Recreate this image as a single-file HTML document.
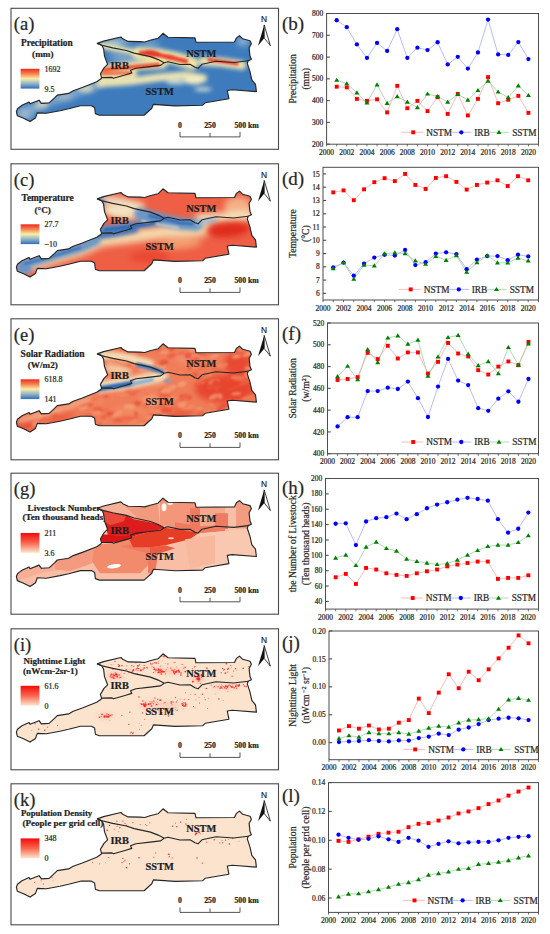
<!DOCTYPE html><html><head><meta charset="utf-8"><style>html,body{margin:0;padding:0;background:#fff;width:550px;height:934px;overflow:hidden;}svg{display:block;}</style></head><body>
<svg width="550" height="934" viewBox="0 0 550 934" font-family="'Liberation Serif', serif">
<style>text{stroke:#2a2a2a;stroke-width:0.22px;}</style>
<defs>
<linearGradient id="gPre" x1="0" y1="0" x2="0" y2="1"><stop offset="0" stop-color="#ec2a1f"/><stop offset="0.25" stop-color="#f7834f"/><stop offset="0.5" stop-color="#f6efa9"/><stop offset="0.75" stop-color="#93b3c6"/><stop offset="1" stop-color="#2f6eb8"/></linearGradient>
<linearGradient id="gRed" x1="0" y1="0" x2="0" y2="1"><stop offset="0" stop-color="#f50a0a"/><stop offset="0.5" stop-color="#f8664e"/><stop offset="1" stop-color="#fde4cc"/></linearGradient>
<filter id="blur3" x="-30%" y="-30%" width="160%" height="160%"><feGaussianBlur stdDeviation="3"/></filter>
<filter id="blur2" x="-30%" y="-30%" width="160%" height="160%"><feGaussianBlur stdDeviation="2"/></filter>
<filter id="blur1" x="-30%" y="-30%" width="160%" height="160%"><feGaussianBlur stdDeviation="1.2"/></filter>
<filter id="blur0" x="-30%" y="-30%" width="160%" height="160%"><feGaussianBlur stdDeviation="0.4"/></filter>
</defs>
<rect width="550" height="934" fill="#fff"/>
<rect x="11" y="8.3" width="267.5" height="141" fill="none" stroke="#4a4a4a" stroke-width="1.1"/>
<text x="13.8" y="30.3" font-size="18.5" fill="#262626">(a)</text>
<text x="21.1" y="45.8" font-size="9.3" font-weight="bold" fill="#1a1a1a">Precipitation</text>
<text x="32.1" y="56.6" font-size="9.2" font-weight="bold" fill="#1a1a1a">(mm)</text>
<rect x="20.6" y="68.8" width="18.8" height="19.8" fill="url(#gPre)"/>
<text x="44.6" y="71.8" font-size="8" fill="#262626">1692</text>
<text x="44.6" y="91.6" font-size="8" fill="#262626">9.5</text>
<g transform="translate(0,8.3)">
<clipPath id="clipa"><polygon points="16.4,103.3 17.5,100.5 19.1,99.2 22.0,97.0 29.1,93.7 30.0,95.5 39.1,91.9 41.4,95.1 49.1,94.6 54.5,89.6 57.3,86.8 68.6,85.1 73.2,82.4 82.3,79.2 96.7,73.5 101.1,70.5 101.5,69.1 100.4,65.5 101.8,63.3 104.0,59.6 107.6,56.0 104.5,47.8 103.6,40.5 101.8,36.9 97.3,35.1 103.6,32.8 120.9,28.7 122.7,30.5 128.2,33.1 140.0,33.3 144.7,33.7 150.0,32.0 158.0,30.0 163.0,25.0 168.0,29.0 195.0,29.6 196.0,34.0 234.5,33.7 236.4,29.6 239.5,27.4 242.7,30.5 250.0,32.4 251.4,35.5 249.1,39.6 250.0,47.8 251.4,51.0 248.2,52.4 247.3,55.1 250.0,63.3 251.8,71.5 255.5,76.0 256.4,83.3 232.2,81.4 227.3,82.2 228.9,90.4 205.2,94.5 202.7,96.9 175.0,97.6 153.4,96.1 151.8,100.0 144.1,106.9 99.3,106.9 95.4,105.4 94.6,99.2 91.4,97.4 80.5,97.4 68.6,100.5 60.0,102.4 46.4,105.0 37.3,104.6 35.5,109.6 30.0,113.3 23.6,110.0 17.3,107.4"/></clipPath>
<g clip-path="url(#clipa)">
<rect x="0" y="0" width="280" height="141" fill="#3d7bbd"/>
<g filter="url(#blur3)">
<ellipse cx="120" cy="33" rx="12" ry="3" fill="#8fb4d0" transform="rotate(0 120 33)"/>
<ellipse cx="243" cy="33" rx="6" ry="4" fill="#9dbcd8" transform="rotate(0 243 33)"/>
<ellipse cx="112" cy="36" rx="10" ry="2.5" fill="#c8d4c8" transform="rotate(8 112 36)"/>
<ellipse cx="150" cy="36" rx="10" ry="2.5" fill="#90b0d0" transform="rotate(0 150 36)"/>
<path d="M20,104 L40,97 L60,90 L80,83 L98,76" stroke="#80a7cc" stroke-width="8" fill="none" stroke-linecap="round" stroke-linejoin="round"/>
<ellipse cx="25" cy="106" rx="8" ry="6" fill="#9ab8cf" transform="rotate(0 25 106)"/>
<ellipse cx="40" cy="98" rx="6" ry="3" fill="#b8c8c8" transform="rotate(0 40 98)"/>
<ellipse cx="65" cy="89" rx="8" ry="2.5" fill="#c0ccc4" transform="rotate(0 65 89)"/>
<ellipse cx="88" cy="81" rx="6" ry="2" fill="#d0d4c0" transform="rotate(0 88 81)"/>
<ellipse cx="125" cy="50" rx="16" ry="5" fill="#7ea4c8" transform="rotate(12 125 50)"/>
</g>
<g filter="url(#blur2)">
<path d="M100,37 L115,40 L135,44" stroke="#ece6b0" stroke-width="6" fill="none" stroke-linecap="round" stroke-linejoin="round"/>
<path d="M138,45 L160,47 L175,50 L192,55" stroke="#f1e4a6" stroke-width="13" fill="none" stroke-linecap="round" stroke-linejoin="round"/>
<path d="M203,53 L222,54 L242,57" stroke="#efe3ad" stroke-width="9" fill="none" stroke-linecap="round" stroke-linejoin="round"/>
<path d="M102,61 L130,58 L163,56" stroke="#efe0a8" stroke-width="9" fill="none" stroke-linecap="round" stroke-linejoin="round"/>
<path d="M98,67 L133,65" stroke="#efe0a8" stroke-width="8" fill="none" stroke-linecap="round" stroke-linejoin="round"/>
<path d="M100,75 L130,73 L160,69 L185,67 L203,70" stroke="#e9e2b2" stroke-width="8" fill="none" stroke-linecap="round" stroke-linejoin="round"/>
<ellipse cx="194" cy="72" rx="10" ry="4" fill="#f2ecc0" transform="rotate(0 194 72)"/>
<ellipse cx="203" cy="81" rx="9" ry="2.2" fill="#c8d4cc" transform="rotate(0 203 81)"/>
<ellipse cx="42" cy="96" rx="6" ry="2.5" fill="#d0d4bc" transform="rotate(0 42 96)"/>
<ellipse cx="85" cy="80" rx="8" ry="3" fill="#d0d4bc" transform="rotate(0 85 80)"/>
<ellipse cx="176" cy="74" rx="10" ry="2.5" fill="#c0d0d0" transform="rotate(0 176 74)"/>
</g>
<g filter="url(#blur1)">
<path d="M141,44.5 L158,46.5 L172,49.5 L186,53" stroke="#ec4a33" stroke-width="4.5" fill="none" stroke-linecap="round" stroke-linejoin="round"/>
<ellipse cx="152" cy="45" rx="9" ry="3.2" fill="#e83a2a" transform="rotate(8 152 45)"/>
<ellipse cx="170" cy="49" rx="6" ry="2.5" fill="#ea4530" transform="rotate(10 170 49)"/>
<path d="M209,51.5 L224,53.5 L237,55.5" stroke="#ec4a33" stroke-width="3.5" fill="none" stroke-linecap="round" stroke-linejoin="round"/>
<path d="M104,61.5 L130,59 L158,56.5" stroke="#ee5535" stroke-width="4" fill="none" stroke-linecap="round" stroke-linejoin="round"/>
<path d="M101,65.5 L130,64.5" stroke="#f06a42" stroke-width="3" fill="none" stroke-linecap="round" stroke-linejoin="round"/>
</g>
</g>
<polygon points="16.4,103.3 17.5,100.5 19.1,99.2 22.0,97.0 29.1,93.7 30.0,95.5 39.1,91.9 41.4,95.1 49.1,94.6 54.5,89.6 57.3,86.8 68.6,85.1 73.2,82.4 82.3,79.2 96.7,73.5 101.1,70.5 101.5,69.1 100.4,65.5 101.8,63.3 104.0,59.6 107.6,56.0 104.5,47.8 103.6,40.5 101.8,36.9 97.3,35.1 103.6,32.8 120.9,28.7 122.7,30.5 128.2,33.1 140.0,33.3 144.7,33.7 150.0,32.0 158.0,30.0 163.0,25.0 168.0,29.0 195.0,29.6 196.0,34.0 234.5,33.7 236.4,29.6 239.5,27.4 242.7,30.5 250.0,32.4 251.4,35.5 249.1,39.6 250.0,47.8 251.4,51.0 248.2,52.4 247.3,55.1 250.0,63.3 251.8,71.5 255.5,76.0 256.4,83.3 232.2,81.4 227.3,82.2 228.9,90.4 205.2,94.5 202.7,96.9 175.0,97.6 153.4,96.1 151.8,100.0 144.1,106.9 99.3,106.9 95.4,105.4 94.6,99.2 91.4,97.4 80.5,97.4 68.6,100.5 60.0,102.4 46.4,105.0 37.3,104.6 35.5,109.6 30.0,113.3 23.6,110.0 17.3,107.4" fill="none" stroke="#262626" stroke-width="1.15" stroke-linejoin="round"/>
<polyline points="97.3,35.1 101.8,36.9 112.7,39.6 126.4,42.2 134.2,44.8 150.5,48.3 158.2,51.3 164.2,54.5" fill="none" stroke="#262626" stroke-width="1.15" stroke-linejoin="round"/>
<polyline points="164.2,54.5 168.0,53.5 180.0,56.2 190.0,56.0 195.0,59.0 198.0,60.0 202.0,56.0 216.0,53.0 233.6,54.2 248.2,52.4" fill="none" stroke="#262626" stroke-width="1.15" stroke-linejoin="round"/>
<polyline points="164.2,54.5 160.5,57.1 148.0,58.6 135.9,59.9 130.5,61.9 131.8,64.6 125.0,66.7 113.5,70.0 112.0,69.1 101.5,69.3" fill="none" stroke="#262626" stroke-width="1.15" stroke-linejoin="round"/>
<text x="186.3" y="48.4" font-size="10.4" font-weight="bold" fill="#1a1a1a">NSTM</text>
<text x="110.5" y="60.4" font-size="10.4" font-weight="bold" fill="#1a1a1a">IRB</text>
<text x="145.6" y="86.6" font-size="10.4" font-weight="bold" fill="#1a1a1a">SSTM</text>
<text x="180" y="119.4" font-size="7.8" font-weight="bold" text-anchor="middle" fill="#1a1a1a">0</text>
<text x="210" y="119.4" font-size="7.8" font-weight="bold" text-anchor="middle" fill="#1a1a1a">250</text>
<text x="234.4" y="119.4" font-size="7.8" font-weight="bold" fill="#1a1a1a">500 km</text>
<polyline points="180,123.6 180,128.6 240,128.6 240,123.6" fill="none" stroke="#555" stroke-width="1"/>
<line x1="210" y1="124.6" x2="210" y2="128.6" stroke="#555" stroke-width="1"/>
<text x="264" y="14.0" font-size="9.9" text-anchor="middle" font-family="Liberation Sans" fill="#1a1a1a" transform="translate(264,14) scale(0.85,1) translate(-264,-14)">N</text>
<path d="M264.2,16.6 L258.0,37.4 L264.3,29.8Z" fill="#111"/>
<path d="M264.2,16.6 L270.4,37.4 L264.3,29.8Z" fill="#fff" stroke="#111" stroke-width="0.8" stroke-linejoin="miter"/>
</g>
<rect x="11" y="163.8" width="267.5" height="141" fill="none" stroke="#4a4a4a" stroke-width="1.1"/>
<text x="13.8" y="185.8" font-size="18.5" fill="#262626">(c)</text>
<text x="21.5" y="201.3" font-size="9.4" font-weight="bold" fill="#1a1a1a">Temperature</text>
<text x="34.5" y="212.5" font-size="9.2" font-weight="bold" fill="#1a1a1a">(°C)</text>
<rect x="20.6" y="224.3" width="18.8" height="19.8" fill="url(#gPre)"/>
<text x="44.6" y="227.3" font-size="8" fill="#262626">27.7</text>
<text x="44.6" y="247.1" font-size="8" fill="#262626">−10</text>
<g transform="translate(0,163.8)">
<clipPath id="clipc"><polygon points="16.4,103.3 17.5,100.5 19.1,99.2 22.0,97.0 29.1,93.7 30.0,95.5 39.1,91.9 41.4,95.1 49.1,94.6 54.5,89.6 57.3,86.8 68.6,85.1 73.2,82.4 82.3,79.2 96.7,73.5 101.1,70.5 101.5,69.1 100.4,65.5 101.8,63.3 104.0,59.6 107.6,56.0 104.5,47.8 103.6,40.5 101.8,36.9 97.3,35.1 103.6,32.8 120.9,28.7 122.7,30.5 128.2,33.1 140.0,33.3 144.7,33.7 150.0,32.0 158.0,30.0 163.0,25.0 168.0,29.0 195.0,29.6 196.0,34.0 234.5,33.7 236.4,29.6 239.5,27.4 242.7,30.5 250.0,32.4 251.4,35.5 249.1,39.6 250.0,47.8 251.4,51.0 248.2,52.4 247.3,55.1 250.0,63.3 251.8,71.5 255.5,76.0 256.4,83.3 232.2,81.4 227.3,82.2 228.9,90.4 205.2,94.5 202.7,96.9 175.0,97.6 153.4,96.1 151.8,100.0 144.1,106.9 99.3,106.9 95.4,105.4 94.6,99.2 91.4,97.4 80.5,97.4 68.6,100.5 60.0,102.4 46.4,105.0 37.3,104.6 35.5,109.6 30.0,113.3 23.6,110.0 17.3,107.4"/></clipPath>
<g clip-path="url(#clipc)">
<rect x="0" y="0" width="280" height="141" fill="#ee5f45"/>
<g filter="url(#blur3)">
<path d="M100,36 L120,38 L140,43" stroke="#f2e0c0" stroke-width="9" fill="none" stroke-linecap="round" stroke-linejoin="round"/>
<ellipse cx="122" cy="49" rx="20" ry="6" fill="#f5dcb4" transform="rotate(8 122 49)"/>
<path d="M96,77 L130,73 L165,68 L205,66" stroke="#f5d6a8" stroke-width="13" fill="none" stroke-linecap="round" stroke-linejoin="round"/>
<path d="M22,104 L50,97 L80,88 L98,80" stroke="#f3d4a8" stroke-width="9" fill="none" stroke-linecap="round" stroke-linejoin="round"/>
<ellipse cx="238" cy="42" rx="14" ry="9" fill="#f6b088" transform="rotate(0 238 42)"/>
<path d="M200,55 L250,52" stroke="#f5e0b8" stroke-width="10" fill="none" stroke-linecap="round" stroke-linejoin="round"/>
<ellipse cx="110" cy="36" rx="12" ry="3" fill="#e8e0c8" transform="rotate(8 110 36)"/>
<ellipse cx="180" cy="80" rx="22" ry="5" fill="#f3a070" transform="rotate(-5 180 80)"/>
</g>
<g filter="url(#blur2)">
<path d="M140,50 L152,53 L166,57 L182,60 L197,61" stroke="#6a98c8" stroke-width="12" fill="none" stroke-linecap="round" stroke-linejoin="round"/>
<path d="M198,59 L215,56" stroke="#9ab8d0" stroke-width="5" fill="none" stroke-linecap="round" stroke-linejoin="round"/>
<path d="M101,66 L130,62 L161,58" stroke="#5a8cc4" stroke-width="7" fill="none" stroke-linecap="round" stroke-linejoin="round"/>
<path d="M94,73 L115,70 L135,66" stroke="#3a72b8" stroke-width="6" fill="none" stroke-linecap="round" stroke-linejoin="round"/>
<path d="M20,101 L50,93 L80,84 L96,77" stroke="#6a98c8" stroke-width="9" fill="none" stroke-linecap="round" stroke-linejoin="round"/>
<ellipse cx="24" cy="105" rx="8" ry="6" fill="#6a94c4" transform="rotate(0 24 105)"/>
<ellipse cx="101" cy="38" rx="4" ry="3" fill="#3a70b0" transform="rotate(0 101 38)"/>
<ellipse cx="118" cy="47" rx="12" ry="3" fill="#f0e4c8" transform="rotate(8 118 47)"/>
</g>
<g filter="url(#blur1)">
<path d="M150,52 L164,55 L180,59 L192,60" stroke="#3a6fb5" stroke-width="3.5" fill="none" stroke-linecap="round" stroke-linejoin="round"/>
<path d="M142,57 L160,61 L178,64" stroke="#c8d4d0" stroke-width="2" fill="none" stroke-linecap="round" stroke-linejoin="round"/>
<path d="M105,66 L130,63 L155,59" stroke="#2f66b0" stroke-width="3" fill="none" stroke-linecap="round" stroke-linejoin="round"/>
<path d="M25,100 L50,93 L80,84" stroke="#3f76ba" stroke-width="2.5" fill="none" stroke-linecap="round" stroke-linejoin="round"/>
</g>
<g filter="url(#blur3)">
<ellipse cx="228" cy="66" rx="22" ry="7" fill="#e02a1f" transform="rotate(-5 228 66)"/>
<ellipse cx="150" cy="93" rx="20" ry="6" fill="#ea4632" transform="rotate(0 150 93)"/>
</g>
</g>
<polygon points="16.4,103.3 17.5,100.5 19.1,99.2 22.0,97.0 29.1,93.7 30.0,95.5 39.1,91.9 41.4,95.1 49.1,94.6 54.5,89.6 57.3,86.8 68.6,85.1 73.2,82.4 82.3,79.2 96.7,73.5 101.1,70.5 101.5,69.1 100.4,65.5 101.8,63.3 104.0,59.6 107.6,56.0 104.5,47.8 103.6,40.5 101.8,36.9 97.3,35.1 103.6,32.8 120.9,28.7 122.7,30.5 128.2,33.1 140.0,33.3 144.7,33.7 150.0,32.0 158.0,30.0 163.0,25.0 168.0,29.0 195.0,29.6 196.0,34.0 234.5,33.7 236.4,29.6 239.5,27.4 242.7,30.5 250.0,32.4 251.4,35.5 249.1,39.6 250.0,47.8 251.4,51.0 248.2,52.4 247.3,55.1 250.0,63.3 251.8,71.5 255.5,76.0 256.4,83.3 232.2,81.4 227.3,82.2 228.9,90.4 205.2,94.5 202.7,96.9 175.0,97.6 153.4,96.1 151.8,100.0 144.1,106.9 99.3,106.9 95.4,105.4 94.6,99.2 91.4,97.4 80.5,97.4 68.6,100.5 60.0,102.4 46.4,105.0 37.3,104.6 35.5,109.6 30.0,113.3 23.6,110.0 17.3,107.4" fill="none" stroke="#262626" stroke-width="1.15" stroke-linejoin="round"/>
<polyline points="97.3,35.1 101.8,36.9 112.7,39.6 126.4,42.2 134.2,44.8 150.5,48.3 158.2,51.3 164.2,54.5" fill="none" stroke="#262626" stroke-width="1.15" stroke-linejoin="round"/>
<polyline points="164.2,54.5 168.0,53.5 180.0,56.2 190.0,56.0 195.0,59.0 198.0,60.0 202.0,56.0 216.0,53.0 233.6,54.2 248.2,52.4" fill="none" stroke="#262626" stroke-width="1.15" stroke-linejoin="round"/>
<polyline points="164.2,54.5 160.5,57.1 148.0,58.6 135.9,59.9 130.5,61.9 131.8,64.6 125.0,66.7 113.5,70.0 112.0,69.1 101.5,69.3" fill="none" stroke="#262626" stroke-width="1.15" stroke-linejoin="round"/>
<text x="186.3" y="48.4" font-size="10.4" font-weight="bold" fill="#1a1a1a">NSTM</text>
<text x="110.5" y="60.4" font-size="10.4" font-weight="bold" fill="#1a1a1a">IRB</text>
<text x="145.6" y="86.6" font-size="10.4" font-weight="bold" fill="#1a1a1a">SSTM</text>
<text x="180" y="119.4" font-size="7.8" font-weight="bold" text-anchor="middle" fill="#1a1a1a">0</text>
<text x="210" y="119.4" font-size="7.8" font-weight="bold" text-anchor="middle" fill="#1a1a1a">250</text>
<text x="234.4" y="119.4" font-size="7.8" font-weight="bold" fill="#1a1a1a">500 km</text>
<polyline points="180,123.6 180,128.6 240,128.6 240,123.6" fill="none" stroke="#555" stroke-width="1"/>
<line x1="210" y1="124.6" x2="210" y2="128.6" stroke="#555" stroke-width="1"/>
<text x="264" y="14.0" font-size="9.9" text-anchor="middle" font-family="Liberation Sans" fill="#1a1a1a" transform="translate(264,14) scale(0.85,1) translate(-264,-14)">N</text>
<path d="M264.2,16.6 L258.0,37.4 L264.3,29.8Z" fill="#111"/>
<path d="M264.2,16.6 L270.4,37.4 L264.3,29.8Z" fill="#fff" stroke="#111" stroke-width="0.8" stroke-linejoin="miter"/>
</g>
<rect x="11" y="318.8" width="267.5" height="141" fill="none" stroke="#4a4a4a" stroke-width="1.1"/>
<text x="13.8" y="340.8" font-size="18.5" fill="#262626">(e)</text>
<text x="20.6" y="357.1" font-size="9.5" font-weight="bold" fill="#1a1a1a">Solar Radiation</text>
<text x="27.7" y="367.8" font-size="9.2" font-weight="bold" fill="#1a1a1a">(W/m2)</text>
<rect x="20.6" y="379.3" width="18.8" height="19.8" fill="url(#gPre)"/>
<text x="44.6" y="382.3" font-size="8" fill="#262626">618.8</text>
<text x="44.6" y="402.1" font-size="8" fill="#262626">141</text>
<g transform="translate(0,318.8)">
<clipPath id="clipe"><polygon points="16.4,103.3 17.5,100.5 19.1,99.2 22.0,97.0 29.1,93.7 30.0,95.5 39.1,91.9 41.4,95.1 49.1,94.6 54.5,89.6 57.3,86.8 68.6,85.1 73.2,82.4 82.3,79.2 96.7,73.5 101.1,70.5 101.5,69.1 100.4,65.5 101.8,63.3 104.0,59.6 107.6,56.0 104.5,47.8 103.6,40.5 101.8,36.9 97.3,35.1 103.6,32.8 120.9,28.7 122.7,30.5 128.2,33.1 140.0,33.3 144.7,33.7 150.0,32.0 158.0,30.0 163.0,25.0 168.0,29.0 195.0,29.6 196.0,34.0 234.5,33.7 236.4,29.6 239.5,27.4 242.7,30.5 250.0,32.4 251.4,35.5 249.1,39.6 250.0,47.8 251.4,51.0 248.2,52.4 247.3,55.1 250.0,63.3 251.8,71.5 255.5,76.0 256.4,83.3 232.2,81.4 227.3,82.2 228.9,90.4 205.2,94.5 202.7,96.9 175.0,97.6 153.4,96.1 151.8,100.0 144.1,106.9 99.3,106.9 95.4,105.4 94.6,99.2 91.4,97.4 80.5,97.4 68.6,100.5 60.0,102.4 46.4,105.0 37.3,104.6 35.5,109.6 30.0,113.3 23.6,110.0 17.3,107.4"/></clipPath>
<g clip-path="url(#clipe)">
<rect x="0" y="0" width="280" height="141" fill="#f07c58"/>
<g filter="url(#blur3)">
<ellipse cx="225" cy="70" rx="30" ry="14" fill="#e8452f" transform="rotate(0 225 70)"/>
<ellipse cx="238" cy="45" rx="14" ry="12" fill="#e94a32" transform="rotate(0 238 45)"/>
<ellipse cx="175" cy="95" rx="18" ry="5" fill="#ea5a3e" transform="rotate(0 175 95)"/>
<ellipse cx="60" cy="100" rx="15" ry="4" fill="#ea5a3e" transform="rotate(-15 60 100)"/>
<ellipse cx="130" cy="92" rx="16" ry="6" fill="#f08a62" transform="rotate(0 130 92)"/>
<ellipse cx="190" cy="40" rx="15" ry="5" fill="#f29070" transform="rotate(0 190 40)"/>
<ellipse cx="150" cy="80" rx="10" ry="4" fill="#f39e7a" transform="rotate(0 150 80)"/>
<ellipse cx="25" cy="106" rx="10" ry="5" fill="#e44c34" transform="rotate(0 25 106)"/>
<ellipse cx="160" cy="97" rx="14" ry="4" fill="#f4a27e" transform="rotate(0 160 97)"/>
</g>
<g filter="url(#blur1)" opacity="0.7">
<ellipse cx="166.4" cy="91.8" rx="6.0" ry="2.9" fill="#e44a34" transform="rotate(1 166.4 91.8)"/>
<ellipse cx="22.0" cy="66.9" rx="6.7" ry="2.3" fill="#e9573a" transform="rotate(7 22.0 66.9)"/>
<ellipse cx="105.3" cy="103.2" rx="3.9" ry="1.2" fill="#f28a62" transform="rotate(-16 105.3 103.2)"/>
<ellipse cx="114.2" cy="41.4" rx="6.3" ry="1.8" fill="#e9573a" transform="rotate(2 114.2 41.4)"/>
<ellipse cx="48.7" cy="80.6" rx="2.6" ry="1.0" fill="#f28a62" transform="rotate(5 48.7 80.6)"/>
<ellipse cx="203.0" cy="111.4" rx="2.8" ry="1.3" fill="#f28a62" transform="rotate(-14 203.0 111.4)"/>
<ellipse cx="146.0" cy="86.0" rx="3.0" ry="2.9" fill="#ec6446" transform="rotate(-1 146.0 86.0)"/>
<ellipse cx="87.6" cy="57.5" rx="2.8" ry="1.3" fill="#f5a27a" transform="rotate(-23 87.6 57.5)"/>
<ellipse cx="213.6" cy="77.8" rx="5.0" ry="2.4" fill="#f5a27a" transform="rotate(-23 213.6 77.8)"/>
<ellipse cx="213.9" cy="68.3" rx="3.6" ry="2.0" fill="#e9573a" transform="rotate(-0 213.9 68.3)"/>
<ellipse cx="77.3" cy="109.5" rx="6.7" ry="1.7" fill="#e44a34" transform="rotate(-11 77.3 109.5)"/>
<ellipse cx="206.4" cy="58.0" rx="4.9" ry="1.0" fill="#f28a62" transform="rotate(-23 206.4 58.0)"/>
<ellipse cx="166.6" cy="110.9" rx="2.6" ry="1.5" fill="#ec6446" transform="rotate(4 166.6 110.9)"/>
<ellipse cx="98.7" cy="56.9" rx="4.6" ry="2.6" fill="#f5a27a" transform="rotate(-21 98.7 56.9)"/>
<ellipse cx="223.9" cy="28.3" rx="6.7" ry="1.2" fill="#e44a34" transform="rotate(-13 223.9 28.3)"/>
<ellipse cx="103.1" cy="38.3" rx="3.4" ry="2.4" fill="#f5a27a" transform="rotate(-22 103.1 38.3)"/>
<ellipse cx="89.4" cy="96.9" rx="5.1" ry="2.4" fill="#ec6446" transform="rotate(-14 89.4 96.9)"/>
<ellipse cx="54.3" cy="29.4" rx="6.9" ry="2.1" fill="#f28a62" transform="rotate(-11 54.3 29.4)"/>
<ellipse cx="195.0" cy="55.9" rx="3.3" ry="2.3" fill="#e9573a" transform="rotate(-20 195.0 55.9)"/>
<ellipse cx="209.8" cy="55.1" rx="3.0" ry="3.0" fill="#f28a62" transform="rotate(-5 209.8 55.1)"/>
<ellipse cx="168.2" cy="95.9" rx="2.5" ry="1.9" fill="#ec6446" transform="rotate(-20 168.2 95.9)"/>
<ellipse cx="86.6" cy="65.8" rx="7.0" ry="2.7" fill="#ec6446" transform="rotate(9 86.6 65.8)"/>
<ellipse cx="248.3" cy="87.0" rx="3.6" ry="1.5" fill="#f28a62" transform="rotate(-9 248.3 87.0)"/>
<ellipse cx="42.4" cy="99.0" rx="4.7" ry="1.4" fill="#f5a27a" transform="rotate(8 42.4 99.0)"/>
<ellipse cx="58.8" cy="69.3" rx="4.6" ry="2.1" fill="#e9573a" transform="rotate(-7 58.8 69.3)"/>
<ellipse cx="206.0" cy="94.7" rx="5.5" ry="2.3" fill="#f5a27a" transform="rotate(2 206.0 94.7)"/>
<ellipse cx="150.9" cy="85.1" rx="6.2" ry="1.5" fill="#f5a27a" transform="rotate(9 150.9 85.1)"/>
<ellipse cx="247.5" cy="55.6" rx="2.9" ry="2.7" fill="#f5a27a" transform="rotate(-8 247.5 55.6)"/>
<ellipse cx="94.2" cy="49.6" rx="3.4" ry="2.0" fill="#f5a27a" transform="rotate(-1 94.2 49.6)"/>
<ellipse cx="99.5" cy="83.0" rx="5.7" ry="2.7" fill="#f28a62" transform="rotate(-13 99.5 83.0)"/>
<ellipse cx="226.4" cy="87.0" rx="6.9" ry="2.9" fill="#e44a34" transform="rotate(-7 226.4 87.0)"/>
<ellipse cx="253.2" cy="42.9" rx="3.8" ry="2.7" fill="#e9573a" transform="rotate(-15 253.2 42.9)"/>
<ellipse cx="189.9" cy="90.7" rx="2.9" ry="2.6" fill="#ec6446" transform="rotate(-5 189.9 90.7)"/>
<ellipse cx="88.5" cy="74.8" rx="6.3" ry="1.5" fill="#f28a62" transform="rotate(10 88.5 74.8)"/>
<ellipse cx="53.9" cy="64.7" rx="5.3" ry="1.4" fill="#e9573a" transform="rotate(-1 53.9 64.7)"/>
<ellipse cx="254.7" cy="113.2" rx="2.8" ry="2.8" fill="#f28a62" transform="rotate(-21 254.7 113.2)"/>
<ellipse cx="132.3" cy="74.3" rx="4.1" ry="1.7" fill="#e9573a" transform="rotate(-2 132.3 74.3)"/>
<ellipse cx="158.4" cy="46.4" rx="6.5" ry="1.0" fill="#f5a27a" transform="rotate(-11 158.4 46.4)"/>
<ellipse cx="223.0" cy="103.0" rx="5.4" ry="2.1" fill="#e44a34" transform="rotate(9 223.0 103.0)"/>
<ellipse cx="164.1" cy="33.5" rx="4.7" ry="1.7" fill="#f5a27a" transform="rotate(-5 164.1 33.5)"/>
<ellipse cx="213.9" cy="62.7" rx="6.1" ry="2.3" fill="#f28a62" transform="rotate(-12 213.9 62.7)"/>
<ellipse cx="53.1" cy="59.4" rx="4.4" ry="1.4" fill="#e9573a" transform="rotate(-20 53.1 59.4)"/>
<ellipse cx="100.3" cy="105.4" rx="2.0" ry="1.2" fill="#e44a34" transform="rotate(-5 100.3 105.4)"/>
<ellipse cx="146.1" cy="54.3" rx="6.4" ry="2.1" fill="#f28a62" transform="rotate(-10 146.1 54.3)"/>
<ellipse cx="134.9" cy="68.2" rx="5.5" ry="1.8" fill="#f28a62" transform="rotate(5 134.9 68.2)"/>
<ellipse cx="159.8" cy="48.4" rx="6.9" ry="2.0" fill="#f5a27a" transform="rotate(-10 159.8 48.4)"/>
<ellipse cx="244.7" cy="52.7" rx="6.6" ry="1.3" fill="#e44a34" transform="rotate(-24 244.7 52.7)"/>
<ellipse cx="248.5" cy="47.1" rx="2.2" ry="1.3" fill="#ec6446" transform="rotate(-11 248.5 47.1)"/>
<ellipse cx="144.4" cy="49.6" rx="6.7" ry="2.6" fill="#f5a27a" transform="rotate(-16 144.4 49.6)"/>
<ellipse cx="220.1" cy="89.9" rx="3.4" ry="2.0" fill="#e44a34" transform="rotate(10 220.1 89.9)"/>
<ellipse cx="171.7" cy="79.3" rx="5.7" ry="1.2" fill="#f5a27a" transform="rotate(2 171.7 79.3)"/>
<ellipse cx="83.6" cy="88.7" rx="5.1" ry="2.5" fill="#f5a27a" transform="rotate(-24 83.6 88.7)"/>
<ellipse cx="102.7" cy="92.1" rx="5.0" ry="1.1" fill="#ec6446" transform="rotate(-16 102.7 92.1)"/>
<ellipse cx="181.6" cy="34.7" rx="5.4" ry="1.4" fill="#ec6446" transform="rotate(-10 181.6 34.7)"/>
<ellipse cx="159.6" cy="87.0" rx="6.8" ry="2.3" fill="#ec6446" transform="rotate(5 159.6 87.0)"/>
<ellipse cx="130.6" cy="86.4" rx="5.6" ry="2.8" fill="#e9573a" transform="rotate(-9 130.6 86.4)"/>
<ellipse cx="88.8" cy="25.3" rx="5.9" ry="2.2" fill="#ec6446" transform="rotate(-2 88.8 25.3)"/>
<ellipse cx="236.3" cy="37.8" rx="4.4" ry="2.1" fill="#f5a27a" transform="rotate(-8 236.3 37.8)"/>
<ellipse cx="145.7" cy="63.3" rx="4.7" ry="1.1" fill="#f5a27a" transform="rotate(1 145.7 63.3)"/>
<ellipse cx="214.2" cy="96.3" rx="5.3" ry="1.1" fill="#e9573a" transform="rotate(0 214.2 96.3)"/>
<ellipse cx="257.6" cy="88.1" rx="2.2" ry="2.7" fill="#e9573a" transform="rotate(-17 257.6 88.1)"/>
<ellipse cx="188.1" cy="37.1" rx="3.5" ry="2.8" fill="#e44a34" transform="rotate(-20 188.1 37.1)"/>
<ellipse cx="60.0" cy="97.2" rx="2.3" ry="1.4" fill="#ec6446" transform="rotate(-6 60.0 97.2)"/>
<ellipse cx="196.2" cy="50.2" rx="4.9" ry="1.2" fill="#e44a34" transform="rotate(-11 196.2 50.2)"/>
<ellipse cx="47.6" cy="63.9" rx="3.6" ry="2.2" fill="#f5a27a" transform="rotate(-8 47.6 63.9)"/>
<ellipse cx="237.3" cy="37.4" rx="3.5" ry="2.1" fill="#f5a27a" transform="rotate(-1 237.3 37.4)"/>
<ellipse cx="236.2" cy="74.9" rx="5.1" ry="1.5" fill="#f5a27a" transform="rotate(-6 236.2 74.9)"/>
<ellipse cx="217.3" cy="50.5" rx="6.9" ry="2.6" fill="#ec6446" transform="rotate(5 217.3 50.5)"/>
<ellipse cx="194.0" cy="41.1" rx="5.6" ry="2.3" fill="#e9573a" transform="rotate(-22 194.0 41.1)"/>
<ellipse cx="37.2" cy="36.2" rx="5.0" ry="1.5" fill="#ec6446" transform="rotate(6 37.2 36.2)"/>
<ellipse cx="249.1" cy="34.7" rx="4.7" ry="2.1" fill="#f28a62" transform="rotate(-12 249.1 34.7)"/>
<ellipse cx="244.5" cy="63.6" rx="6.0" ry="2.5" fill="#ec6446" transform="rotate(-22 244.5 63.6)"/>
<ellipse cx="214.4" cy="37.6" rx="5.1" ry="1.7" fill="#f5a27a" transform="rotate(-17 214.4 37.6)"/>
<ellipse cx="241.1" cy="88.5" rx="6.0" ry="1.8" fill="#f5a27a" transform="rotate(0 241.1 88.5)"/>
<ellipse cx="172.4" cy="97.4" rx="4.2" ry="2.7" fill="#e44a34" transform="rotate(-7 172.4 97.4)"/>
<ellipse cx="256.3" cy="44.3" rx="2.9" ry="1.1" fill="#f28a62" transform="rotate(-24 256.3 44.3)"/>
<ellipse cx="64.2" cy="28.6" rx="6.4" ry="2.0" fill="#e9573a" transform="rotate(2 64.2 28.6)"/>
<ellipse cx="118.8" cy="52.0" rx="6.7" ry="2.8" fill="#ec6446" transform="rotate(-14 118.8 52.0)"/>
<ellipse cx="39.2" cy="38.9" rx="2.8" ry="1.7" fill="#ec6446" transform="rotate(-12 39.2 38.9)"/>
<ellipse cx="52.0" cy="47.9" rx="3.4" ry="1.3" fill="#f28a62" transform="rotate(-15 52.0 47.9)"/>
<ellipse cx="23.1" cy="105.7" rx="3.7" ry="2.5" fill="#e9573a" transform="rotate(-14 23.1 105.7)"/>
<ellipse cx="182.1" cy="85.6" rx="4.4" ry="2.9" fill="#f5a27a" transform="rotate(-21 182.1 85.6)"/>
<ellipse cx="85.7" cy="85.7" rx="5.6" ry="1.3" fill="#e9573a" transform="rotate(-18 85.7 85.7)"/>
<ellipse cx="154.7" cy="84.1" rx="5.1" ry="2.8" fill="#f5a27a" transform="rotate(-0 154.7 84.1)"/>
<ellipse cx="59.8" cy="57.5" rx="2.3" ry="3.0" fill="#f28a62" transform="rotate(-9 59.8 57.5)"/>
<ellipse cx="57.7" cy="43.8" rx="2.2" ry="2.2" fill="#f5a27a" transform="rotate(0 57.7 43.8)"/>
<ellipse cx="16.5" cy="30.5" rx="5.9" ry="1.8" fill="#e44a34" transform="rotate(-23 16.5 30.5)"/>
<ellipse cx="218.0" cy="100.4" rx="4.8" ry="2.9" fill="#f28a62" transform="rotate(0 218.0 100.4)"/>
<ellipse cx="233.4" cy="69.2" rx="6.7" ry="1.1" fill="#e9573a" transform="rotate(-16 233.4 69.2)"/>
<ellipse cx="135.9" cy="95.3" rx="2.2" ry="2.7" fill="#e9573a" transform="rotate(-9 135.9 95.3)"/>
<ellipse cx="227.6" cy="110.5" rx="3.0" ry="2.4" fill="#f28a62" transform="rotate(-3 227.6 110.5)"/>
<ellipse cx="144.1" cy="32.6" rx="3.6" ry="1.2" fill="#f28a62" transform="rotate(-6 144.1 32.6)"/>
<ellipse cx="160.4" cy="102.1" rx="3.1" ry="1.0" fill="#ec6446" transform="rotate(-6 160.4 102.1)"/>
<ellipse cx="117.8" cy="94.1" rx="4.6" ry="1.3" fill="#f5a27a" transform="rotate(-25 117.8 94.1)"/>
<ellipse cx="182.3" cy="105.2" rx="7.0" ry="2.1" fill="#ec6446" transform="rotate(-20 182.3 105.2)"/>
<ellipse cx="36.3" cy="94.5" rx="6.1" ry="1.6" fill="#e9573a" transform="rotate(-20 36.3 94.5)"/>
<ellipse cx="129.6" cy="87.7" rx="6.0" ry="2.9" fill="#f5a27a" transform="rotate(-2 129.6 87.7)"/>
<ellipse cx="29.9" cy="88.1" rx="2.2" ry="1.4" fill="#f5a27a" transform="rotate(-15 29.9 88.1)"/>
<ellipse cx="230.2" cy="31.5" rx="5.8" ry="1.8" fill="#e9573a" transform="rotate(2 230.2 31.5)"/>
<ellipse cx="232.7" cy="83.9" rx="5.8" ry="2.1" fill="#e9573a" transform="rotate(-10 232.7 83.9)"/>
<ellipse cx="191.9" cy="88.1" rx="3.3" ry="2.6" fill="#f28a62" transform="rotate(-12 191.9 88.1)"/>
<ellipse cx="93.1" cy="52.6" rx="2.7" ry="2.0" fill="#e9573a" transform="rotate(-14 93.1 52.6)"/>
<ellipse cx="30.4" cy="93.7" rx="4.8" ry="1.1" fill="#f28a62" transform="rotate(-23 30.4 93.7)"/>
<ellipse cx="215.8" cy="64.2" rx="3.3" ry="2.9" fill="#e44a34" transform="rotate(-24 215.8 64.2)"/>
<ellipse cx="119.2" cy="57.6" rx="3.7" ry="1.0" fill="#f28a62" transform="rotate(-5 119.2 57.6)"/>
<ellipse cx="191.6" cy="33.6" rx="4.7" ry="1.3" fill="#ec6446" transform="rotate(-0 191.6 33.6)"/>
<ellipse cx="200.8" cy="64.1" rx="4.1" ry="1.7" fill="#f28a62" transform="rotate(-9 200.8 64.1)"/>
<ellipse cx="127.0" cy="64.1" rx="4.2" ry="2.5" fill="#e44a34" transform="rotate(8 127.0 64.1)"/>
<ellipse cx="130.0" cy="69.2" rx="2.0" ry="1.3" fill="#e9573a" transform="rotate(5 130.0 69.2)"/>
<ellipse cx="65.4" cy="25.1" rx="6.5" ry="1.5" fill="#f5a27a" transform="rotate(-0 65.4 25.1)"/>
<ellipse cx="110.4" cy="44.4" rx="3.4" ry="1.4" fill="#f5a27a" transform="rotate(-5 110.4 44.4)"/>
<ellipse cx="200.8" cy="95.7" rx="3.8" ry="2.6" fill="#e9573a" transform="rotate(3 200.8 95.7)"/>
<ellipse cx="165.2" cy="61.1" rx="2.7" ry="2.7" fill="#e9573a" transform="rotate(-8 165.2 61.1)"/>
<ellipse cx="37.8" cy="60.7" rx="5.8" ry="1.6" fill="#f5a27a" transform="rotate(7 37.8 60.7)"/>
<ellipse cx="130.9" cy="67.3" rx="4.7" ry="1.2" fill="#e9573a" transform="rotate(-18 130.9 67.3)"/>
<ellipse cx="40.2" cy="79.5" rx="5.1" ry="2.6" fill="#e9573a" transform="rotate(-24 40.2 79.5)"/>
<ellipse cx="163.3" cy="71.2" rx="4.5" ry="2.1" fill="#ec6446" transform="rotate(-1 163.3 71.2)"/>
<ellipse cx="253.7" cy="98.4" rx="6.6" ry="2.4" fill="#e44a34" transform="rotate(-2 253.7 98.4)"/>
<ellipse cx="50.6" cy="62.5" rx="6.8" ry="1.0" fill="#f28a62" transform="rotate(2 50.6 62.5)"/>
<ellipse cx="84.1" cy="32.0" rx="2.4" ry="1.7" fill="#ec6446" transform="rotate(-5 84.1 32.0)"/>
<ellipse cx="89.6" cy="108.6" rx="3.4" ry="2.4" fill="#e9573a" transform="rotate(-22 89.6 108.6)"/>
<ellipse cx="177.8" cy="111.1" rx="6.5" ry="2.4" fill="#e44a34" transform="rotate(4 177.8 111.1)"/>
<ellipse cx="163.5" cy="43.8" rx="4.6" ry="2.8" fill="#e44a34" transform="rotate(-17 163.5 43.8)"/>
<ellipse cx="117.9" cy="112.2" rx="5.4" ry="1.8" fill="#e44a34" transform="rotate(1 117.9 112.2)"/>
<ellipse cx="233.6" cy="106.9" rx="5.1" ry="1.8" fill="#e44a34" transform="rotate(-21 233.6 106.9)"/>
<ellipse cx="182.3" cy="113.5" rx="3.2" ry="1.2" fill="#f5a27a" transform="rotate(-15 182.3 113.5)"/>
<ellipse cx="208.7" cy="32.0" rx="6.8" ry="1.2" fill="#f28a62" transform="rotate(-11 208.7 32.0)"/>
<ellipse cx="69.6" cy="30.6" rx="4.8" ry="2.7" fill="#ec6446" transform="rotate(6 69.6 30.6)"/>
<ellipse cx="116.3" cy="63.3" rx="4.6" ry="2.8" fill="#f5a27a" transform="rotate(-14 116.3 63.3)"/>
<ellipse cx="35.5" cy="105.0" rx="3.7" ry="1.8" fill="#f5a27a" transform="rotate(-20 35.5 105.0)"/>
<ellipse cx="151.7" cy="79.3" rx="2.9" ry="1.4" fill="#f5a27a" transform="rotate(-4 151.7 79.3)"/>
<ellipse cx="192.1" cy="30.5" rx="4.4" ry="2.7" fill="#f5a27a" transform="rotate(9 192.1 30.5)"/>
<ellipse cx="61.0" cy="67.1" rx="3.9" ry="2.8" fill="#e44a34" transform="rotate(6 61.0 67.1)"/>
<ellipse cx="219.3" cy="67.9" rx="2.5" ry="1.4" fill="#e9573a" transform="rotate(-20 219.3 67.9)"/>
<ellipse cx="96.6" cy="58.1" rx="5.8" ry="2.1" fill="#f5a27a" transform="rotate(-10 96.6 58.1)"/>
<ellipse cx="213.4" cy="97.3" rx="5.6" ry="2.8" fill="#e9573a" transform="rotate(8 213.4 97.3)"/>
<ellipse cx="103.8" cy="98.3" rx="3.0" ry="1.6" fill="#e9573a" transform="rotate(-19 103.8 98.3)"/>
<ellipse cx="74.7" cy="109.7" rx="4.3" ry="1.0" fill="#f5a27a" transform="rotate(9 74.7 109.7)"/>
<ellipse cx="47.3" cy="25.3" rx="3.9" ry="1.7" fill="#ec6446" transform="rotate(1 47.3 25.3)"/>
<ellipse cx="199.6" cy="89.9" rx="3.5" ry="1.2" fill="#f5a27a" transform="rotate(-8 199.6 89.9)"/>
<ellipse cx="197.5" cy="42.6" rx="3.7" ry="1.3" fill="#e9573a" transform="rotate(7 197.5 42.6)"/>
<ellipse cx="154.9" cy="51.6" rx="3.7" ry="2.7" fill="#e9573a" transform="rotate(-7 154.9 51.6)"/>
<ellipse cx="68.5" cy="113.7" rx="3.4" ry="2.4" fill="#e9573a" transform="rotate(-20 68.5 113.7)"/>
<ellipse cx="149.5" cy="63.9" rx="2.9" ry="2.7" fill="#f28a62" transform="rotate(5 149.5 63.9)"/>
<ellipse cx="37.3" cy="57.0" rx="6.1" ry="1.0" fill="#f5a27a" transform="rotate(2 37.3 57.0)"/>
<ellipse cx="212.0" cy="26.9" rx="4.8" ry="2.9" fill="#e9573a" transform="rotate(5 212.0 26.9)"/>
<ellipse cx="27.9" cy="44.7" rx="6.9" ry="1.9" fill="#e9573a" transform="rotate(-8 27.9 44.7)"/>
<ellipse cx="247.3" cy="78.9" rx="6.2" ry="1.9" fill="#f28a62" transform="rotate(-24 247.3 78.9)"/>
<ellipse cx="110.4" cy="95.1" rx="4.2" ry="2.2" fill="#e44a34" transform="rotate(7 110.4 95.1)"/>
<ellipse cx="169.5" cy="28.2" rx="2.1" ry="2.5" fill="#ec6446" transform="rotate(-11 169.5 28.2)"/>
<ellipse cx="237.4" cy="59.1" rx="7.0" ry="2.5" fill="#f28a62" transform="rotate(6 237.4 59.1)"/>
<ellipse cx="88.6" cy="42.2" rx="6.2" ry="1.2" fill="#ec6446" transform="rotate(-12 88.6 42.2)"/>
<ellipse cx="117.4" cy="49.4" rx="4.3" ry="1.6" fill="#e9573a" transform="rotate(-2 117.4 49.4)"/>
<ellipse cx="201.9" cy="93.2" rx="2.4" ry="2.4" fill="#ec6446" transform="rotate(-24 201.9 93.2)"/>
<ellipse cx="230.1" cy="42.7" rx="2.1" ry="2.7" fill="#e44a34" transform="rotate(9 230.1 42.7)"/>
<ellipse cx="126.3" cy="67.1" rx="2.4" ry="1.7" fill="#e9573a" transform="rotate(-3 126.3 67.1)"/>
<ellipse cx="59.9" cy="63.6" rx="3.3" ry="2.5" fill="#f28a62" transform="rotate(-12 59.9 63.6)"/>
<ellipse cx="51.9" cy="71.6" rx="6.9" ry="2.4" fill="#e9573a" transform="rotate(-22 51.9 71.6)"/>
<ellipse cx="40.7" cy="60.9" rx="3.5" ry="2.8" fill="#ec6446" transform="rotate(-6 40.7 60.9)"/>
<ellipse cx="249.7" cy="46.7" rx="4.8" ry="1.5" fill="#ec6446" transform="rotate(-6 249.7 46.7)"/>
<ellipse cx="47.5" cy="68.3" rx="5.5" ry="1.0" fill="#ec6446" transform="rotate(2 47.5 68.3)"/>
<ellipse cx="71.5" cy="89.5" rx="3.2" ry="1.6" fill="#f28a62" transform="rotate(3 71.5 89.5)"/>
<ellipse cx="24.3" cy="59.7" rx="3.7" ry="1.0" fill="#ec6446" transform="rotate(-15 24.3 59.7)"/>
<ellipse cx="39.9" cy="36.1" rx="6.5" ry="2.1" fill="#e44a34" transform="rotate(-15 39.9 36.1)"/>
<ellipse cx="242.8" cy="110.5" rx="6.9" ry="1.6" fill="#e9573a" transform="rotate(-19 242.8 110.5)"/>
<ellipse cx="171.7" cy="30.0" rx="3.1" ry="2.2" fill="#e44a34" transform="rotate(-22 171.7 30.0)"/>
<ellipse cx="87.7" cy="74.7" rx="6.1" ry="1.3" fill="#ec6446" transform="rotate(-13 87.7 74.7)"/>
<ellipse cx="15.9" cy="75.8" rx="4.8" ry="1.1" fill="#e9573a" transform="rotate(1 15.9 75.8)"/>
<ellipse cx="98.1" cy="37.9" rx="6.8" ry="1.5" fill="#f28a62" transform="rotate(-15 98.1 37.9)"/>
<ellipse cx="195.1" cy="48.6" rx="6.1" ry="2.3" fill="#f28a62" transform="rotate(-11 195.1 48.6)"/>
<ellipse cx="185.6" cy="78.3" rx="6.4" ry="2.8" fill="#e44a34" transform="rotate(4 185.6 78.3)"/>
<ellipse cx="48.4" cy="29.7" rx="5.7" ry="2.1" fill="#e9573a" transform="rotate(-25 48.4 29.7)"/>
<ellipse cx="183.6" cy="80.0" rx="5.4" ry="2.3" fill="#ec6446" transform="rotate(-24 183.6 80.0)"/>
<ellipse cx="43.5" cy="89.9" rx="5.1" ry="2.2" fill="#e9573a" transform="rotate(-17 43.5 89.9)"/>
<ellipse cx="186.5" cy="89.7" rx="5.0" ry="1.1" fill="#f5a27a" transform="rotate(0 186.5 89.7)"/>
<ellipse cx="172.7" cy="105.3" rx="5.6" ry="1.1" fill="#f5a27a" transform="rotate(-2 172.7 105.3)"/>
<ellipse cx="44.3" cy="92.9" rx="3.3" ry="1.6" fill="#f5a27a" transform="rotate(-25 44.3 92.9)"/>
<ellipse cx="140.3" cy="106.2" rx="4.3" ry="1.3" fill="#f5a27a" transform="rotate(-17 140.3 106.2)"/>
<ellipse cx="91.5" cy="80.1" rx="4.3" ry="1.3" fill="#ec6446" transform="rotate(10 91.5 80.1)"/>
<ellipse cx="121.4" cy="71.6" rx="4.0" ry="1.4" fill="#f28a62" transform="rotate(7 121.4 71.6)"/>
<ellipse cx="182.0" cy="65.2" rx="4.9" ry="2.8" fill="#f5a27a" transform="rotate(-20 182.0 65.2)"/>
<ellipse cx="151.9" cy="70.2" rx="6.8" ry="1.4" fill="#f28a62" transform="rotate(-17 151.9 70.2)"/>
<ellipse cx="117.0" cy="95.6" rx="6.2" ry="1.6" fill="#f5a27a" transform="rotate(-21 117.0 95.6)"/>
<ellipse cx="118.4" cy="101.1" rx="4.6" ry="2.0" fill="#e9573a" transform="rotate(-0 118.4 101.1)"/>
<ellipse cx="247.4" cy="35.5" rx="5.8" ry="1.7" fill="#f5a27a" transform="rotate(-21 247.4 35.5)"/>
<ellipse cx="220.2" cy="77.4" rx="2.2" ry="2.9" fill="#f5a27a" transform="rotate(-12 220.2 77.4)"/>
<ellipse cx="190.9" cy="48.5" rx="4.0" ry="1.7" fill="#e9573a" transform="rotate(-22 190.9 48.5)"/>
<ellipse cx="86.1" cy="55.3" rx="7.0" ry="1.8" fill="#e9573a" transform="rotate(-23 86.1 55.3)"/>
<ellipse cx="58.8" cy="109.9" rx="6.0" ry="2.8" fill="#e9573a" transform="rotate(-7 58.8 109.9)"/>
<ellipse cx="127.2" cy="31.5" rx="4.1" ry="2.9" fill="#e9573a" transform="rotate(-6 127.2 31.5)"/>
<ellipse cx="180.6" cy="54.1" rx="3.8" ry="1.2" fill="#f28a62" transform="rotate(-12 180.6 54.1)"/>
<ellipse cx="201.8" cy="35.3" rx="4.7" ry="1.2" fill="#e44a34" transform="rotate(10 201.8 35.3)"/>
<ellipse cx="107.5" cy="35.3" rx="3.5" ry="1.9" fill="#e9573a" transform="rotate(4 107.5 35.3)"/>
<ellipse cx="65.8" cy="71.3" rx="6.6" ry="1.8" fill="#f28a62" transform="rotate(-3 65.8 71.3)"/>
<ellipse cx="94.1" cy="98.0" rx="4.6" ry="1.3" fill="#ec6446" transform="rotate(-23 94.1 98.0)"/>
<ellipse cx="89.5" cy="74.8" rx="6.0" ry="2.3" fill="#f28a62" transform="rotate(-16 89.5 74.8)"/>
<ellipse cx="195.8" cy="48.1" rx="4.4" ry="2.5" fill="#f28a62" transform="rotate(-4 195.8 48.1)"/>
<ellipse cx="159.8" cy="66.1" rx="6.8" ry="2.5" fill="#f28a62" transform="rotate(-9 159.8 66.1)"/>
<ellipse cx="47.4" cy="40.1" rx="2.4" ry="1.9" fill="#f28a62" transform="rotate(-3 47.4 40.1)"/>
<ellipse cx="209.9" cy="68.4" rx="3.5" ry="2.8" fill="#e9573a" transform="rotate(-3 209.9 68.4)"/>
<ellipse cx="146.8" cy="75.0" rx="3.0" ry="1.0" fill="#ec6446" transform="rotate(-5 146.8 75.0)"/>
<ellipse cx="170.3" cy="69.0" rx="6.4" ry="2.8" fill="#f5a27a" transform="rotate(-15 170.3 69.0)"/>
<ellipse cx="29.1" cy="51.0" rx="4.6" ry="1.6" fill="#f28a62" transform="rotate(-12 29.1 51.0)"/>
<ellipse cx="85.4" cy="42.5" rx="6.8" ry="1.1" fill="#f28a62" transform="rotate(-8 85.4 42.5)"/>
<ellipse cx="90.9" cy="101.8" rx="5.3" ry="1.8" fill="#ec6446" transform="rotate(4 90.9 101.8)"/>
<ellipse cx="97.6" cy="90.9" rx="4.5" ry="2.4" fill="#e9573a" transform="rotate(-3 97.6 90.9)"/>
<ellipse cx="53.7" cy="69.5" rx="2.0" ry="2.6" fill="#f5a27a" transform="rotate(2 53.7 69.5)"/>
<ellipse cx="25.5" cy="73.2" rx="4.4" ry="1.2" fill="#f28a62" transform="rotate(-18 25.5 73.2)"/>
<ellipse cx="222.2" cy="46.4" rx="6.1" ry="2.3" fill="#f28a62" transform="rotate(-12 222.2 46.4)"/>
<ellipse cx="171.9" cy="107.8" rx="3.0" ry="1.5" fill="#e44a34" transform="rotate(-23 171.9 107.8)"/>
<ellipse cx="105.7" cy="77.4" rx="3.1" ry="1.2" fill="#e44a34" transform="rotate(-5 105.7 77.4)"/>
<ellipse cx="199.1" cy="65.0" rx="5.4" ry="1.1" fill="#e9573a" transform="rotate(-16 199.1 65.0)"/>
<ellipse cx="50.8" cy="30.1" rx="2.1" ry="2.5" fill="#ec6446" transform="rotate(-21 50.8 30.1)"/>
<ellipse cx="231.1" cy="105.9" rx="4.3" ry="1.6" fill="#e44a34" transform="rotate(-22 231.1 105.9)"/>
<ellipse cx="166.5" cy="100.1" rx="5.1" ry="2.4" fill="#e44a34" transform="rotate(5 166.5 100.1)"/>
<ellipse cx="64.7" cy="83.6" rx="4.2" ry="2.0" fill="#f5a27a" transform="rotate(9 64.7 83.6)"/>
<ellipse cx="63.8" cy="73.1" rx="6.4" ry="1.3" fill="#e9573a" transform="rotate(-11 63.8 73.1)"/>
<ellipse cx="119.2" cy="52.0" rx="5.6" ry="1.8" fill="#e9573a" transform="rotate(-19 119.2 52.0)"/>
<ellipse cx="232.4" cy="87.0" rx="3.1" ry="1.8" fill="#ec6446" transform="rotate(-9 232.4 87.0)"/>
<ellipse cx="248.5" cy="49.7" rx="4.6" ry="1.4" fill="#f5a27a" transform="rotate(-1 248.5 49.7)"/>
<ellipse cx="200.3" cy="103.4" rx="6.6" ry="2.6" fill="#e44a34" transform="rotate(-10 200.3 103.4)"/>
<ellipse cx="229.5" cy="89.2" rx="4.2" ry="1.4" fill="#f5a27a" transform="rotate(-14 229.5 89.2)"/>
<ellipse cx="189.0" cy="103.0" rx="2.2" ry="2.6" fill="#f28a62" transform="rotate(9 189.0 103.0)"/>
<ellipse cx="103.8" cy="33.5" rx="5.0" ry="1.7" fill="#f5a27a" transform="rotate(-20 103.8 33.5)"/>
<ellipse cx="59.3" cy="74.0" rx="5.5" ry="2.9" fill="#e44a34" transform="rotate(1 59.3 74.0)"/>
<ellipse cx="128.4" cy="99.6" rx="6.5" ry="2.5" fill="#ec6446" transform="rotate(6 128.4 99.6)"/>
<ellipse cx="51.6" cy="25.6" rx="2.3" ry="2.2" fill="#ec6446" transform="rotate(1 51.6 25.6)"/>
<ellipse cx="79.3" cy="76.4" rx="6.4" ry="1.7" fill="#ec6446" transform="rotate(9 79.3 76.4)"/>
<ellipse cx="56.5" cy="63.4" rx="4.2" ry="2.6" fill="#f5a27a" transform="rotate(-17 56.5 63.4)"/>
<ellipse cx="41.5" cy="71.3" rx="5.9" ry="2.0" fill="#e44a34" transform="rotate(-22 41.5 71.3)"/>
<ellipse cx="91.3" cy="32.3" rx="3.6" ry="1.3" fill="#e9573a" transform="rotate(-13 91.3 32.3)"/>
<ellipse cx="90.2" cy="86.0" rx="2.6" ry="2.0" fill="#e9573a" transform="rotate(-22 90.2 86.0)"/>
<ellipse cx="24.9" cy="71.2" rx="4.3" ry="1.9" fill="#f5a27a" transform="rotate(-20 24.9 71.2)"/>
<ellipse cx="164.7" cy="76.5" rx="6.8" ry="2.0" fill="#e9573a" transform="rotate(6 164.7 76.5)"/>
<ellipse cx="158.4" cy="31.6" rx="3.9" ry="1.8" fill="#ec6446" transform="rotate(-19 158.4 31.6)"/>
<ellipse cx="36.4" cy="55.8" rx="3.0" ry="2.4" fill="#e9573a" transform="rotate(-9 36.4 55.8)"/>
<ellipse cx="216.7" cy="69.7" rx="2.2" ry="2.9" fill="#e9573a" transform="rotate(-0 216.7 69.7)"/>
<ellipse cx="159.6" cy="105.1" rx="3.5" ry="1.9" fill="#e44a34" transform="rotate(6 159.6 105.1)"/>
<ellipse cx="99.3" cy="70.6" rx="6.2" ry="2.1" fill="#f28a62" transform="rotate(-9 99.3 70.6)"/>
<ellipse cx="164.5" cy="61.5" rx="4.1" ry="1.3" fill="#e9573a" transform="rotate(-10 164.5 61.5)"/>
<ellipse cx="89.4" cy="57.9" rx="5.0" ry="2.2" fill="#ec6446" transform="rotate(-19 89.4 57.9)"/>
<ellipse cx="49.8" cy="52.5" rx="4.8" ry="2.2" fill="#e9573a" transform="rotate(-1 49.8 52.5)"/>
<ellipse cx="31.4" cy="32.3" rx="5.1" ry="1.6" fill="#e9573a" transform="rotate(-2 31.4 32.3)"/>
<ellipse cx="120.3" cy="51.7" rx="5.5" ry="2.1" fill="#e44a34" transform="rotate(10 120.3 51.7)"/>
<ellipse cx="222.4" cy="100.8" rx="5.1" ry="2.7" fill="#ec6446" transform="rotate(-19 222.4 100.8)"/>
<ellipse cx="257.2" cy="101.5" rx="2.4" ry="1.9" fill="#f5a27a" transform="rotate(-15 257.2 101.5)"/>
<ellipse cx="244.1" cy="109.6" rx="4.0" ry="2.7" fill="#f28a62" transform="rotate(10 244.1 109.6)"/>
<ellipse cx="50.1" cy="97.0" rx="4.7" ry="1.7" fill="#ec6446" transform="rotate(-19 50.1 97.0)"/>
<ellipse cx="17.3" cy="86.5" rx="3.6" ry="1.4" fill="#e44a34" transform="rotate(-20 17.3 86.5)"/>
<ellipse cx="140.4" cy="35.7" rx="3.9" ry="1.4" fill="#ec6446" transform="rotate(-18 140.4 35.7)"/>
<ellipse cx="74.2" cy="69.9" rx="4.9" ry="2.0" fill="#e44a34" transform="rotate(7 74.2 69.9)"/>
<ellipse cx="89.5" cy="55.5" rx="5.1" ry="1.3" fill="#e9573a" transform="rotate(8 89.5 55.5)"/>
<ellipse cx="62.7" cy="28.0" rx="4.4" ry="1.4" fill="#f5a27a" transform="rotate(7 62.7 28.0)"/>
<ellipse cx="206.5" cy="44.9" rx="4.3" ry="1.1" fill="#f28a62" transform="rotate(-21 206.5 44.9)"/>
<ellipse cx="41.4" cy="87.4" rx="2.6" ry="2.8" fill="#e44a34" transform="rotate(-3 41.4 87.4)"/>
<ellipse cx="238.6" cy="100.2" rx="5.9" ry="1.5" fill="#f5a27a" transform="rotate(-19 238.6 100.2)"/>
<ellipse cx="89.4" cy="60.2" rx="3.2" ry="2.9" fill="#f5a27a" transform="rotate(4 89.4 60.2)"/>
<ellipse cx="129.2" cy="45.9" rx="2.3" ry="2.5" fill="#e44a34" transform="rotate(1 129.2 45.9)"/>
<ellipse cx="68.0" cy="84.9" rx="2.5" ry="2.0" fill="#e9573a" transform="rotate(-1 68.0 84.9)"/>
<ellipse cx="126.2" cy="35.8" rx="2.4" ry="1.5" fill="#e44a34" transform="rotate(-12 126.2 35.8)"/>
<ellipse cx="133.3" cy="100.3" rx="5.7" ry="2.2" fill="#ec6446" transform="rotate(-14 133.3 100.3)"/>
<ellipse cx="100.8" cy="49.1" rx="3.1" ry="2.7" fill="#ec6446" transform="rotate(-5 100.8 49.1)"/>
<ellipse cx="51.3" cy="25.8" rx="4.9" ry="1.5" fill="#f5a27a" transform="rotate(-25 51.3 25.8)"/>
<ellipse cx="36.7" cy="46.3" rx="3.9" ry="2.3" fill="#f28a62" transform="rotate(-17 36.7 46.3)"/>
<ellipse cx="65.2" cy="107.9" rx="2.6" ry="2.2" fill="#e44a34" transform="rotate(-0 65.2 107.9)"/>
<ellipse cx="133.4" cy="103.4" rx="5.1" ry="2.4" fill="#f28a62" transform="rotate(-22 133.4 103.4)"/>
<ellipse cx="158.3" cy="97.1" rx="5.3" ry="2.4" fill="#e44a34" transform="rotate(-3 158.3 97.1)"/>
<ellipse cx="130.5" cy="72.0" rx="6.2" ry="1.6" fill="#e44a34" transform="rotate(-5 130.5 72.0)"/>
<ellipse cx="53.8" cy="95.8" rx="3.9" ry="2.7" fill="#e44a34" transform="rotate(5 53.8 95.8)"/>
<ellipse cx="171.7" cy="37.0" rx="4.2" ry="2.1" fill="#e9573a" transform="rotate(-18 171.7 37.0)"/>
<ellipse cx="163.4" cy="100.8" rx="6.6" ry="1.4" fill="#f28a62" transform="rotate(-6 163.4 100.8)"/>
<ellipse cx="80.6" cy="39.5" rx="4.0" ry="2.8" fill="#f5a27a" transform="rotate(-22 80.6 39.5)"/>
<ellipse cx="90.7" cy="35.1" rx="3.2" ry="2.2" fill="#ec6446" transform="rotate(8 90.7 35.1)"/>
<ellipse cx="122.4" cy="48.2" rx="4.4" ry="2.0" fill="#ec6446" transform="rotate(-20 122.4 48.2)"/>
<ellipse cx="243.1" cy="30.6" rx="6.9" ry="1.8" fill="#f28a62" transform="rotate(-4 243.1 30.6)"/>
<ellipse cx="137.7" cy="84.6" rx="3.7" ry="2.4" fill="#e44a34" transform="rotate(-12 137.7 84.6)"/>
<ellipse cx="211.4" cy="85.9" rx="2.8" ry="1.8" fill="#f28a62" transform="rotate(4 211.4 85.9)"/>
<ellipse cx="152.5" cy="95.7" rx="5.3" ry="1.6" fill="#ec6446" transform="rotate(9 152.5 95.7)"/>
<ellipse cx="134.6" cy="72.1" rx="5.6" ry="2.5" fill="#ec6446" transform="rotate(-9 134.6 72.1)"/>
<ellipse cx="122.6" cy="76.0" rx="7.0" ry="1.6" fill="#f28a62" transform="rotate(-0 122.6 76.0)"/>
<ellipse cx="35.5" cy="94.9" rx="5.3" ry="2.1" fill="#f28a62" transform="rotate(3 35.5 94.9)"/>
<ellipse cx="18.3" cy="87.8" rx="5.4" ry="1.3" fill="#e9573a" transform="rotate(-21 18.3 87.8)"/>
<ellipse cx="216.3" cy="30.8" rx="4.1" ry="2.8" fill="#e9573a" transform="rotate(8 216.3 30.8)"/>
<ellipse cx="96.1" cy="94.3" rx="4.7" ry="2.3" fill="#f5a27a" transform="rotate(-3 96.1 94.3)"/>
<ellipse cx="188.6" cy="112.3" rx="4.5" ry="2.0" fill="#e44a34" transform="rotate(-2 188.6 112.3)"/>
<ellipse cx="93.5" cy="94.3" rx="4.9" ry="1.0" fill="#f28a62" transform="rotate(10 93.5 94.3)"/>
<ellipse cx="61.3" cy="108.6" rx="3.4" ry="1.6" fill="#f28a62" transform="rotate(3 61.3 108.6)"/>
<ellipse cx="122.7" cy="31.0" rx="4.5" ry="2.8" fill="#ec6446" transform="rotate(-17 122.7 31.0)"/>
<ellipse cx="78.0" cy="57.7" rx="2.0" ry="1.2" fill="#f5a27a" transform="rotate(-20 78.0 57.7)"/>
<ellipse cx="84.7" cy="46.1" rx="6.6" ry="2.5" fill="#e9573a" transform="rotate(10 84.7 46.1)"/>
<ellipse cx="167.8" cy="68.1" rx="2.6" ry="2.0" fill="#f28a62" transform="rotate(-16 167.8 68.1)"/>
<ellipse cx="177.1" cy="102.8" rx="2.5" ry="1.6" fill="#f28a62" transform="rotate(-20 177.1 102.8)"/>
<ellipse cx="92.1" cy="110.2" rx="2.2" ry="2.8" fill="#e9573a" transform="rotate(-10 92.1 110.2)"/>
<ellipse cx="42.8" cy="100.1" rx="4.6" ry="1.8" fill="#e9573a" transform="rotate(-22 42.8 100.1)"/>
<ellipse cx="16.6" cy="52.6" rx="4.3" ry="2.8" fill="#f28a62" transform="rotate(7 16.6 52.6)"/>
<ellipse cx="103.3" cy="111.7" rx="6.3" ry="1.6" fill="#e44a34" transform="rotate(-10 103.3 111.7)"/>
<ellipse cx="16.8" cy="68.2" rx="5.7" ry="3.0" fill="#e44a34" transform="rotate(-22 16.8 68.2)"/>
<ellipse cx="204.0" cy="47.0" rx="4.1" ry="1.2" fill="#e44a34" transform="rotate(-17 204.0 47.0)"/>
<ellipse cx="166.0" cy="72.1" rx="5.4" ry="2.3" fill="#f5a27a" transform="rotate(-7 166.0 72.1)"/>
<ellipse cx="64.1" cy="89.0" rx="2.1" ry="2.2" fill="#ec6446" transform="rotate(-11 64.1 89.0)"/>
</g>
<g filter="url(#blur2)">
<path d="M100,36 L125,38 L150,45" stroke="#f4e0b8" stroke-width="8" fill="none" stroke-linecap="round" stroke-linejoin="round"/>
<path d="M100,68 L130,64 L162,57" stroke="#f2dcb8" stroke-width="12" fill="none" stroke-linecap="round" stroke-linejoin="round"/>
<ellipse cx="118" cy="51" rx="14" ry="5" fill="#f3c8a0" transform="rotate(10 118 51)"/>
<path d="M20,102 L50,94 L90,80" stroke="#f3b08a" stroke-width="4" fill="none" stroke-linecap="round" stroke-linejoin="round"/>
</g>
<g filter="url(#blur1)">
<path d="M138,46 L150,49 L162,53" stroke="#4a80c0" stroke-width="4.5" fill="none" stroke-linecap="round" stroke-linejoin="round"/>
<path d="M96,70.5 L115,67.5 L133,64.5" stroke="#2f6ab5" stroke-width="5" fill="none" stroke-linecap="round" stroke-linejoin="round"/>
<path d="M133,65 L152,61" stroke="#90b0d0" stroke-width="4" fill="none" stroke-linecap="round" stroke-linejoin="round"/>
<ellipse cx="100" cy="38" rx="3" ry="2" fill="#4a7bb8" transform="rotate(0 100 38)"/>
<ellipse cx="168" cy="62" rx="4" ry="1.5" fill="#7aa0c8" transform="rotate(0 168 62)"/>
</g>
</g>
<polygon points="16.4,103.3 17.5,100.5 19.1,99.2 22.0,97.0 29.1,93.7 30.0,95.5 39.1,91.9 41.4,95.1 49.1,94.6 54.5,89.6 57.3,86.8 68.6,85.1 73.2,82.4 82.3,79.2 96.7,73.5 101.1,70.5 101.5,69.1 100.4,65.5 101.8,63.3 104.0,59.6 107.6,56.0 104.5,47.8 103.6,40.5 101.8,36.9 97.3,35.1 103.6,32.8 120.9,28.7 122.7,30.5 128.2,33.1 140.0,33.3 144.7,33.7 150.0,32.0 158.0,30.0 163.0,25.0 168.0,29.0 195.0,29.6 196.0,34.0 234.5,33.7 236.4,29.6 239.5,27.4 242.7,30.5 250.0,32.4 251.4,35.5 249.1,39.6 250.0,47.8 251.4,51.0 248.2,52.4 247.3,55.1 250.0,63.3 251.8,71.5 255.5,76.0 256.4,83.3 232.2,81.4 227.3,82.2 228.9,90.4 205.2,94.5 202.7,96.9 175.0,97.6 153.4,96.1 151.8,100.0 144.1,106.9 99.3,106.9 95.4,105.4 94.6,99.2 91.4,97.4 80.5,97.4 68.6,100.5 60.0,102.4 46.4,105.0 37.3,104.6 35.5,109.6 30.0,113.3 23.6,110.0 17.3,107.4" fill="none" stroke="#262626" stroke-width="1.15" stroke-linejoin="round"/>
<polyline points="97.3,35.1 101.8,36.9 112.7,39.6 126.4,42.2 134.2,44.8 150.5,48.3 158.2,51.3 164.2,54.5" fill="none" stroke="#262626" stroke-width="1.15" stroke-linejoin="round"/>
<polyline points="164.2,54.5 168.0,53.5 180.0,56.2 190.0,56.0 195.0,59.0 198.0,60.0 202.0,56.0 216.0,53.0 233.6,54.2 248.2,52.4" fill="none" stroke="#262626" stroke-width="1.15" stroke-linejoin="round"/>
<polyline points="164.2,54.5 160.5,57.1 148.0,58.6 135.9,59.9 130.5,61.9 131.8,64.6 125.0,66.7 113.5,70.0 112.0,69.1 101.5,69.3" fill="none" stroke="#262626" stroke-width="1.15" stroke-linejoin="round"/>
<text x="186.3" y="48.4" font-size="10.4" font-weight="bold" fill="#1a1a1a">NSTM</text>
<text x="110.5" y="60.4" font-size="10.4" font-weight="bold" fill="#1a1a1a">IRB</text>
<text x="145.6" y="86.6" font-size="10.4" font-weight="bold" fill="#1a1a1a">SSTM</text>
<text x="180" y="119.4" font-size="7.8" font-weight="bold" text-anchor="middle" fill="#1a1a1a">0</text>
<text x="210" y="119.4" font-size="7.8" font-weight="bold" text-anchor="middle" fill="#1a1a1a">250</text>
<text x="234.4" y="119.4" font-size="7.8" font-weight="bold" fill="#1a1a1a">500 km</text>
<polyline points="180,123.6 180,128.6 240,128.6 240,123.6" fill="none" stroke="#555" stroke-width="1"/>
<line x1="210" y1="124.6" x2="210" y2="128.6" stroke="#555" stroke-width="1"/>
<text x="264" y="14.0" font-size="9.9" text-anchor="middle" font-family="Liberation Sans" fill="#1a1a1a" transform="translate(264,14) scale(0.85,1) translate(-264,-14)">N</text>
<path d="M264.2,16.6 L258.0,37.4 L264.3,29.8Z" fill="#111"/>
<path d="M264.2,16.6 L270.4,37.4 L264.3,29.8Z" fill="#fff" stroke="#111" stroke-width="0.8" stroke-linejoin="miter"/>
</g>
<rect x="11" y="473.2" width="267.5" height="141" fill="none" stroke="#4a4a4a" stroke-width="1.1"/>
<text x="13.8" y="495.2" font-size="18.5" fill="#262626">(g)</text>
<text x="27.6" y="510.6" font-size="9.2" font-weight="bold" fill="#1a1a1a">Livestock Numbers</text>
<text x="22.4" y="520.0" font-size="9.2" font-weight="bold" fill="#1a1a1a">(Ten thousand heads)</text>
<rect x="20.6" y="533.0" width="18.8" height="19.8" fill="url(#gRed)"/>
<text x="44.6" y="536.0" font-size="8" fill="#262626">211</text>
<text x="44.6" y="555.8" font-size="8" fill="#262626">3.6</text>
<g transform="translate(0,473.2)">
<clipPath id="clipg"><polygon points="16.4,103.3 17.5,100.5 19.1,99.2 22.0,97.0 29.1,93.7 30.0,95.5 39.1,91.9 41.4,95.1 49.1,94.6 54.5,89.6 57.3,86.8 68.6,85.1 73.2,82.4 82.3,79.2 96.7,73.5 101.1,70.5 101.5,69.1 100.4,65.5 101.8,63.3 104.0,59.6 107.6,56.0 104.5,47.8 103.6,40.5 101.8,36.9 97.3,35.1 103.6,32.8 120.9,28.7 122.7,30.5 128.2,33.1 140.0,33.3 144.7,33.7 150.0,32.0 158.0,30.0 163.0,25.0 168.0,29.0 195.0,29.6 196.0,34.0 234.5,33.7 236.4,29.6 239.5,27.4 242.7,30.5 250.0,32.4 251.4,35.5 249.1,39.6 250.0,47.8 251.4,51.0 248.2,52.4 247.3,55.1 250.0,63.3 251.8,71.5 255.5,76.0 256.4,83.3 232.2,81.4 227.3,82.2 228.9,90.4 205.2,94.5 202.7,96.9 175.0,97.6 153.4,96.1 151.8,100.0 144.1,106.9 99.3,106.9 95.4,105.4 94.6,99.2 91.4,97.4 80.5,97.4 68.6,100.5 60.0,102.4 46.4,105.0 37.3,104.6 35.5,109.6 30.0,113.3 23.6,110.0 17.3,107.4"/></clipPath>
<g clip-path="url(#clipg)">
<rect x="0" y="0" width="280" height="141" fill="#f8bea6"/>
<g filter="url(#blur0)">
<polygon points="10.0,90.0 60.0,84.0 90.0,72.0 100.0,60.0 96.0,80.0 70.0,95.0 40.0,100.0 10.0,110.0" fill="#f6ae94"/>
<polygon points="55.0,86.0 95.0,72.0 92.0,90.0 70.0,98.0 55.0,96.0" fill="#f39a80"/>
<polygon points="95.0,72.0 117.0,69.0 130.0,66.0 148.0,72.0 150.0,90.0 140.0,100.0 100.0,100.0 92.0,88.0" fill="#f28a6c"/>
<polygon points="120.0,73.0 150.0,68.0 160.0,70.0 155.0,100.0 148.0,100.0 148.0,80.0" fill="#f07a5e"/>
<polygon points="96.0,35.0 103.0,33.0 121.0,28.0 128.0,33.0 150.0,32.0 158.0,30.0 158.0,50.0 134.0,46.0 113.0,40.0 101.0,37.0" fill="#f6b298"/>
<polygon points="125.0,33.0 150.0,32.0 158.0,30.0 160.0,52.0 140.0,47.0" fill="#f29a7e"/>
<polygon points="160.0,24.0 180.0,25.0 195.0,29.0 196.0,34.0 200.0,34.0 200.0,57.0 168.0,54.0 160.0,52.0" fill="#f3967a"/>
<polygon points="196.0,33.0 225.0,33.0 225.0,52.0 200.0,56.0" fill="#f4a88c"/>
<polygon points="175.0,49.0 200.0,53.0 225.0,52.0 225.0,58.0 200.0,60.0 175.0,56.0" fill="#ef7a5e"/>
<polygon points="236.0,30.0 258.0,30.0 258.0,55.0 236.0,55.0" fill="#f08a70"/>
<polygon points="236.0,25.0 260.0,25.0 260.0,53.0 236.0,55.0" fill="#f29c80"/>
<polygon points="102.0,37.0 113.0,40.0 126.0,42.0 134.0,46.0 150.0,49.0 158.0,51.0 164.0,54.5 161.5,57.8 150.0,58.6 133.6,63.0 108.0,62.0 104.0,48.0" fill="#dd1f1c"/>
<polygon points="100.9,61.0 133.6,63.0 129.3,66.3 117.3,69.0 100.9,69.0 95.9,73.7 98.0,62.0" fill="#d81818"/>
<polygon points="101.0,37.0 113.0,40.0 126.0,42.2 124.0,48.0 110.0,52.0 104.0,48.0" fill="#ea4a3a"/>
<polygon points="133.6,63.0 150.0,58.6 164.0,54.5 180.0,56.2 195.0,59.0 198.0,60.0 190.0,66.0 165.0,72.0 150.0,74.0 133.0,74.0 129.3,66.3" fill="#e53d28"/>
<polygon points="150.0,74.0 165.0,72.0 175.0,75.0 160.0,80.0 150.0,80.0" fill="#ec5a40"/>
<polygon points="200.0,60.0 256.0,55.0 256.0,90.0 200.0,95.0" fill="#f9c8b0"/>
<polygon points="185.0,66.0 215.0,62.0 215.0,90.0 190.0,95.0" fill="#f7b89e"/>
<ellipse cx="114" cy="93" rx="7" ry="2" fill="#ffffff" transform="rotate(-8 114 93)"/>
<ellipse cx="164" cy="34" rx="2.5" ry="4" fill="#fff4ee" transform="rotate(0 164 34)"/>
<ellipse cx="170" cy="29" rx="3" ry="3" fill="#fde8e0" transform="rotate(0 170 29)"/>
<ellipse cx="171" cy="65" rx="3" ry="1" fill="#fbd0c0" transform="rotate(0 171 65)"/>
<polygon points="190.0,35.0 200.0,35.0 200.0,55.0 190.0,55.0" fill="#ee7a60"/>
<polygon points="215.0,40.0 228.0,40.0 228.0,56.0 215.0,56.0" fill="#ef7c62"/>
</g>
</g>
<polygon points="16.4,103.3 17.5,100.5 19.1,99.2 22.0,97.0 29.1,93.7 30.0,95.5 39.1,91.9 41.4,95.1 49.1,94.6 54.5,89.6 57.3,86.8 68.6,85.1 73.2,82.4 82.3,79.2 96.7,73.5 101.1,70.5 101.5,69.1 100.4,65.5 101.8,63.3 104.0,59.6 107.6,56.0 104.5,47.8 103.6,40.5 101.8,36.9 97.3,35.1 103.6,32.8 120.9,28.7 122.7,30.5 128.2,33.1 140.0,33.3 144.7,33.7 150.0,32.0 158.0,30.0 163.0,25.0 168.0,29.0 195.0,29.6 196.0,34.0 234.5,33.7 236.4,29.6 239.5,27.4 242.7,30.5 250.0,32.4 251.4,35.5 249.1,39.6 250.0,47.8 251.4,51.0 248.2,52.4 247.3,55.1 250.0,63.3 251.8,71.5 255.5,76.0 256.4,83.3 232.2,81.4 227.3,82.2 228.9,90.4 205.2,94.5 202.7,96.9 175.0,97.6 153.4,96.1 151.8,100.0 144.1,106.9 99.3,106.9 95.4,105.4 94.6,99.2 91.4,97.4 80.5,97.4 68.6,100.5 60.0,102.4 46.4,105.0 37.3,104.6 35.5,109.6 30.0,113.3 23.6,110.0 17.3,107.4" fill="none" stroke="#262626" stroke-width="1.15" stroke-linejoin="round"/>
<polyline points="97.3,35.1 101.8,36.9 112.7,39.6 126.4,42.2 134.2,44.8 150.5,48.3 158.2,51.3 164.2,54.5" fill="none" stroke="#262626" stroke-width="1.15" stroke-linejoin="round"/>
<polyline points="164.2,54.5 168.0,53.5 180.0,56.2 190.0,56.0 195.0,59.0 198.0,60.0 202.0,56.0 216.0,53.0 233.6,54.2 248.2,52.4" fill="none" stroke="#262626" stroke-width="1.15" stroke-linejoin="round"/>
<polyline points="164.2,54.5 160.5,57.1 148.0,58.6 135.9,59.9 130.5,61.9 131.8,64.6 125.0,66.7 113.5,70.0 112.0,69.1 101.5,69.3" fill="none" stroke="#262626" stroke-width="1.15" stroke-linejoin="round"/>
<text x="186.3" y="48.4" font-size="10.4" font-weight="bold" fill="#1a1a1a">NSTM</text>
<text x="110.5" y="60.4" font-size="10.4" font-weight="bold" fill="#1a1a1a">IRB</text>
<text x="145.6" y="86.6" font-size="10.4" font-weight="bold" fill="#1a1a1a">SSTM</text>
<text x="180" y="119.4" font-size="7.8" font-weight="bold" text-anchor="middle" fill="#1a1a1a">0</text>
<text x="210" y="119.4" font-size="7.8" font-weight="bold" text-anchor="middle" fill="#1a1a1a">250</text>
<text x="234.4" y="119.4" font-size="7.8" font-weight="bold" fill="#1a1a1a">500 km</text>
<polyline points="180,123.6 180,128.6 240,128.6 240,123.6" fill="none" stroke="#555" stroke-width="1"/>
<line x1="210" y1="124.6" x2="210" y2="128.6" stroke="#555" stroke-width="1"/>
<text x="264" y="14.0" font-size="9.9" text-anchor="middle" font-family="Liberation Sans" fill="#1a1a1a" transform="translate(264,14) scale(0.85,1) translate(-264,-14)">N</text>
<path d="M264.2,16.6 L258.0,37.4 L264.3,29.8Z" fill="#111"/>
<path d="M264.2,16.6 L270.4,37.4 L264.3,29.8Z" fill="#fff" stroke="#111" stroke-width="0.8" stroke-linejoin="miter"/>
</g>
<rect x="11" y="628.8" width="267.5" height="141" fill="none" stroke="#4a4a4a" stroke-width="1.1"/>
<text x="13.8" y="650.8" font-size="18.5" fill="#262626">(i)</text>
<text x="23.6" y="663.6" font-size="9.0" font-weight="bold" fill="#1a1a1a">Nighttime Light</text>
<text x="23.0" y="674.0" font-size="9.2" font-weight="bold" fill="#1a1a1a">(nWcm-2sr-1)</text>
<rect x="20.6" y="685.8" width="18.8" height="19.8" fill="url(#gRed)"/>
<text x="44.6" y="688.8" font-size="8" fill="#262626">61.6</text>
<text x="44.6" y="708.6" font-size="8" fill="#262626">0</text>
<g transform="translate(0,628.8)">
<clipPath id="clipi"><polygon points="16.4,103.3 17.5,100.5 19.1,99.2 22.0,97.0 29.1,93.7 30.0,95.5 39.1,91.9 41.4,95.1 49.1,94.6 54.5,89.6 57.3,86.8 68.6,85.1 73.2,82.4 82.3,79.2 96.7,73.5 101.1,70.5 101.5,69.1 100.4,65.5 101.8,63.3 104.0,59.6 107.6,56.0 104.5,47.8 103.6,40.5 101.8,36.9 97.3,35.1 103.6,32.8 120.9,28.7 122.7,30.5 128.2,33.1 140.0,33.3 144.7,33.7 150.0,32.0 158.0,30.0 163.0,25.0 168.0,29.0 195.0,29.6 196.0,34.0 234.5,33.7 236.4,29.6 239.5,27.4 242.7,30.5 250.0,32.4 251.4,35.5 249.1,39.6 250.0,47.8 251.4,51.0 248.2,52.4 247.3,55.1 250.0,63.3 251.8,71.5 255.5,76.0 256.4,83.3 232.2,81.4 227.3,82.2 228.9,90.4 205.2,94.5 202.7,96.9 175.0,97.6 153.4,96.1 151.8,100.0 144.1,106.9 99.3,106.9 95.4,105.4 94.6,99.2 91.4,97.4 80.5,97.4 68.6,100.5 60.0,102.4 46.4,105.0 37.3,104.6 35.5,109.6 30.0,113.3 23.6,110.0 17.3,107.4"/></clipPath>
<g clip-path="url(#clipi)">
<rect x="0" y="0" width="280" height="141" fill="#fbe3ce"/>
<g filter="url(#blur2)">
<ellipse cx="115" cy="47" rx="8" ry="3" fill="#f9c0b0" transform="rotate(0 115 47)"/>
<ellipse cx="198" cy="49" rx="6" ry="4" fill="#f9b8a8" transform="rotate(0 198 49)"/>
<ellipse cx="170" cy="42" rx="15" ry="3" fill="#f9ccb8" transform="rotate(0 170 42)"/>
<ellipse cx="160" cy="77" rx="20" ry="5" fill="#f9d0bc" transform="rotate(0 160 77)"/>
<ellipse cx="225" cy="58" rx="14" ry="2.5" fill="#f9ccb8" transform="rotate(0 225 58)"/>
<ellipse cx="105" cy="87" rx="8" ry="3" fill="#f9ccb8" transform="rotate(0 105 87)"/>
</g>
<g>
<circle cx="112.9" cy="39.9" r="0.86" fill="#ff2a20"/>
<circle cx="103.7" cy="40.5" r="0.49" fill="#ff2a20"/>
<circle cx="113.0" cy="35.8" r="0.45" fill="#f86a5a"/>
<circle cx="140.9" cy="41.4" r="0.85" fill="#ff1a1a"/>
<circle cx="118.4" cy="37.6" r="0.63" fill="#ff4d40"/>
<circle cx="111.1" cy="35.7" r="0.43" fill="#ff1a1a"/>
<circle cx="133.8" cy="40.7" r="0.42" fill="#ff2a20"/>
<circle cx="121.4" cy="42.0" r="0.50" fill="#ff4d40"/>
<circle cx="119.5" cy="36.7" r="0.73" fill="#ff2a20"/>
<circle cx="121.9" cy="36.9" r="0.68" fill="#ff1a1a"/>
<circle cx="126.8" cy="36.9" r="0.51" fill="#f86a5a"/>
<circle cx="147.7" cy="39.6" r="0.45" fill="#ff1a1a"/>
<circle cx="137.9" cy="37.0" r="0.88" fill="#ff1a1a"/>
<circle cx="137.3" cy="44.6" r="0.43" fill="#ff2a20"/>
<circle cx="144.0" cy="38.7" r="0.44" fill="#ff4d40"/>
<circle cx="132.0" cy="37.0" r="0.44" fill="#f86a5a"/>
<circle cx="144.3" cy="39.2" r="0.86" fill="#ff4d40"/>
<circle cx="130.1" cy="40.2" r="0.43" fill="#ff2a20"/>
<circle cx="137.9" cy="41.9" r="0.62" fill="#ff4d40"/>
<circle cx="153.9" cy="38.6" r="0.61" fill="#ff2a20"/>
<circle cx="140.9" cy="40.7" r="0.51" fill="#f86a5a"/>
<circle cx="155.0" cy="33.9" r="0.70" fill="#ff1a1a"/>
<circle cx="133.4" cy="41.4" r="0.83" fill="#ff1a1a"/>
<circle cx="137.6" cy="39.4" r="0.62" fill="#ff1a1a"/>
<circle cx="131.8" cy="36.8" r="0.55" fill="#ff1a1a"/>
<circle cx="138.6" cy="39.8" r="0.72" fill="#ff1a1a"/>
<circle cx="119.1" cy="37.6" r="0.63" fill="#ff2a20"/>
<circle cx="133.7" cy="37.8" r="0.59" fill="#ff4d40"/>
<circle cx="126.2" cy="40.7" r="0.71" fill="#ff4d40"/>
<circle cx="140.7" cy="42.0" r="0.68" fill="#ff2a20"/>
<circle cx="144.1" cy="36.7" r="0.61" fill="#ff1a1a"/>
<circle cx="143.0" cy="40.9" r="0.53" fill="#ff2a20"/>
<circle cx="128.9" cy="43.7" r="0.70" fill="#f86a5a"/>
<circle cx="98.0" cy="38.3" r="0.89" fill="#ff4d40"/>
<circle cx="132.4" cy="42.2" r="0.83" fill="#ff1a1a"/>
<circle cx="124.1" cy="44.5" r="0.50" fill="#ff1a1a"/>
<circle cx="143.1" cy="40.1" r="0.52" fill="#ff1a1a"/>
<circle cx="136.0" cy="41.1" r="0.69" fill="#ff4d40"/>
<circle cx="136.4" cy="39.7" r="0.63" fill="#f86a5a"/>
<circle cx="118.2" cy="35.8" r="0.69" fill="#ff4d40"/>
<circle cx="152.0" cy="38.0" r="0.64" fill="#f86a5a"/>
<circle cx="165.7" cy="34.9" r="0.41" fill="#ff1a1a"/>
<circle cx="155.7" cy="41.5" r="0.56" fill="#ff1a1a"/>
<circle cx="188.4" cy="42.4" r="0.77" fill="#ff4d40"/>
<circle cx="182.2" cy="35.7" r="0.58" fill="#ff2a20"/>
<circle cx="194.7" cy="38.0" r="0.61" fill="#ff1a1a"/>
<circle cx="185.2" cy="38.5" r="0.71" fill="#ff2a20"/>
<circle cx="173.6" cy="41.3" r="0.44" fill="#ff1a1a"/>
<circle cx="150.7" cy="34.9" r="0.84" fill="#f86a5a"/>
<circle cx="160.1" cy="43.6" r="0.69" fill="#ff2a20"/>
<circle cx="160.4" cy="41.7" r="0.66" fill="#ff1a1a"/>
<circle cx="173.1" cy="42.0" r="0.41" fill="#ff1a1a"/>
<circle cx="158.4" cy="41.1" r="0.86" fill="#f86a5a"/>
<circle cx="184.1" cy="39.5" r="0.47" fill="#ff4d40"/>
<circle cx="155.0" cy="40.5" r="0.57" fill="#ff2a20"/>
<circle cx="166.1" cy="41.0" r="0.60" fill="#f86a5a"/>
<circle cx="179.1" cy="43.5" r="0.80" fill="#ff4d40"/>
<circle cx="183.6" cy="39.3" r="0.69" fill="#f86a5a"/>
<circle cx="176.6" cy="42.3" r="0.58" fill="#ff1a1a"/>
<circle cx="167.9" cy="35.1" r="0.54" fill="#ff4d40"/>
<circle cx="185.3" cy="42.8" r="0.86" fill="#ff2a20"/>
<circle cx="164.2" cy="43.0" r="0.74" fill="#ff2a20"/>
<circle cx="165.4" cy="45.2" r="0.54" fill="#ff1a1a"/>
<circle cx="170.8" cy="39.2" r="0.58" fill="#ff1a1a"/>
<circle cx="167.3" cy="39.0" r="0.49" fill="#f86a5a"/>
<circle cx="175.5" cy="42.4" r="0.42" fill="#ff1a1a"/>
<circle cx="159.0" cy="42.2" r="0.73" fill="#f86a5a"/>
<circle cx="192.6" cy="40.0" r="0.50" fill="#ff2a20"/>
<circle cx="174.3" cy="45.0" r="0.78" fill="#ff1a1a"/>
<circle cx="179.1" cy="42.8" r="0.57" fill="#ff4d40"/>
<circle cx="158.3" cy="43.7" r="0.85" fill="#ff1a1a"/>
<circle cx="153.6" cy="43.8" r="0.59" fill="#ff2a20"/>
<circle cx="158.9" cy="42.0" r="0.85" fill="#ff2a20"/>
<circle cx="158.4" cy="39.9" r="0.65" fill="#f86a5a"/>
<circle cx="158.0" cy="41.8" r="0.50" fill="#ff1a1a"/>
<circle cx="180.9" cy="46.2" r="0.89" fill="#f86a5a"/>
<circle cx="154.3" cy="40.0" r="0.56" fill="#ff1a1a"/>
<circle cx="172.1" cy="41.8" r="0.62" fill="#ff2a20"/>
<circle cx="176.6" cy="38.1" r="0.41" fill="#ff1a1a"/>
<circle cx="172.1" cy="41.3" r="0.67" fill="#ff4d40"/>
<circle cx="181.0" cy="44.1" r="0.76" fill="#ff2a20"/>
<circle cx="243.2" cy="39.4" r="0.78" fill="#ff1a1a"/>
<circle cx="230.6" cy="36.7" r="0.62" fill="#ff4d40"/>
<circle cx="207.1" cy="39.9" r="0.62" fill="#f86a5a"/>
<circle cx="215.8" cy="32.2" r="0.75" fill="#ff4d40"/>
<circle cx="227.8" cy="43.1" r="0.62" fill="#f86a5a"/>
<circle cx="222.8" cy="39.8" r="0.61" fill="#ff1a1a"/>
<circle cx="227.8" cy="40.4" r="0.79" fill="#ff2a20"/>
<circle cx="195.2" cy="37.7" r="0.45" fill="#ff1a1a"/>
<circle cx="228.4" cy="39.6" r="0.62" fill="#ff2a20"/>
<circle cx="248.9" cy="37.6" r="0.56" fill="#ff4d40"/>
<circle cx="223.8" cy="41.3" r="0.57" fill="#ff2a20"/>
<circle cx="224.3" cy="40.7" r="0.57" fill="#ff1a1a"/>
<circle cx="235.6" cy="40.0" r="0.71" fill="#ff1a1a"/>
<circle cx="236.8" cy="41.5" r="0.40" fill="#f86a5a"/>
<circle cx="225.1" cy="44.4" r="0.65" fill="#ff1a1a"/>
<circle cx="214.1" cy="41.0" r="0.74" fill="#f86a5a"/>
<circle cx="226.2" cy="34.9" r="0.75" fill="#ff1a1a"/>
<circle cx="221.2" cy="43.9" r="0.61" fill="#ff4d40"/>
<circle cx="206.7" cy="39.1" r="0.61" fill="#ff4d40"/>
<circle cx="207.0" cy="39.6" r="0.64" fill="#ff4d40"/>
<circle cx="232.1" cy="47.5" r="0.72" fill="#ff4d40"/>
<circle cx="225.8" cy="44.2" r="0.77" fill="#ff4d40"/>
<circle cx="231.4" cy="38.4" r="0.44" fill="#ff4d40"/>
<circle cx="233.5" cy="42.3" r="0.56" fill="#ff2a20"/>
<circle cx="198.8" cy="47.7" r="1.03" fill="#ff4d40"/>
<circle cx="198.7" cy="50.9" r="1.04" fill="#ff1a1a"/>
<circle cx="198.7" cy="51.0" r="1.13" fill="#f86a5a"/>
<circle cx="199.4" cy="50.1" r="1.01" fill="#ff4d40"/>
<circle cx="198.6" cy="47.5" r="0.42" fill="#ff2a20"/>
<circle cx="198.6" cy="49.7" r="0.56" fill="#ff4d40"/>
<circle cx="201.7" cy="48.8" r="0.48" fill="#ff1a1a"/>
<circle cx="199.6" cy="50.6" r="0.46" fill="#ff1a1a"/>
<circle cx="197.2" cy="50.4" r="0.81" fill="#ff2a20"/>
<circle cx="198.4" cy="50.3" r="0.91" fill="#ff1a1a"/>
<circle cx="198.6" cy="48.3" r="0.76" fill="#f86a5a"/>
<circle cx="197.1" cy="49.5" r="0.53" fill="#ff1a1a"/>
<circle cx="197.7" cy="49.5" r="1.07" fill="#ff2a20"/>
<circle cx="197.1" cy="48.6" r="0.87" fill="#f86a5a"/>
<circle cx="198.4" cy="48.0" r="1.13" fill="#ff4d40"/>
<circle cx="198.6" cy="47.7" r="1.12" fill="#f86a5a"/>
<circle cx="198.3" cy="46.6" r="0.72" fill="#ff4d40"/>
<circle cx="199.3" cy="49.5" r="0.78" fill="#ff1a1a"/>
<circle cx="201.7" cy="46.2" r="1.12" fill="#ff1a1a"/>
<circle cx="198.4" cy="52.3" r="0.93" fill="#f86a5a"/>
<circle cx="198.3" cy="50.4" r="0.55" fill="#ff1a1a"/>
<circle cx="192.8" cy="52.8" r="0.91" fill="#ff1a1a"/>
<circle cx="164.2" cy="23.8" r="0.42" fill="#ff1a1a"/>
<circle cx="163.9" cy="25.4" r="0.72" fill="#ff1a1a"/>
<circle cx="164.1" cy="24.8" r="0.41" fill="#f86a5a"/>
<circle cx="164.0" cy="27.7" r="0.84" fill="#ff2a20"/>
<circle cx="165.5" cy="25.8" r="1.20" fill="#ff2a20"/>
<circle cx="164.2" cy="25.7" r="0.88" fill="#ff1a1a"/>
<circle cx="161.9" cy="27.2" r="0.71" fill="#ff4d40"/>
<circle cx="164.9" cy="25.2" r="0.88" fill="#ff2a20"/>
<circle cx="118.0" cy="46.5" r="0.72" fill="#f86a5a"/>
<circle cx="113.4" cy="47.9" r="0.79" fill="#f86a5a"/>
<circle cx="112.4" cy="44.9" r="0.42" fill="#ff4d40"/>
<circle cx="111.4" cy="45.9" r="0.65" fill="#ff2a20"/>
<circle cx="117.5" cy="47.4" r="0.64" fill="#f86a5a"/>
<circle cx="120.8" cy="48.5" r="0.66" fill="#ff2a20"/>
<circle cx="115.0" cy="49.5" r="0.43" fill="#ff1a1a"/>
<circle cx="119.4" cy="46.1" r="0.68" fill="#ff4d40"/>
<circle cx="113.8" cy="46.6" r="0.77" fill="#ff2a20"/>
<circle cx="119.4" cy="49.0" r="0.61" fill="#ff4d40"/>
<circle cx="117.3" cy="48.1" r="0.80" fill="#ff2a20"/>
<circle cx="111.5" cy="45.7" r="0.81" fill="#f86a5a"/>
<circle cx="115.6" cy="45.2" r="1.00" fill="#f86a5a"/>
<circle cx="114.8" cy="45.9" r="0.47" fill="#f86a5a"/>
<circle cx="115.9" cy="44.9" r="0.62" fill="#f86a5a"/>
<circle cx="111.3" cy="45.5" r="0.82" fill="#ff4d40"/>
<circle cx="111.6" cy="45.1" r="0.51" fill="#ff4d40"/>
<circle cx="110.6" cy="47.0" r="0.52" fill="#ff1a1a"/>
<circle cx="114.7" cy="46.9" r="0.56" fill="#ff1a1a"/>
<circle cx="114.0" cy="46.5" r="0.72" fill="#ff1a1a"/>
<circle cx="115.2" cy="43.7" r="0.50" fill="#ff4d40"/>
<circle cx="113.0" cy="45.9" r="0.69" fill="#ff4d40"/>
<circle cx="113.2" cy="48.5" r="0.48" fill="#ff1a1a"/>
<circle cx="116.1" cy="45.5" r="0.89" fill="#ff4d40"/>
<circle cx="110.3" cy="47.9" r="0.63" fill="#ff4d40"/>
<circle cx="112.0" cy="48.6" r="0.99" fill="#f86a5a"/>
<circle cx="113.7" cy="49.4" r="0.90" fill="#ff4d40"/>
<circle cx="112.4" cy="47.6" r="0.46" fill="#f86a5a"/>
<circle cx="116.1" cy="47.3" r="0.74" fill="#ff2a20"/>
<circle cx="116.3" cy="45.5" r="0.89" fill="#ff1a1a"/>
<circle cx="161.5" cy="42.4" r="0.80" fill="#ff1a1a"/>
<circle cx="159.0" cy="40.7" r="0.86" fill="#f86a5a"/>
<circle cx="159.7" cy="42.7" r="0.61" fill="#f86a5a"/>
<circle cx="159.2" cy="42.4" r="0.83" fill="#f86a5a"/>
<circle cx="155.8" cy="42.8" r="0.58" fill="#f86a5a"/>
<circle cx="161.2" cy="45.1" r="0.84" fill="#ff4d40"/>
<circle cx="164.1" cy="43.1" r="0.41" fill="#ff2a20"/>
<circle cx="156.2" cy="40.9" r="0.84" fill="#f86a5a"/>
<circle cx="160.9" cy="40.6" r="0.90" fill="#ff4d40"/>
<circle cx="161.9" cy="43.8" r="0.93" fill="#f86a5a"/>
<circle cx="160.7" cy="41.2" r="0.43" fill="#ff4d40"/>
<circle cx="154.1" cy="40.7" r="0.79" fill="#ff2a20"/>
<circle cx="162.9" cy="42.6" r="0.87" fill="#ff1a1a"/>
<circle cx="159.0" cy="42.8" r="0.46" fill="#f86a5a"/>
<circle cx="163.1" cy="42.9" r="0.49" fill="#ff2a20"/>
<circle cx="160.1" cy="42.8" r="0.86" fill="#f86a5a"/>
<circle cx="160.2" cy="40.8" r="0.60" fill="#f86a5a"/>
<circle cx="158.6" cy="40.8" r="0.72" fill="#ff1a1a"/>
<circle cx="174.7" cy="40.9" r="0.61" fill="#f86a5a"/>
<circle cx="178.4" cy="41.6" r="0.82" fill="#ff2a20"/>
<circle cx="179.0" cy="42.6" r="0.66" fill="#ff1a1a"/>
<circle cx="176.7" cy="42.0" r="0.61" fill="#ff4d40"/>
<circle cx="176.0" cy="43.6" r="0.72" fill="#ff4d40"/>
<circle cx="175.1" cy="43.9" r="0.66" fill="#f86a5a"/>
<circle cx="176.8" cy="42.9" r="0.55" fill="#ff1a1a"/>
<circle cx="175.6" cy="43.5" r="0.86" fill="#ff1a1a"/>
<circle cx="176.0" cy="42.8" r="0.64" fill="#ff1a1a"/>
<circle cx="175.4" cy="43.6" r="0.58" fill="#ff4d40"/>
<circle cx="174.0" cy="42.3" r="0.65" fill="#ff2a20"/>
<circle cx="176.7" cy="43.7" r="0.49" fill="#f86a5a"/>
<circle cx="172.3" cy="41.3" r="0.68" fill="#f86a5a"/>
<circle cx="173.8" cy="43.1" r="0.88" fill="#ff1a1a"/>
<circle cx="174.5" cy="43.1" r="0.42" fill="#ff4d40"/>
<circle cx="228.8" cy="56.6" r="0.66" fill="#f86a5a"/>
<circle cx="226.0" cy="57.5" r="0.86" fill="#ff1a1a"/>
<circle cx="243.3" cy="55.7" r="0.63" fill="#ff4d40"/>
<circle cx="221.3" cy="56.0" r="0.48" fill="#ff4d40"/>
<circle cx="225.9" cy="57.2" r="0.85" fill="#ff4d40"/>
<circle cx="200.3" cy="54.4" r="0.53" fill="#ff1a1a"/>
<circle cx="237.0" cy="60.1" r="0.40" fill="#ff4d40"/>
<circle cx="227.2" cy="57.4" r="0.53" fill="#ff1a1a"/>
<circle cx="239.2" cy="56.5" r="0.44" fill="#f86a5a"/>
<circle cx="232.7" cy="58.1" r="0.50" fill="#ff1a1a"/>
<circle cx="227.5" cy="56.4" r="0.42" fill="#ff2a20"/>
<circle cx="218.1" cy="57.9" r="0.82" fill="#f86a5a"/>
<circle cx="220.1" cy="59.4" r="0.68" fill="#ff2a20"/>
<circle cx="222.8" cy="57.5" r="0.44" fill="#ff4d40"/>
<circle cx="234.5" cy="58.9" r="0.63" fill="#ff1a1a"/>
<circle cx="223.9" cy="57.8" r="0.59" fill="#ff2a20"/>
<circle cx="226.2" cy="59.9" r="0.63" fill="#ff1a1a"/>
<circle cx="239.3" cy="55.7" r="0.76" fill="#ff4d40"/>
<circle cx="222.1" cy="59.4" r="0.67" fill="#f86a5a"/>
<circle cx="244.3" cy="57.3" r="0.68" fill="#ff1a1a"/>
<circle cx="224.7" cy="59.0" r="0.77" fill="#f86a5a"/>
<circle cx="221.5" cy="59.1" r="0.63" fill="#f86a5a"/>
<circle cx="213.9" cy="58.5" r="0.45" fill="#ff1a1a"/>
<circle cx="236.5" cy="59.6" r="0.49" fill="#ff4d40"/>
<circle cx="206.3" cy="59.6" r="0.70" fill="#ff1a1a"/>
<circle cx="227.5" cy="58.2" r="0.89" fill="#ff2a20"/>
<circle cx="221.1" cy="58.3" r="0.86" fill="#ff2a20"/>
<circle cx="230.9" cy="57.6" r="0.50" fill="#ff4d40"/>
<circle cx="230.1" cy="56.7" r="0.57" fill="#ff2a20"/>
<circle cx="211.2" cy="56.3" r="0.71" fill="#f86a5a"/>
<circle cx="246.1" cy="57.7" r="0.73" fill="#ff1a1a"/>
<circle cx="224.5" cy="59.0" r="0.55" fill="#ff2a20"/>
<circle cx="234.2" cy="58.9" r="0.65" fill="#f86a5a"/>
<circle cx="232.5" cy="56.2" r="0.48" fill="#f86a5a"/>
<circle cx="214.3" cy="57.6" r="0.65" fill="#ff4d40"/>
<circle cx="150.5" cy="74.8" r="0.87" fill="#ff4d40"/>
<circle cx="156.6" cy="75.6" r="0.73" fill="#ff1a1a"/>
<circle cx="172.0" cy="79.4" r="0.61" fill="#f86a5a"/>
<circle cx="142.4" cy="84.1" r="0.58" fill="#ff2a20"/>
<circle cx="173.0" cy="73.1" r="0.76" fill="#ff4d40"/>
<circle cx="176.5" cy="73.2" r="0.68" fill="#f86a5a"/>
<circle cx="173.0" cy="81.8" r="0.85" fill="#f86a5a"/>
<circle cx="153.4" cy="74.8" r="0.81" fill="#f86a5a"/>
<circle cx="154.0" cy="72.5" r="0.78" fill="#f86a5a"/>
<circle cx="165.0" cy="73.8" r="0.67" fill="#ff1a1a"/>
<circle cx="144.4" cy="77.2" r="0.79" fill="#ff4d40"/>
<circle cx="151.5" cy="81.6" r="0.77" fill="#ff2a20"/>
<circle cx="142.9" cy="72.2" r="0.78" fill="#ff4d40"/>
<circle cx="165.6" cy="80.3" r="0.47" fill="#ff2a20"/>
<circle cx="172.0" cy="78.8" r="0.57" fill="#ff4d40"/>
<circle cx="158.2" cy="81.2" r="0.57" fill="#ff1a1a"/>
<circle cx="155.0" cy="69.1" r="0.60" fill="#ff2a20"/>
<circle cx="145.4" cy="73.3" r="0.61" fill="#ff2a20"/>
<circle cx="160.2" cy="71.4" r="0.90" fill="#ff2a20"/>
<circle cx="163.6" cy="74.2" r="0.46" fill="#f86a5a"/>
<circle cx="143.2" cy="75.3" r="0.85" fill="#f86a5a"/>
<circle cx="171.2" cy="74.2" r="0.71" fill="#ff2a20"/>
<circle cx="157.6" cy="70.6" r="0.78" fill="#f86a5a"/>
<circle cx="184.2" cy="70.5" r="0.52" fill="#ff2a20"/>
<circle cx="161.6" cy="84.1" r="0.89" fill="#ff2a20"/>
<circle cx="153.4" cy="71.4" r="0.52" fill="#f86a5a"/>
<circle cx="139.0" cy="68.1" r="0.84" fill="#f86a5a"/>
<circle cx="171.2" cy="72.9" r="0.80" fill="#ff4d40"/>
<circle cx="150.1" cy="72.6" r="0.46" fill="#ff1a1a"/>
<circle cx="183.1" cy="80.1" r="0.46" fill="#ff2a20"/>
<circle cx="172.0" cy="76.0" r="0.55" fill="#f86a5a"/>
<circle cx="168.1" cy="79.8" r="0.63" fill="#ff2a20"/>
<circle cx="175.5" cy="80.8" r="0.52" fill="#f86a5a"/>
<circle cx="193.6" cy="77.7" r="0.55" fill="#ff2a20"/>
<circle cx="177.2" cy="81.4" r="0.79" fill="#ff4d40"/>
<circle cx="169.3" cy="83.6" r="0.75" fill="#ff1a1a"/>
<circle cx="170.2" cy="83.2" r="0.58" fill="#ff2a20"/>
<circle cx="182.6" cy="76.6" r="0.75" fill="#ff4d40"/>
<circle cx="148.5" cy="75.4" r="0.87" fill="#ff1a1a"/>
<circle cx="152.0" cy="73.2" r="0.81" fill="#f86a5a"/>
<circle cx="177.3" cy="71.4" r="0.47" fill="#ff2a20"/>
<circle cx="151.6" cy="77.2" r="0.83" fill="#ff1a1a"/>
<circle cx="157.4" cy="73.4" r="0.49" fill="#ff4d40"/>
<circle cx="146.6" cy="76.0" r="0.54" fill="#ff1a1a"/>
<circle cx="150.3" cy="74.5" r="0.55" fill="#ff4d40"/>
<circle cx="144.0" cy="75.2" r="0.78" fill="#ff1a1a"/>
<circle cx="144.0" cy="76.1" r="0.95" fill="#ff1a1a"/>
<circle cx="144.3" cy="75.9" r="0.76" fill="#f86a5a"/>
<circle cx="142.4" cy="75.7" r="0.74" fill="#ff4d40"/>
<circle cx="144.1" cy="78.0" r="0.55" fill="#f86a5a"/>
<circle cx="144.9" cy="75.7" r="0.87" fill="#ff4d40"/>
<circle cx="145.7" cy="76.0" r="0.68" fill="#ff2a20"/>
<circle cx="150.3" cy="76.0" r="0.44" fill="#ff1a1a"/>
<circle cx="141.6" cy="75.4" r="0.62" fill="#ff2a20"/>
<circle cx="145.6" cy="74.6" r="0.70" fill="#ff4d40"/>
<circle cx="141.4" cy="74.9" r="0.47" fill="#ff2a20"/>
<circle cx="145.2" cy="77.3" r="0.86" fill="#ff4d40"/>
<circle cx="144.8" cy="77.5" r="0.91" fill="#ff2a20"/>
<circle cx="144.9" cy="76.8" r="0.98" fill="#ff1a1a"/>
<circle cx="140.4" cy="74.9" r="0.51" fill="#ff4d40"/>
<circle cx="182.1" cy="75.0" r="0.88" fill="#ff2a20"/>
<circle cx="183.4" cy="73.7" r="0.42" fill="#ff1a1a"/>
<circle cx="186.0" cy="75.1" r="0.73" fill="#ff4d40"/>
<circle cx="183.6" cy="75.7" r="0.66" fill="#f86a5a"/>
<circle cx="185.2" cy="74.2" r="0.87" fill="#ff2a20"/>
<circle cx="186.8" cy="77.2" r="0.50" fill="#f86a5a"/>
<circle cx="184.0" cy="77.4" r="0.80" fill="#ff2a20"/>
<circle cx="185.7" cy="76.5" r="0.62" fill="#ff4d40"/>
<circle cx="182.7" cy="73.1" r="0.48" fill="#ff4d40"/>
<circle cx="185.2" cy="77.0" r="0.85" fill="#ff1a1a"/>
<circle cx="185.8" cy="76.0" r="0.72" fill="#ff1a1a"/>
<circle cx="182.8" cy="76.6" r="0.65" fill="#ff1a1a"/>
<circle cx="110.7" cy="86.6" r="0.83" fill="#ff4d40"/>
<circle cx="106.6" cy="87.7" r="0.91" fill="#ff2a20"/>
<circle cx="101.4" cy="87.8" r="0.62" fill="#f86a5a"/>
<circle cx="112.3" cy="85.9" r="0.53" fill="#ff4d40"/>
<circle cx="104.0" cy="88.2" r="0.44" fill="#f86a5a"/>
<circle cx="102.0" cy="85.6" r="0.93" fill="#ff4d40"/>
<circle cx="104.6" cy="87.3" r="0.91" fill="#ff2a20"/>
<circle cx="106.4" cy="87.3" r="0.65" fill="#ff4d40"/>
<circle cx="108.3" cy="88.7" r="0.50" fill="#ff4d40"/>
<circle cx="104.3" cy="88.2" r="0.86" fill="#ff2a20"/>
<circle cx="99.5" cy="88.5" r="0.81" fill="#ff2a20"/>
<circle cx="107.7" cy="88.4" r="0.44" fill="#f86a5a"/>
<circle cx="105.7" cy="87.9" r="0.41" fill="#ff4d40"/>
<circle cx="106.8" cy="85.2" r="0.74" fill="#ff4d40"/>
<circle cx="106.7" cy="88.4" r="0.49" fill="#f86a5a"/>
<circle cx="108.2" cy="87.8" r="0.90" fill="#ff1a1a"/>
<circle cx="109.2" cy="87.2" r="0.63" fill="#ff1a1a"/>
<circle cx="108.5" cy="85.8" r="0.55" fill="#ff1a1a"/>
<circle cx="44.7" cy="101.6" r="0.60" fill="#ff4d40"/>
<circle cx="59.4" cy="101.2" r="0.41" fill="#f86a5a"/>
<circle cx="38.4" cy="100.2" r="0.68" fill="#f86a5a"/>
<circle cx="44.9" cy="101.0" r="0.55" fill="#ff4d40"/>
<circle cx="57.5" cy="96.9" r="0.58" fill="#ff4d40"/>
<circle cx="31.8" cy="101.6" r="0.49" fill="#f86a5a"/>
<circle cx="38.7" cy="101.0" r="0.46" fill="#ff1a1a"/>
<circle cx="49.7" cy="96.7" r="0.40" fill="#f86a5a"/>
<circle cx="47.6" cy="98.4" r="0.74" fill="#f86a5a"/>
<circle cx="35.0" cy="94.7" r="0.75" fill="#ff4d40"/>
<circle cx="202.4" cy="65.4" r="0.64" fill="#ff1a1a"/>
<circle cx="195.9" cy="71.3" r="0.52" fill="#f86a5a"/>
<circle cx="195.0" cy="79.1" r="0.47" fill="#ff2a20"/>
<circle cx="207.6" cy="79.8" r="0.51" fill="#ff4d40"/>
<circle cx="175.5" cy="68.7" r="0.67" fill="#ff4d40"/>
<circle cx="188.5" cy="70.6" r="0.66" fill="#f86a5a"/>
<circle cx="199.0" cy="68.8" r="0.52" fill="#f86a5a"/>
<circle cx="227.9" cy="62.9" r="0.48" fill="#ff2a20"/>
<circle cx="180.1" cy="70.2" r="0.54" fill="#f86a5a"/>
<circle cx="204.4" cy="68.5" r="0.41" fill="#f86a5a"/>
<circle cx="215.1" cy="65.1" r="0.48" fill="#ff4d40"/>
<circle cx="190.7" cy="65.4" r="0.50" fill="#f86a5a"/>
<circle cx="223.1" cy="71.8" r="0.46" fill="#ff1a1a"/>
<circle cx="185.4" cy="64.0" r="0.52" fill="#ff2a20"/>
<circle cx="205.2" cy="70.9" r="0.54" fill="#ff2a20"/>
<circle cx="175.8" cy="78.9" r="0.41" fill="#ff4d40"/>
<circle cx="195.1" cy="65.6" r="0.55" fill="#ff2a20"/>
<circle cx="208.5" cy="69.5" r="0.46" fill="#ff4d40"/>
<circle cx="199.5" cy="74.2" r="0.56" fill="#ff2a20"/>
<circle cx="218.9" cy="70.2" r="0.65" fill="#ff1a1a"/>
<circle cx="121.8" cy="86.6" r="0.65" fill="#f86a5a"/>
<circle cx="139.2" cy="94.8" r="0.41" fill="#ff4d40"/>
<circle cx="129.8" cy="83.4" r="0.69" fill="#ff4d40"/>
<circle cx="155.0" cy="99.0" r="0.55" fill="#f86a5a"/>
<circle cx="128.8" cy="95.6" r="0.62" fill="#ff2a20"/>
<circle cx="141.2" cy="96.5" r="0.50" fill="#ff4d40"/>
<circle cx="168.4" cy="87.1" r="0.66" fill="#ff1a1a"/>
<circle cx="157.2" cy="80.6" r="0.49" fill="#ff2a20"/>
<circle cx="109.9" cy="91.3" r="0.41" fill="#ff2a20"/>
<circle cx="144.5" cy="90.5" r="0.48" fill="#ff2a20"/>
<circle cx="139.5" cy="100.5" r="0.51" fill="#f86a5a"/>
<circle cx="156.0" cy="102.8" r="0.46" fill="#ff4d40"/>
<circle cx="131.1" cy="103.6" r="0.82" fill="#f86a5a"/>
<circle cx="133.3" cy="103.5" r="0.63" fill="#f86a5a"/>
<circle cx="133.2" cy="104.6" r="0.41" fill="#ff4d40"/>
<circle cx="132.8" cy="104.8" r="0.55" fill="#ff2a20"/>
<circle cx="130.7" cy="105.0" r="0.48" fill="#ff4d40"/>
<circle cx="132.8" cy="103.5" r="0.43" fill="#f86a5a"/>
<circle cx="139.6" cy="36.0" r="0.64" fill="#ff2a20"/>
<circle cx="152.8" cy="34.4" r="0.56" fill="#ff2a20"/>
<circle cx="158.5" cy="34.7" r="0.53" fill="#f86a5a"/>
<circle cx="160.3" cy="37.2" r="0.52" fill="#ff4d40"/>
<circle cx="174.7" cy="33.8" r="0.61" fill="#f86a5a"/>
<circle cx="158.5" cy="32.9" r="0.45" fill="#ff1a1a"/>
<circle cx="115.0" cy="32.5" r="0.66" fill="#ff2a20"/>
<circle cx="167.9" cy="35.2" r="0.41" fill="#ff4d40"/>
<circle cx="152.0" cy="36.0" r="0.50" fill="#ff1a1a"/>
<circle cx="136.0" cy="34.2" r="0.48" fill="#ff1a1a"/>
<circle cx="156.4" cy="34.2" r="0.63" fill="#ff1a1a"/>
<circle cx="173.1" cy="34.0" r="0.44" fill="#ff4d40"/>
<circle cx="175.5" cy="33.9" r="0.41" fill="#f86a5a"/>
<circle cx="162.0" cy="32.1" r="0.42" fill="#f86a5a"/>
<circle cx="147.0" cy="38.7" r="0.66" fill="#ff2a20"/>
<circle cx="229.6" cy="56.0" r="0.42" fill="#ff1a1a"/>
<circle cx="239.5" cy="56.6" r="0.74" fill="#f86a5a"/>
<circle cx="232.8" cy="58.3" r="0.56" fill="#ff2a20"/>
<circle cx="238.1" cy="57.0" r="0.88" fill="#ff1a1a"/>
<circle cx="236.2" cy="56.2" r="0.52" fill="#ff2a20"/>
<circle cx="231.6" cy="58.1" r="0.81" fill="#ff1a1a"/>
<circle cx="239.2" cy="56.6" r="0.82" fill="#ff2a20"/>
<circle cx="236.0" cy="59.2" r="0.41" fill="#ff4d40"/>
<circle cx="236.4" cy="58.0" r="0.58" fill="#f86a5a"/>
<circle cx="237.1" cy="56.1" r="0.72" fill="#f86a5a"/>
<circle cx="235.6" cy="57.3" r="0.73" fill="#ff1a1a"/>
<circle cx="235.8" cy="57.7" r="0.49" fill="#ff1a1a"/>
</g>
</g>
<polygon points="16.4,103.3 17.5,100.5 19.1,99.2 22.0,97.0 29.1,93.7 30.0,95.5 39.1,91.9 41.4,95.1 49.1,94.6 54.5,89.6 57.3,86.8 68.6,85.1 73.2,82.4 82.3,79.2 96.7,73.5 101.1,70.5 101.5,69.1 100.4,65.5 101.8,63.3 104.0,59.6 107.6,56.0 104.5,47.8 103.6,40.5 101.8,36.9 97.3,35.1 103.6,32.8 120.9,28.7 122.7,30.5 128.2,33.1 140.0,33.3 144.7,33.7 150.0,32.0 158.0,30.0 163.0,25.0 168.0,29.0 195.0,29.6 196.0,34.0 234.5,33.7 236.4,29.6 239.5,27.4 242.7,30.5 250.0,32.4 251.4,35.5 249.1,39.6 250.0,47.8 251.4,51.0 248.2,52.4 247.3,55.1 250.0,63.3 251.8,71.5 255.5,76.0 256.4,83.3 232.2,81.4 227.3,82.2 228.9,90.4 205.2,94.5 202.7,96.9 175.0,97.6 153.4,96.1 151.8,100.0 144.1,106.9 99.3,106.9 95.4,105.4 94.6,99.2 91.4,97.4 80.5,97.4 68.6,100.5 60.0,102.4 46.4,105.0 37.3,104.6 35.5,109.6 30.0,113.3 23.6,110.0 17.3,107.4" fill="none" stroke="#262626" stroke-width="1.15" stroke-linejoin="round"/>
<polyline points="97.3,35.1 101.8,36.9 112.7,39.6 126.4,42.2 134.2,44.8 150.5,48.3 158.2,51.3 164.2,54.5" fill="none" stroke="#262626" stroke-width="1.15" stroke-linejoin="round"/>
<polyline points="164.2,54.5 168.0,53.5 180.0,56.2 190.0,56.0 195.0,59.0 198.0,60.0 202.0,56.0 216.0,53.0 233.6,54.2 248.2,52.4" fill="none" stroke="#262626" stroke-width="1.15" stroke-linejoin="round"/>
<polyline points="164.2,54.5 160.5,57.1 148.0,58.6 135.9,59.9 130.5,61.9 131.8,64.6 125.0,66.7 113.5,70.0 112.0,69.1 101.5,69.3" fill="none" stroke="#262626" stroke-width="1.15" stroke-linejoin="round"/>
<text x="186.3" y="48.4" font-size="10.4" font-weight="bold" fill="#1a1a1a">NSTM</text>
<text x="110.5" y="60.4" font-size="10.4" font-weight="bold" fill="#1a1a1a">IRB</text>
<text x="145.6" y="86.6" font-size="10.4" font-weight="bold" fill="#1a1a1a">SSTM</text>
<text x="180" y="119.4" font-size="7.8" font-weight="bold" text-anchor="middle" fill="#1a1a1a">0</text>
<text x="210" y="119.4" font-size="7.8" font-weight="bold" text-anchor="middle" fill="#1a1a1a">250</text>
<text x="234.4" y="119.4" font-size="7.8" font-weight="bold" fill="#1a1a1a">500 km</text>
<polyline points="180,123.6 180,128.6 240,128.6 240,123.6" fill="none" stroke="#555" stroke-width="1"/>
<line x1="210" y1="124.6" x2="210" y2="128.6" stroke="#555" stroke-width="1"/>
<text x="264" y="14.0" font-size="9.9" text-anchor="middle" font-family="Liberation Sans" fill="#1a1a1a" transform="translate(264,14) scale(0.85,1) translate(-264,-14)">N</text>
<path d="M264.2,16.6 L258.0,37.4 L264.3,29.8Z" fill="#111"/>
<path d="M264.2,16.6 L270.4,37.4 L264.3,29.8Z" fill="#fff" stroke="#111" stroke-width="0.8" stroke-linejoin="miter"/>
</g>
<rect x="11" y="783.8" width="267.5" height="141" fill="none" stroke="#4a4a4a" stroke-width="1.1"/>
<text x="13.8" y="805.8" font-size="18.5" fill="#262626">(k)</text>
<text x="21.0" y="816.0" font-size="8.75" font-weight="bold" fill="#1a1a1a">Population Density</text>
<text x="22.4" y="826.0" font-size="9.1" font-weight="bold" fill="#1a1a1a">(People per grid cell)</text>
<rect x="20.6" y="838.4" width="18.8" height="19.8" fill="url(#gRed)"/>
<text x="44.6" y="841.4" font-size="8" fill="#262626">348</text>
<text x="44.6" y="861.2" font-size="8" fill="#262626">0</text>
<g transform="translate(0,783.8)">
<clipPath id="clipk"><polygon points="16.4,103.3 17.5,100.5 19.1,99.2 22.0,97.0 29.1,93.7 30.0,95.5 39.1,91.9 41.4,95.1 49.1,94.6 54.5,89.6 57.3,86.8 68.6,85.1 73.2,82.4 82.3,79.2 96.7,73.5 101.1,70.5 101.5,69.1 100.4,65.5 101.8,63.3 104.0,59.6 107.6,56.0 104.5,47.8 103.6,40.5 101.8,36.9 97.3,35.1 103.6,32.8 120.9,28.7 122.7,30.5 128.2,33.1 140.0,33.3 144.7,33.7 150.0,32.0 158.0,30.0 163.0,25.0 168.0,29.0 195.0,29.6 196.0,34.0 234.5,33.7 236.4,29.6 239.5,27.4 242.7,30.5 250.0,32.4 251.4,35.5 249.1,39.6 250.0,47.8 251.4,51.0 248.2,52.4 247.3,55.1 250.0,63.3 251.8,71.5 255.5,76.0 256.4,83.3 232.2,81.4 227.3,82.2 228.9,90.4 205.2,94.5 202.7,96.9 175.0,97.6 153.4,96.1 151.8,100.0 144.1,106.9 99.3,106.9 95.4,105.4 94.6,99.2 91.4,97.4 80.5,97.4 68.6,100.5 60.0,102.4 46.4,105.0 37.3,104.6 35.5,109.6 30.0,113.3 23.6,110.0 17.3,107.4"/></clipPath>
<g clip-path="url(#clipk)">
<rect x="0" y="0" width="280" height="141" fill="#fbe3ce"/>
<g>
<circle cx="126.2" cy="41.5" r="0.66" fill="#ff1a1a"/>
<circle cx="132.9" cy="38.8" r="0.63" fill="#ff4d40"/>
<circle cx="145.6" cy="40.7" r="0.43" fill="#ff1a1a"/>
<circle cx="125.0" cy="39.7" r="0.63" fill="#ff4d40"/>
<circle cx="116.5" cy="37.1" r="0.42" fill="#ff2a20"/>
<circle cx="140.1" cy="40.7" r="0.62" fill="#ff4d40"/>
<circle cx="127.9" cy="41.6" r="0.45" fill="#f86a5a"/>
<circle cx="108.9" cy="38.3" r="0.44" fill="#ff4d40"/>
<circle cx="116.9" cy="42.7" r="0.43" fill="#ff1a1a"/>
<circle cx="117.1" cy="37.6" r="0.61" fill="#f86a5a"/>
<circle cx="146.8" cy="41.5" r="0.54" fill="#ff4d40"/>
<circle cx="186.4" cy="35.5" r="0.50" fill="#f86a5a"/>
<circle cx="149.8" cy="39.0" r="0.69" fill="#f86a5a"/>
<circle cx="175.5" cy="39.3" r="0.60" fill="#ff4d40"/>
<circle cx="180.4" cy="38.3" r="0.60" fill="#ff1a1a"/>
<circle cx="185.9" cy="39.7" r="0.62" fill="#f86a5a"/>
<circle cx="172.5" cy="42.4" r="0.60" fill="#ff2a20"/>
<circle cx="186.0" cy="40.6" r="0.51" fill="#ff1a1a"/>
<circle cx="201.7" cy="41.7" r="0.66" fill="#ff2a20"/>
<circle cx="176.8" cy="42.9" r="0.67" fill="#ff1a1a"/>
<circle cx="199.3" cy="48.5" r="0.89" fill="#ff2a20"/>
<circle cx="200.4" cy="49.9" r="0.50" fill="#ff4d40"/>
<circle cx="195.3" cy="51.0" r="0.80" fill="#ff4d40"/>
<circle cx="196.2" cy="49.6" r="1.11" fill="#ff2a20"/>
<circle cx="198.8" cy="48.1" r="0.73" fill="#f86a5a"/>
<circle cx="163.4" cy="25.1" r="0.58" fill="#ff1a1a"/>
<circle cx="164.5" cy="26.6" r="0.59" fill="#ff2a20"/>
<circle cx="164.5" cy="25.4" r="0.63" fill="#ff4d40"/>
<circle cx="107.0" cy="46.4" r="0.68" fill="#ff4d40"/>
<circle cx="109.4" cy="41.6" r="0.71" fill="#ff1a1a"/>
<circle cx="100.3" cy="46.6" r="0.88" fill="#ff2a20"/>
<circle cx="107.2" cy="46.8" r="0.64" fill="#ff2a20"/>
<circle cx="114.1" cy="45.4" r="0.50" fill="#ff4d40"/>
<circle cx="118.3" cy="47.6" r="0.45" fill="#ff4d40"/>
<circle cx="97.8" cy="43.3" r="0.71" fill="#ff1a1a"/>
<circle cx="117.8" cy="42.1" r="0.47" fill="#f86a5a"/>
<circle cx="119.8" cy="43.9" r="0.64" fill="#ff1a1a"/>
<circle cx="123.0" cy="37.3" r="0.63" fill="#ff2a20"/>
<circle cx="222.5" cy="59.0" r="0.70" fill="#f86a5a"/>
<circle cx="206.7" cy="58.4" r="0.61" fill="#ff4d40"/>
<circle cx="239.0" cy="57.3" r="0.46" fill="#ff1a1a"/>
<circle cx="225.5" cy="56.3" r="0.66" fill="#ff1a1a"/>
<circle cx="221.9" cy="56.5" r="0.55" fill="#ff4d40"/>
<circle cx="219.7" cy="59.1" r="0.62" fill="#f86a5a"/>
<circle cx="214.2" cy="55.9" r="0.72" fill="#ff4d40"/>
<circle cx="232.6" cy="54.5" r="0.70" fill="#ff4d40"/>
<circle cx="229.3" cy="60.2" r="0.69" fill="#ff1a1a"/>
<circle cx="228.4" cy="55.8" r="0.48" fill="#f86a5a"/>
<circle cx="125.0" cy="76.8" r="0.80" fill="#f86a5a"/>
<circle cx="172.3" cy="74.1" r="0.59" fill="#f86a5a"/>
<circle cx="172.1" cy="79.7" r="0.76" fill="#ff1a1a"/>
<circle cx="139.0" cy="73.9" r="0.72" fill="#ff1a1a"/>
<circle cx="169.6" cy="70.8" r="0.56" fill="#ff4d40"/>
<circle cx="153.8" cy="73.4" r="0.72" fill="#f86a5a"/>
<circle cx="202.2" cy="79.3" r="0.69" fill="#ff2a20"/>
<circle cx="129.5" cy="80.0" r="0.69" fill="#ff4d40"/>
<circle cx="169.3" cy="72.9" r="0.64" fill="#ff2a20"/>
<circle cx="168.5" cy="70.4" r="0.73" fill="#ff2a20"/>
<circle cx="155.8" cy="69.1" r="0.62" fill="#ff4d40"/>
<circle cx="197.0" cy="74.2" r="0.69" fill="#ff1a1a"/>
<circle cx="92.4" cy="78.5" r="0.57" fill="#ff4d40"/>
<circle cx="123.8" cy="77.6" r="0.50" fill="#f86a5a"/>
<circle cx="99.6" cy="80.0" r="0.53" fill="#ff2a20"/>
<circle cx="122.1" cy="78.8" r="0.70" fill="#ff2a20"/>
<circle cx="108.5" cy="73.7" r="0.61" fill="#ff4d40"/>
<circle cx="105.7" cy="79.0" r="0.41" fill="#ff2a20"/>
<circle cx="122.7" cy="74.6" r="0.71" fill="#ff4d40"/>
<circle cx="126.4" cy="84.0" r="0.69" fill="#ff1a1a"/>
<circle cx="43.3" cy="100.2" r="0.57" fill="#ff1a1a"/>
<circle cx="53.0" cy="96.3" r="0.46" fill="#ff1a1a"/>
<circle cx="52.0" cy="93.5" r="0.57" fill="#ff1a1a"/>
<circle cx="34.5" cy="98.4" r="0.55" fill="#ff4d40"/>
<circle cx="45.4" cy="93.9" r="0.56" fill="#ff2a20"/>
<circle cx="41.0" cy="96.9" r="0.56" fill="#f86a5a"/>
</g>
</g>
<polygon points="16.4,103.3 17.5,100.5 19.1,99.2 22.0,97.0 29.1,93.7 30.0,95.5 39.1,91.9 41.4,95.1 49.1,94.6 54.5,89.6 57.3,86.8 68.6,85.1 73.2,82.4 82.3,79.2 96.7,73.5 101.1,70.5 101.5,69.1 100.4,65.5 101.8,63.3 104.0,59.6 107.6,56.0 104.5,47.8 103.6,40.5 101.8,36.9 97.3,35.1 103.6,32.8 120.9,28.7 122.7,30.5 128.2,33.1 140.0,33.3 144.7,33.7 150.0,32.0 158.0,30.0 163.0,25.0 168.0,29.0 195.0,29.6 196.0,34.0 234.5,33.7 236.4,29.6 239.5,27.4 242.7,30.5 250.0,32.4 251.4,35.5 249.1,39.6 250.0,47.8 251.4,51.0 248.2,52.4 247.3,55.1 250.0,63.3 251.8,71.5 255.5,76.0 256.4,83.3 232.2,81.4 227.3,82.2 228.9,90.4 205.2,94.5 202.7,96.9 175.0,97.6 153.4,96.1 151.8,100.0 144.1,106.9 99.3,106.9 95.4,105.4 94.6,99.2 91.4,97.4 80.5,97.4 68.6,100.5 60.0,102.4 46.4,105.0 37.3,104.6 35.5,109.6 30.0,113.3 23.6,110.0 17.3,107.4" fill="none" stroke="#262626" stroke-width="1.15" stroke-linejoin="round"/>
<polyline points="97.3,35.1 101.8,36.9 112.7,39.6 126.4,42.2 134.2,44.8 150.5,48.3 158.2,51.3 164.2,54.5" fill="none" stroke="#262626" stroke-width="1.15" stroke-linejoin="round"/>
<polyline points="164.2,54.5 168.0,53.5 180.0,56.2 190.0,56.0 195.0,59.0 198.0,60.0 202.0,56.0 216.0,53.0 233.6,54.2 248.2,52.4" fill="none" stroke="#262626" stroke-width="1.15" stroke-linejoin="round"/>
<polyline points="164.2,54.5 160.5,57.1 148.0,58.6 135.9,59.9 130.5,61.9 131.8,64.6 125.0,66.7 113.5,70.0 112.0,69.1 101.5,69.3" fill="none" stroke="#262626" stroke-width="1.15" stroke-linejoin="round"/>
<text x="186.3" y="48.4" font-size="10.4" font-weight="bold" fill="#1a1a1a">NSTM</text>
<text x="110.5" y="60.4" font-size="10.4" font-weight="bold" fill="#1a1a1a">IRB</text>
<text x="145.6" y="86.6" font-size="10.4" font-weight="bold" fill="#1a1a1a">SSTM</text>
<text x="180" y="119.4" font-size="7.8" font-weight="bold" text-anchor="middle" fill="#1a1a1a">0</text>
<text x="210" y="119.4" font-size="7.8" font-weight="bold" text-anchor="middle" fill="#1a1a1a">250</text>
<text x="234.4" y="119.4" font-size="7.8" font-weight="bold" fill="#1a1a1a">500 km</text>
<polyline points="180,123.6 180,128.6 240,128.6 240,123.6" fill="none" stroke="#555" stroke-width="1"/>
<line x1="210" y1="124.6" x2="210" y2="128.6" stroke="#555" stroke-width="1"/>
<text x="264" y="14.0" font-size="9.9" text-anchor="middle" font-family="Liberation Sans" fill="#1a1a1a" transform="translate(264,14) scale(0.85,1) translate(-264,-14)">N</text>
<path d="M264.2,16.6 L258.0,37.4 L264.3,29.8Z" fill="#111"/>
<path d="M264.2,16.6 L270.4,37.4 L264.3,29.8Z" fill="#fff" stroke="#111" stroke-width="0.8" stroke-linejoin="miter"/>
</g>
<rect x="326.60" y="13.50" width="211.90" height="130.70" fill="none" stroke="#4d4d4d" stroke-width="1"/>
<line x1="326.60" y1="144.20" x2="329.80" y2="144.20" stroke="#4d4d4d" stroke-width="1.1"/>
<text x="323.30" y="146.80" text-anchor="end" font-size="7.5" fill="#262626">200</text>
<line x1="326.60" y1="122.42" x2="329.80" y2="122.42" stroke="#4d4d4d" stroke-width="1.1"/>
<text x="323.30" y="125.02" text-anchor="end" font-size="7.5" fill="#262626">300</text>
<line x1="326.60" y1="100.63" x2="329.80" y2="100.63" stroke="#4d4d4d" stroke-width="1.1"/>
<text x="323.30" y="103.23" text-anchor="end" font-size="7.5" fill="#262626">400</text>
<line x1="326.60" y1="78.85" x2="329.80" y2="78.85" stroke="#4d4d4d" stroke-width="1.1"/>
<text x="323.30" y="81.45" text-anchor="end" font-size="7.5" fill="#262626">500</text>
<line x1="326.60" y1="57.07" x2="329.80" y2="57.07" stroke="#4d4d4d" stroke-width="1.1"/>
<text x="323.30" y="59.67" text-anchor="end" font-size="7.5" fill="#262626">600</text>
<line x1="326.60" y1="35.28" x2="329.80" y2="35.28" stroke="#4d4d4d" stroke-width="1.1"/>
<text x="323.30" y="37.88" text-anchor="end" font-size="7.5" fill="#262626">700</text>
<line x1="326.60" y1="13.50" x2="329.80" y2="13.50" stroke="#4d4d4d" stroke-width="1.1"/>
<text x="323.30" y="16.10" text-anchor="end" font-size="7.5" fill="#262626">800</text>
<line x1="326.60" y1="144.20" x2="326.60" y2="146.40" stroke="#4d4d4d" stroke-width="0.8"/>
<line x1="336.69" y1="144.20" x2="336.69" y2="146.40" stroke="#4d4d4d" stroke-width="0.8"/>
<line x1="346.78" y1="144.20" x2="346.78" y2="146.40" stroke="#4d4d4d" stroke-width="0.8"/>
<line x1="356.87" y1="144.20" x2="356.87" y2="146.40" stroke="#4d4d4d" stroke-width="0.8"/>
<line x1="366.96" y1="144.20" x2="366.96" y2="146.40" stroke="#4d4d4d" stroke-width="0.8"/>
<line x1="377.05" y1="144.20" x2="377.05" y2="146.40" stroke="#4d4d4d" stroke-width="0.8"/>
<line x1="387.14" y1="144.20" x2="387.14" y2="146.40" stroke="#4d4d4d" stroke-width="0.8"/>
<line x1="397.23" y1="144.20" x2="397.23" y2="146.40" stroke="#4d4d4d" stroke-width="0.8"/>
<line x1="407.32" y1="144.20" x2="407.32" y2="146.40" stroke="#4d4d4d" stroke-width="0.8"/>
<line x1="417.41" y1="144.20" x2="417.41" y2="146.40" stroke="#4d4d4d" stroke-width="0.8"/>
<line x1="427.50" y1="144.20" x2="427.50" y2="146.40" stroke="#4d4d4d" stroke-width="0.8"/>
<line x1="437.60" y1="144.20" x2="437.60" y2="146.40" stroke="#4d4d4d" stroke-width="0.8"/>
<line x1="447.69" y1="144.20" x2="447.69" y2="146.40" stroke="#4d4d4d" stroke-width="0.8"/>
<line x1="457.78" y1="144.20" x2="457.78" y2="146.40" stroke="#4d4d4d" stroke-width="0.8"/>
<line x1="467.87" y1="144.20" x2="467.87" y2="146.40" stroke="#4d4d4d" stroke-width="0.8"/>
<line x1="477.96" y1="144.20" x2="477.96" y2="146.40" stroke="#4d4d4d" stroke-width="0.8"/>
<line x1="488.05" y1="144.20" x2="488.05" y2="146.40" stroke="#4d4d4d" stroke-width="0.8"/>
<line x1="498.14" y1="144.20" x2="498.14" y2="146.40" stroke="#4d4d4d" stroke-width="0.8"/>
<line x1="508.23" y1="144.20" x2="508.23" y2="146.40" stroke="#4d4d4d" stroke-width="0.8"/>
<line x1="518.32" y1="144.20" x2="518.32" y2="146.40" stroke="#4d4d4d" stroke-width="0.8"/>
<line x1="528.41" y1="144.20" x2="528.41" y2="146.40" stroke="#4d4d4d" stroke-width="0.8"/>
<line x1="538.50" y1="144.20" x2="538.50" y2="146.40" stroke="#4d4d4d" stroke-width="0.8"/>
<text x="326.60" y="154.90" text-anchor="middle" font-size="7.5" fill="#262626">2000</text>
<text x="346.78" y="154.90" text-anchor="middle" font-size="7.5" fill="#262626">2002</text>
<text x="366.96" y="154.90" text-anchor="middle" font-size="7.5" fill="#262626">2004</text>
<text x="387.14" y="154.90" text-anchor="middle" font-size="7.5" fill="#262626">2006</text>
<text x="407.32" y="154.90" text-anchor="middle" font-size="7.5" fill="#262626">2008</text>
<text x="427.50" y="154.90" text-anchor="middle" font-size="7.5" fill="#262626">2010</text>
<text x="447.69" y="154.90" text-anchor="middle" font-size="7.5" fill="#262626">2012</text>
<text x="467.87" y="154.90" text-anchor="middle" font-size="7.5" fill="#262626">2014</text>
<text x="488.05" y="154.90" text-anchor="middle" font-size="7.5" fill="#262626">2016</text>
<text x="508.23" y="154.90" text-anchor="middle" font-size="7.5" fill="#262626">2018</text>
<text x="528.41" y="154.90" text-anchor="middle" font-size="7.5" fill="#262626">2020</text>
<polyline points="336.69,86.69 346.78,87.35 356.87,98.89 366.96,100.85 377.05,99.33 387.14,112.40 397.23,85.82 407.32,108.26 417.41,100.85 427.50,111.09 437.60,97.15 447.69,113.92 457.78,93.88 467.87,115.45 477.96,98.89 488.05,77.11 498.14,103.25 508.23,99.76 518.32,95.84 528.41,112.83" fill="none" stroke="#ffa8a8" stroke-width="0.8"/>
<polyline points="336.69,20.25 346.78,27.22 356.87,44.43 366.96,57.94 377.05,42.91 387.14,50.97 397.23,29.18 407.32,57.94 417.41,47.70 427.50,50.10 437.60,42.25 447.69,64.47 457.78,56.85 467.87,68.61 477.96,52.49 488.05,19.60 498.14,54.45 508.23,54.89 518.32,42.04 528.41,59.03" fill="none" stroke="#a8a8ff" stroke-width="0.8"/>
<polyline points="336.69,80.16 346.78,83.64 356.87,92.79 366.96,102.81 377.05,84.73 387.14,103.25 397.23,96.49 407.32,101.94 417.41,107.60 427.50,93.88 437.60,96.49 447.69,101.94 457.78,94.32 467.87,99.98 477.96,90.40 488.05,81.03 498.14,91.92 508.23,97.58 518.32,85.82 528.41,95.41" fill="none" stroke="#9fcf9f" stroke-width="0.8"/>
<rect x="334.74" y="84.74" width="3.9" height="3.9" fill="#ff0000"/>
<rect x="344.83" y="85.40" width="3.9" height="3.9" fill="#ff0000"/>
<rect x="354.92" y="96.94" width="3.9" height="3.9" fill="#ff0000"/>
<rect x="365.01" y="98.90" width="3.9" height="3.9" fill="#ff0000"/>
<rect x="375.10" y="97.38" width="3.9" height="3.9" fill="#ff0000"/>
<rect x="385.19" y="110.45" width="3.9" height="3.9" fill="#ff0000"/>
<rect x="395.28" y="83.87" width="3.9" height="3.9" fill="#ff0000"/>
<rect x="405.37" y="106.31" width="3.9" height="3.9" fill="#ff0000"/>
<rect x="415.46" y="98.90" width="3.9" height="3.9" fill="#ff0000"/>
<rect x="425.55" y="109.14" width="3.9" height="3.9" fill="#ff0000"/>
<rect x="435.65" y="95.20" width="3.9" height="3.9" fill="#ff0000"/>
<rect x="445.74" y="111.97" width="3.9" height="3.9" fill="#ff0000"/>
<rect x="455.83" y="91.93" width="3.9" height="3.9" fill="#ff0000"/>
<rect x="465.92" y="113.50" width="3.9" height="3.9" fill="#ff0000"/>
<rect x="476.01" y="96.94" width="3.9" height="3.9" fill="#ff0000"/>
<rect x="486.10" y="75.16" width="3.9" height="3.9" fill="#ff0000"/>
<rect x="496.19" y="101.30" width="3.9" height="3.9" fill="#ff0000"/>
<rect x="506.28" y="97.81" width="3.9" height="3.9" fill="#ff0000"/>
<rect x="516.37" y="93.89" width="3.9" height="3.9" fill="#ff0000"/>
<rect x="526.46" y="110.88" width="3.9" height="3.9" fill="#ff0000"/>
<circle cx="336.69" cy="20.25" r="2.15" fill="#0000ff"/>
<circle cx="346.78" cy="27.22" r="2.15" fill="#0000ff"/>
<circle cx="356.87" cy="44.43" r="2.15" fill="#0000ff"/>
<circle cx="366.96" cy="57.94" r="2.15" fill="#0000ff"/>
<circle cx="377.05" cy="42.91" r="2.15" fill="#0000ff"/>
<circle cx="387.14" cy="50.97" r="2.15" fill="#0000ff"/>
<circle cx="397.23" cy="29.18" r="2.15" fill="#0000ff"/>
<circle cx="407.32" cy="57.94" r="2.15" fill="#0000ff"/>
<circle cx="417.41" cy="47.70" r="2.15" fill="#0000ff"/>
<circle cx="427.50" cy="50.10" r="2.15" fill="#0000ff"/>
<circle cx="437.60" cy="42.25" r="2.15" fill="#0000ff"/>
<circle cx="447.69" cy="64.47" r="2.15" fill="#0000ff"/>
<circle cx="457.78" cy="56.85" r="2.15" fill="#0000ff"/>
<circle cx="467.87" cy="68.61" r="2.15" fill="#0000ff"/>
<circle cx="477.96" cy="52.49" r="2.15" fill="#0000ff"/>
<circle cx="488.05" cy="19.60" r="2.15" fill="#0000ff"/>
<circle cx="498.14" cy="54.45" r="2.15" fill="#0000ff"/>
<circle cx="508.23" cy="54.89" r="2.15" fill="#0000ff"/>
<circle cx="518.32" cy="42.04" r="2.15" fill="#0000ff"/>
<circle cx="528.41" cy="59.03" r="2.15" fill="#0000ff"/>
<path d="M336.69,77.66 L339.19,81.86 L334.19,81.86Z" fill="#008000"/>
<path d="M346.78,81.14 L349.28,85.34 L344.28,85.34Z" fill="#008000"/>
<path d="M356.87,90.29 L359.37,94.49 L354.37,94.49Z" fill="#008000"/>
<path d="M366.96,100.31 L369.46,104.51 L364.46,104.51Z" fill="#008000"/>
<path d="M377.05,82.23 L379.55,86.43 L374.55,86.43Z" fill="#008000"/>
<path d="M387.14,100.75 L389.64,104.95 L384.64,104.95Z" fill="#008000"/>
<path d="M397.23,93.99 L399.73,98.19 L394.73,98.19Z" fill="#008000"/>
<path d="M407.32,99.44 L409.82,103.64 L404.82,103.64Z" fill="#008000"/>
<path d="M417.41,105.10 L419.91,109.30 L414.91,109.30Z" fill="#008000"/>
<path d="M427.50,91.38 L430.00,95.58 L425.00,95.58Z" fill="#008000"/>
<path d="M437.60,93.99 L440.10,98.19 L435.10,98.19Z" fill="#008000"/>
<path d="M447.69,99.44 L450.19,103.64 L445.19,103.64Z" fill="#008000"/>
<path d="M457.78,91.82 L460.28,96.02 L455.28,96.02Z" fill="#008000"/>
<path d="M467.87,97.48 L470.37,101.68 L465.37,101.68Z" fill="#008000"/>
<path d="M477.96,87.90 L480.46,92.10 L475.46,92.10Z" fill="#008000"/>
<path d="M488.05,78.53 L490.55,82.73 L485.55,82.73Z" fill="#008000"/>
<path d="M498.14,89.42 L500.64,93.62 L495.64,93.62Z" fill="#008000"/>
<path d="M508.23,95.08 L510.73,99.28 L505.73,99.28Z" fill="#008000"/>
<path d="M518.32,83.32 L520.82,87.52 L515.82,87.52Z" fill="#008000"/>
<path d="M528.41,92.91 L530.91,97.11 L525.91,97.11Z" fill="#008000"/>
<line x1="401.30" y1="132.30" x2="423.20" y2="132.30" stroke="#ffa8a8" stroke-width="0.8"/>
<rect x="411.25" y="130.35" width="3.9" height="3.9" fill="#ff0000"/>
<text x="426.20" y="135.60" font-size="9.3" fill="#262626">NSTM</text>
<line x1="451.20" y1="132.30" x2="471.30" y2="132.30" stroke="#a8a8ff" stroke-width="0.8"/>
<circle cx="461.30" cy="132.30" r="2.15" fill="#0000ff"/>
<text x="474.20" y="135.60" font-size="9.3" fill="#262626">IRB</text>
<line x1="489.00" y1="132.30" x2="509.00" y2="132.30" stroke="#9fcf9f" stroke-width="0.8"/>
<path d="M499.00,129.80 L501.50,134.00 L496.50,134.00Z" fill="#008000"/>
<text x="512.20" y="135.60" font-size="9.3" fill="#262626">SSTM</text>
<text transform="translate(296.2,78.85) rotate(-90)" text-anchor="middle" font-size="9.7" fill="#262626">Precipitation</text>
<text transform="translate(308.6,78.85) rotate(-90)" text-anchor="middle" font-size="9.7" fill="#262626">(mm)</text>
<text x="282.0" y="29.60" font-size="19" fill="#262626">(b)</text>
<rect x="323.00" y="167.30" width="215.50" height="132.70" fill="none" stroke="#4d4d4d" stroke-width="1"/>
<line x1="323.00" y1="293.37" x2="326.20" y2="293.37" stroke="#4d4d4d" stroke-width="1.1"/>
<text x="319.70" y="295.97" text-anchor="end" font-size="7.5" fill="#262626">6</text>
<line x1="323.00" y1="280.10" x2="326.20" y2="280.10" stroke="#4d4d4d" stroke-width="1.1"/>
<text x="319.70" y="282.70" text-anchor="end" font-size="7.5" fill="#262626">7</text>
<line x1="323.00" y1="266.82" x2="326.20" y2="266.82" stroke="#4d4d4d" stroke-width="1.1"/>
<text x="319.70" y="269.43" text-anchor="end" font-size="7.5" fill="#262626">8</text>
<line x1="323.00" y1="253.56" x2="326.20" y2="253.56" stroke="#4d4d4d" stroke-width="1.1"/>
<text x="319.70" y="256.16" text-anchor="end" font-size="7.5" fill="#262626">9</text>
<line x1="323.00" y1="240.28" x2="326.20" y2="240.28" stroke="#4d4d4d" stroke-width="1.1"/>
<text x="319.70" y="242.88" text-anchor="end" font-size="7.5" fill="#262626">10</text>
<line x1="323.00" y1="227.02" x2="326.20" y2="227.02" stroke="#4d4d4d" stroke-width="1.1"/>
<text x="319.70" y="229.62" text-anchor="end" font-size="7.5" fill="#262626">11</text>
<line x1="323.00" y1="213.75" x2="326.20" y2="213.75" stroke="#4d4d4d" stroke-width="1.1"/>
<text x="319.70" y="216.34" text-anchor="end" font-size="7.5" fill="#262626">12</text>
<line x1="323.00" y1="200.48" x2="326.20" y2="200.48" stroke="#4d4d4d" stroke-width="1.1"/>
<text x="319.70" y="203.08" text-anchor="end" font-size="7.5" fill="#262626">13</text>
<line x1="323.00" y1="187.21" x2="326.20" y2="187.21" stroke="#4d4d4d" stroke-width="1.1"/>
<text x="319.70" y="189.81" text-anchor="end" font-size="7.5" fill="#262626">14</text>
<line x1="323.00" y1="173.94" x2="326.20" y2="173.94" stroke="#4d4d4d" stroke-width="1.1"/>
<text x="319.70" y="176.53" text-anchor="end" font-size="7.5" fill="#262626">15</text>
<line x1="323.00" y1="300.00" x2="323.00" y2="302.20" stroke="#4d4d4d" stroke-width="0.8"/>
<line x1="333.26" y1="300.00" x2="333.26" y2="302.20" stroke="#4d4d4d" stroke-width="0.8"/>
<line x1="343.52" y1="300.00" x2="343.52" y2="302.20" stroke="#4d4d4d" stroke-width="0.8"/>
<line x1="353.79" y1="300.00" x2="353.79" y2="302.20" stroke="#4d4d4d" stroke-width="0.8"/>
<line x1="364.05" y1="300.00" x2="364.05" y2="302.20" stroke="#4d4d4d" stroke-width="0.8"/>
<line x1="374.31" y1="300.00" x2="374.31" y2="302.20" stroke="#4d4d4d" stroke-width="0.8"/>
<line x1="384.57" y1="300.00" x2="384.57" y2="302.20" stroke="#4d4d4d" stroke-width="0.8"/>
<line x1="394.83" y1="300.00" x2="394.83" y2="302.20" stroke="#4d4d4d" stroke-width="0.8"/>
<line x1="405.10" y1="300.00" x2="405.10" y2="302.20" stroke="#4d4d4d" stroke-width="0.8"/>
<line x1="415.36" y1="300.00" x2="415.36" y2="302.20" stroke="#4d4d4d" stroke-width="0.8"/>
<line x1="425.62" y1="300.00" x2="425.62" y2="302.20" stroke="#4d4d4d" stroke-width="0.8"/>
<line x1="435.88" y1="300.00" x2="435.88" y2="302.20" stroke="#4d4d4d" stroke-width="0.8"/>
<line x1="446.14" y1="300.00" x2="446.14" y2="302.20" stroke="#4d4d4d" stroke-width="0.8"/>
<line x1="456.40" y1="300.00" x2="456.40" y2="302.20" stroke="#4d4d4d" stroke-width="0.8"/>
<line x1="466.67" y1="300.00" x2="466.67" y2="302.20" stroke="#4d4d4d" stroke-width="0.8"/>
<line x1="476.93" y1="300.00" x2="476.93" y2="302.20" stroke="#4d4d4d" stroke-width="0.8"/>
<line x1="487.19" y1="300.00" x2="487.19" y2="302.20" stroke="#4d4d4d" stroke-width="0.8"/>
<line x1="497.45" y1="300.00" x2="497.45" y2="302.20" stroke="#4d4d4d" stroke-width="0.8"/>
<line x1="507.71" y1="300.00" x2="507.71" y2="302.20" stroke="#4d4d4d" stroke-width="0.8"/>
<line x1="517.98" y1="300.00" x2="517.98" y2="302.20" stroke="#4d4d4d" stroke-width="0.8"/>
<line x1="528.24" y1="300.00" x2="528.24" y2="302.20" stroke="#4d4d4d" stroke-width="0.8"/>
<line x1="538.50" y1="300.00" x2="538.50" y2="302.20" stroke="#4d4d4d" stroke-width="0.8"/>
<text x="323.00" y="310.70" text-anchor="middle" font-size="7.5" fill="#262626">2000</text>
<text x="343.52" y="310.70" text-anchor="middle" font-size="7.5" fill="#262626">2002</text>
<text x="364.05" y="310.70" text-anchor="middle" font-size="7.5" fill="#262626">2004</text>
<text x="384.57" y="310.70" text-anchor="middle" font-size="7.5" fill="#262626">2006</text>
<text x="405.10" y="310.70" text-anchor="middle" font-size="7.5" fill="#262626">2008</text>
<text x="425.62" y="310.70" text-anchor="middle" font-size="7.5" fill="#262626">2010</text>
<text x="446.14" y="310.70" text-anchor="middle" font-size="7.5" fill="#262626">2012</text>
<text x="466.67" y="310.70" text-anchor="middle" font-size="7.5" fill="#262626">2014</text>
<text x="487.19" y="310.70" text-anchor="middle" font-size="7.5" fill="#262626">2016</text>
<text x="507.71" y="310.70" text-anchor="middle" font-size="7.5" fill="#262626">2018</text>
<text x="528.24" y="310.70" text-anchor="middle" font-size="7.5" fill="#262626">2020</text>
<polyline points="333.26,192.38 343.52,190.39 353.79,200.21 364.05,189.33 374.31,182.16 384.57,178.18 394.83,181.10 405.10,173.94 415.36,184.95 425.62,188.93 435.88,177.92 446.14,176.19 456.40,181.90 466.67,189.59 476.93,184.95 487.19,182.56 497.45,180.30 507.71,186.01 517.98,176.19 528.24,180.30" fill="none" stroke="#ffa8a8" stroke-width="0.8"/>
<polyline points="333.26,267.49 343.52,262.58 353.79,275.72 364.05,263.77 374.31,257.54 384.57,254.75 394.83,255.55 405.10,249.97 415.36,265.10 425.62,262.18 435.88,253.56 446.14,252.36 456.40,254.09 466.67,269.21 476.93,259.53 487.19,256.08 497.45,256.08 507.71,260.19 517.98,254.75 528.24,256.47" fill="none" stroke="#a8a8ff" stroke-width="0.8"/>
<polyline points="333.26,268.55 343.52,262.58 353.79,279.17 364.05,265.10 374.31,265.76 384.57,253.69 394.83,252.76 405.10,253.56 415.36,260.72 425.62,264.17 435.88,256.34 446.14,260.19 456.40,255.55 466.67,272.13 476.93,262.58 487.19,255.55 497.45,262.71 507.71,262.71 517.98,258.07 528.24,260.72" fill="none" stroke="#9fcf9f" stroke-width="0.8"/>
<rect x="331.31" y="190.43" width="3.9" height="3.9" fill="#ff0000"/>
<rect x="341.57" y="188.44" width="3.9" height="3.9" fill="#ff0000"/>
<rect x="351.84" y="198.26" width="3.9" height="3.9" fill="#ff0000"/>
<rect x="362.10" y="187.38" width="3.9" height="3.9" fill="#ff0000"/>
<rect x="372.36" y="180.21" width="3.9" height="3.9" fill="#ff0000"/>
<rect x="382.62" y="176.23" width="3.9" height="3.9" fill="#ff0000"/>
<rect x="392.88" y="179.15" width="3.9" height="3.9" fill="#ff0000"/>
<rect x="403.15" y="171.99" width="3.9" height="3.9" fill="#ff0000"/>
<rect x="413.41" y="183.00" width="3.9" height="3.9" fill="#ff0000"/>
<rect x="423.67" y="186.98" width="3.9" height="3.9" fill="#ff0000"/>
<rect x="433.93" y="175.97" width="3.9" height="3.9" fill="#ff0000"/>
<rect x="444.19" y="174.24" width="3.9" height="3.9" fill="#ff0000"/>
<rect x="454.45" y="179.95" width="3.9" height="3.9" fill="#ff0000"/>
<rect x="464.72" y="187.64" width="3.9" height="3.9" fill="#ff0000"/>
<rect x="474.98" y="183.00" width="3.9" height="3.9" fill="#ff0000"/>
<rect x="485.24" y="180.61" width="3.9" height="3.9" fill="#ff0000"/>
<rect x="495.50" y="178.35" width="3.9" height="3.9" fill="#ff0000"/>
<rect x="505.76" y="184.06" width="3.9" height="3.9" fill="#ff0000"/>
<rect x="516.03" y="174.24" width="3.9" height="3.9" fill="#ff0000"/>
<rect x="526.29" y="178.35" width="3.9" height="3.9" fill="#ff0000"/>
<circle cx="333.26" cy="267.49" r="2.15" fill="#0000ff"/>
<circle cx="343.52" cy="262.58" r="2.15" fill="#0000ff"/>
<circle cx="353.79" cy="275.72" r="2.15" fill="#0000ff"/>
<circle cx="364.05" cy="263.77" r="2.15" fill="#0000ff"/>
<circle cx="374.31" cy="257.54" r="2.15" fill="#0000ff"/>
<circle cx="384.57" cy="254.75" r="2.15" fill="#0000ff"/>
<circle cx="394.83" cy="255.55" r="2.15" fill="#0000ff"/>
<circle cx="405.10" cy="249.97" r="2.15" fill="#0000ff"/>
<circle cx="415.36" cy="265.10" r="2.15" fill="#0000ff"/>
<circle cx="425.62" cy="262.18" r="2.15" fill="#0000ff"/>
<circle cx="435.88" cy="253.56" r="2.15" fill="#0000ff"/>
<circle cx="446.14" cy="252.36" r="2.15" fill="#0000ff"/>
<circle cx="456.40" cy="254.09" r="2.15" fill="#0000ff"/>
<circle cx="466.67" cy="269.21" r="2.15" fill="#0000ff"/>
<circle cx="476.93" cy="259.53" r="2.15" fill="#0000ff"/>
<circle cx="487.19" cy="256.08" r="2.15" fill="#0000ff"/>
<circle cx="497.45" cy="256.08" r="2.15" fill="#0000ff"/>
<circle cx="507.71" cy="260.19" r="2.15" fill="#0000ff"/>
<circle cx="517.98" cy="254.75" r="2.15" fill="#0000ff"/>
<circle cx="528.24" cy="256.47" r="2.15" fill="#0000ff"/>
<path d="M333.26,266.05 L335.76,270.25 L330.76,270.25Z" fill="#008000"/>
<path d="M343.52,260.08 L346.02,264.28 L341.02,264.28Z" fill="#008000"/>
<path d="M353.79,276.67 L356.29,280.87 L351.29,280.87Z" fill="#008000"/>
<path d="M364.05,262.60 L366.55,266.80 L361.55,266.80Z" fill="#008000"/>
<path d="M374.31,263.26 L376.81,267.46 L371.81,267.46Z" fill="#008000"/>
<path d="M384.57,251.19 L387.07,255.39 L382.07,255.39Z" fill="#008000"/>
<path d="M394.83,250.26 L397.33,254.46 L392.33,254.46Z" fill="#008000"/>
<path d="M405.10,251.06 L407.60,255.25 L402.60,255.25Z" fill="#008000"/>
<path d="M415.36,258.22 L417.86,262.42 L412.86,262.42Z" fill="#008000"/>
<path d="M425.62,261.67 L428.12,265.87 L423.12,265.87Z" fill="#008000"/>
<path d="M435.88,253.84 L438.38,258.04 L433.38,258.04Z" fill="#008000"/>
<path d="M446.14,257.69 L448.64,261.89 L443.64,261.89Z" fill="#008000"/>
<path d="M456.40,253.05 L458.90,257.25 L453.90,257.25Z" fill="#008000"/>
<path d="M466.67,269.63 L469.17,273.83 L464.17,273.83Z" fill="#008000"/>
<path d="M476.93,260.08 L479.43,264.28 L474.43,264.28Z" fill="#008000"/>
<path d="M487.19,253.05 L489.69,257.25 L484.69,257.25Z" fill="#008000"/>
<path d="M497.45,260.21 L499.95,264.41 L494.95,264.41Z" fill="#008000"/>
<path d="M507.71,260.21 L510.21,264.41 L505.21,264.41Z" fill="#008000"/>
<path d="M517.98,255.57 L520.48,259.77 L515.48,259.77Z" fill="#008000"/>
<path d="M528.24,258.22 L530.74,262.42 L525.74,262.42Z" fill="#008000"/>
<line x1="398.80" y1="289.40" x2="420.70" y2="289.40" stroke="#ffa8a8" stroke-width="0.8"/>
<rect x="408.75" y="287.45" width="3.9" height="3.9" fill="#ff0000"/>
<text x="423.70" y="292.70" font-size="9.3" fill="#262626">NSTM</text>
<line x1="448.70" y1="289.40" x2="468.80" y2="289.40" stroke="#a8a8ff" stroke-width="0.8"/>
<circle cx="458.80" cy="289.40" r="2.15" fill="#0000ff"/>
<text x="471.70" y="292.70" font-size="9.3" fill="#262626">IRB</text>
<line x1="486.50" y1="289.40" x2="506.50" y2="289.40" stroke="#9fcf9f" stroke-width="0.8"/>
<path d="M496.50,286.90 L499.00,291.10 L494.00,291.10Z" fill="#008000"/>
<text x="509.70" y="292.70" font-size="9.3" fill="#262626">SSTM</text>
<text transform="translate(296.2,233.65) rotate(-90)" text-anchor="middle" font-size="9.7" fill="#262626">Temperature</text>
<text transform="translate(308.6,233.65) rotate(-90)" text-anchor="middle" font-size="9.7" fill="#262626">(°C)</text>
<text x="282.0" y="185.10" font-size="19" fill="#262626">(d)</text>
<rect x="327.50" y="323.00" width="211.00" height="130.70" fill="none" stroke="#4d4d4d" stroke-width="1"/>
<line x1="327.50" y1="453.70" x2="330.70" y2="453.70" stroke="#4d4d4d" stroke-width="1.1"/>
<text x="324.20" y="456.30" text-anchor="end" font-size="7.5" fill="#262626">400</text>
<line x1="327.50" y1="431.92" x2="330.70" y2="431.92" stroke="#4d4d4d" stroke-width="1.1"/>
<text x="324.20" y="434.52" text-anchor="end" font-size="7.5" fill="#262626">420</text>
<line x1="327.50" y1="410.13" x2="330.70" y2="410.13" stroke="#4d4d4d" stroke-width="1.1"/>
<text x="324.20" y="412.73" text-anchor="end" font-size="7.5" fill="#262626">440</text>
<line x1="327.50" y1="388.35" x2="330.70" y2="388.35" stroke="#4d4d4d" stroke-width="1.1"/>
<text x="324.20" y="390.95" text-anchor="end" font-size="7.5" fill="#262626">460</text>
<line x1="327.50" y1="366.57" x2="330.70" y2="366.57" stroke="#4d4d4d" stroke-width="1.1"/>
<text x="324.20" y="369.17" text-anchor="end" font-size="7.5" fill="#262626">480</text>
<line x1="327.50" y1="344.78" x2="330.70" y2="344.78" stroke="#4d4d4d" stroke-width="1.1"/>
<text x="324.20" y="347.38" text-anchor="end" font-size="7.5" fill="#262626">500</text>
<line x1="327.50" y1="323.00" x2="330.70" y2="323.00" stroke="#4d4d4d" stroke-width="1.1"/>
<text x="324.20" y="325.60" text-anchor="end" font-size="7.5" fill="#262626">520</text>
<line x1="327.50" y1="453.70" x2="327.50" y2="455.90" stroke="#4d4d4d" stroke-width="0.8"/>
<line x1="337.55" y1="453.70" x2="337.55" y2="455.90" stroke="#4d4d4d" stroke-width="0.8"/>
<line x1="347.60" y1="453.70" x2="347.60" y2="455.90" stroke="#4d4d4d" stroke-width="0.8"/>
<line x1="357.64" y1="453.70" x2="357.64" y2="455.90" stroke="#4d4d4d" stroke-width="0.8"/>
<line x1="367.69" y1="453.70" x2="367.69" y2="455.90" stroke="#4d4d4d" stroke-width="0.8"/>
<line x1="377.74" y1="453.70" x2="377.74" y2="455.90" stroke="#4d4d4d" stroke-width="0.8"/>
<line x1="387.79" y1="453.70" x2="387.79" y2="455.90" stroke="#4d4d4d" stroke-width="0.8"/>
<line x1="397.83" y1="453.70" x2="397.83" y2="455.90" stroke="#4d4d4d" stroke-width="0.8"/>
<line x1="407.88" y1="453.70" x2="407.88" y2="455.90" stroke="#4d4d4d" stroke-width="0.8"/>
<line x1="417.93" y1="453.70" x2="417.93" y2="455.90" stroke="#4d4d4d" stroke-width="0.8"/>
<line x1="427.98" y1="453.70" x2="427.98" y2="455.90" stroke="#4d4d4d" stroke-width="0.8"/>
<line x1="438.02" y1="453.70" x2="438.02" y2="455.90" stroke="#4d4d4d" stroke-width="0.8"/>
<line x1="448.07" y1="453.70" x2="448.07" y2="455.90" stroke="#4d4d4d" stroke-width="0.8"/>
<line x1="458.12" y1="453.70" x2="458.12" y2="455.90" stroke="#4d4d4d" stroke-width="0.8"/>
<line x1="468.17" y1="453.70" x2="468.17" y2="455.90" stroke="#4d4d4d" stroke-width="0.8"/>
<line x1="478.21" y1="453.70" x2="478.21" y2="455.90" stroke="#4d4d4d" stroke-width="0.8"/>
<line x1="488.26" y1="453.70" x2="488.26" y2="455.90" stroke="#4d4d4d" stroke-width="0.8"/>
<line x1="498.31" y1="453.70" x2="498.31" y2="455.90" stroke="#4d4d4d" stroke-width="0.8"/>
<line x1="508.36" y1="453.70" x2="508.36" y2="455.90" stroke="#4d4d4d" stroke-width="0.8"/>
<line x1="518.40" y1="453.70" x2="518.40" y2="455.90" stroke="#4d4d4d" stroke-width="0.8"/>
<line x1="528.45" y1="453.70" x2="528.45" y2="455.90" stroke="#4d4d4d" stroke-width="0.8"/>
<line x1="538.50" y1="453.70" x2="538.50" y2="455.90" stroke="#4d4d4d" stroke-width="0.8"/>
<text x="327.50" y="464.40" text-anchor="middle" font-size="7.5" fill="#262626">2000</text>
<text x="347.60" y="464.40" text-anchor="middle" font-size="7.5" fill="#262626">2002</text>
<text x="367.69" y="464.40" text-anchor="middle" font-size="7.5" fill="#262626">2004</text>
<text x="387.79" y="464.40" text-anchor="middle" font-size="7.5" fill="#262626">2006</text>
<text x="407.88" y="464.40" text-anchor="middle" font-size="7.5" fill="#262626">2008</text>
<text x="427.98" y="464.40" text-anchor="middle" font-size="7.5" fill="#262626">2010</text>
<text x="448.07" y="464.40" text-anchor="middle" font-size="7.5" fill="#262626">2012</text>
<text x="468.17" y="464.40" text-anchor="middle" font-size="7.5" fill="#262626">2014</text>
<text x="488.26" y="464.40" text-anchor="middle" font-size="7.5" fill="#262626">2016</text>
<text x="508.36" y="464.40" text-anchor="middle" font-size="7.5" fill="#262626">2018</text>
<text x="528.45" y="464.40" text-anchor="middle" font-size="7.5" fill="#262626">2020</text>
<polyline points="337.55,379.96 347.60,378.98 357.64,377.13 367.69,352.84 377.74,359.05 387.79,345.76 397.83,358.51 407.88,352.41 417.93,352.41 427.98,373.54 438.02,361.88 448.07,342.93 458.12,353.50 468.17,356.44 478.21,370.16 488.26,374.52 498.31,366.57 508.36,361.45 518.40,365.15 528.45,341.95" fill="none" stroke="#ffa8a8" stroke-width="0.8"/>
<polyline points="337.55,426.47 347.60,417.21 357.64,417.21 367.69,391.07 377.74,391.07 387.79,387.70 397.83,389.00 407.88,381.60 417.93,398.15 427.98,417.00 438.02,386.61 448.07,358.94 458.12,380.62 468.17,385.08 478.21,408.17 488.26,410.79 498.31,398.70 508.36,391.29 518.40,401.75 528.45,378.98" fill="none" stroke="#a8a8ff" stroke-width="0.8"/>
<polyline points="337.55,376.59 347.60,366.13 357.64,379.64 367.69,349.47 377.74,362.54 387.79,337.92 397.83,335.74 407.88,344.02 417.93,339.99 427.98,376.15 438.02,356.87 448.07,337.38 458.12,335.31 468.17,354.04 478.21,365.48 488.26,361.45 498.31,373.54 508.36,347.40 518.40,364.93 528.45,343.80" fill="none" stroke="#9fcf9f" stroke-width="0.8"/>
<rect x="335.60" y="378.01" width="3.9" height="3.9" fill="#ff0000"/>
<rect x="345.65" y="377.03" width="3.9" height="3.9" fill="#ff0000"/>
<rect x="355.69" y="375.18" width="3.9" height="3.9" fill="#ff0000"/>
<rect x="365.74" y="350.89" width="3.9" height="3.9" fill="#ff0000"/>
<rect x="375.79" y="357.10" width="3.9" height="3.9" fill="#ff0000"/>
<rect x="385.84" y="343.81" width="3.9" height="3.9" fill="#ff0000"/>
<rect x="395.88" y="356.56" width="3.9" height="3.9" fill="#ff0000"/>
<rect x="405.93" y="350.46" width="3.9" height="3.9" fill="#ff0000"/>
<rect x="415.98" y="350.46" width="3.9" height="3.9" fill="#ff0000"/>
<rect x="426.03" y="371.59" width="3.9" height="3.9" fill="#ff0000"/>
<rect x="436.07" y="359.93" width="3.9" height="3.9" fill="#ff0000"/>
<rect x="446.12" y="340.98" width="3.9" height="3.9" fill="#ff0000"/>
<rect x="456.17" y="351.55" width="3.9" height="3.9" fill="#ff0000"/>
<rect x="466.22" y="354.49" width="3.9" height="3.9" fill="#ff0000"/>
<rect x="476.26" y="368.21" width="3.9" height="3.9" fill="#ff0000"/>
<rect x="486.31" y="372.57" width="3.9" height="3.9" fill="#ff0000"/>
<rect x="496.36" y="364.62" width="3.9" height="3.9" fill="#ff0000"/>
<rect x="506.41" y="359.50" width="3.9" height="3.9" fill="#ff0000"/>
<rect x="516.45" y="363.20" width="3.9" height="3.9" fill="#ff0000"/>
<rect x="526.50" y="340.00" width="3.9" height="3.9" fill="#ff0000"/>
<circle cx="337.55" cy="426.47" r="2.15" fill="#0000ff"/>
<circle cx="347.60" cy="417.21" r="2.15" fill="#0000ff"/>
<circle cx="357.64" cy="417.21" r="2.15" fill="#0000ff"/>
<circle cx="367.69" cy="391.07" r="2.15" fill="#0000ff"/>
<circle cx="377.74" cy="391.07" r="2.15" fill="#0000ff"/>
<circle cx="387.79" cy="387.70" r="2.15" fill="#0000ff"/>
<circle cx="397.83" cy="389.00" r="2.15" fill="#0000ff"/>
<circle cx="407.88" cy="381.60" r="2.15" fill="#0000ff"/>
<circle cx="417.93" cy="398.15" r="2.15" fill="#0000ff"/>
<circle cx="427.98" cy="417.00" r="2.15" fill="#0000ff"/>
<circle cx="438.02" cy="386.61" r="2.15" fill="#0000ff"/>
<circle cx="448.07" cy="358.94" r="2.15" fill="#0000ff"/>
<circle cx="458.12" cy="380.62" r="2.15" fill="#0000ff"/>
<circle cx="468.17" cy="385.08" r="2.15" fill="#0000ff"/>
<circle cx="478.21" cy="408.17" r="2.15" fill="#0000ff"/>
<circle cx="488.26" cy="410.79" r="2.15" fill="#0000ff"/>
<circle cx="498.31" cy="398.70" r="2.15" fill="#0000ff"/>
<circle cx="508.36" cy="391.29" r="2.15" fill="#0000ff"/>
<circle cx="518.40" cy="401.75" r="2.15" fill="#0000ff"/>
<circle cx="528.45" cy="378.98" r="2.15" fill="#0000ff"/>
<path d="M337.55,374.09 L340.05,378.29 L335.05,378.29Z" fill="#008000"/>
<path d="M347.60,363.63 L350.10,367.83 L345.10,367.83Z" fill="#008000"/>
<path d="M357.64,377.14 L360.14,381.34 L355.14,381.34Z" fill="#008000"/>
<path d="M367.69,346.97 L370.19,351.17 L365.19,351.17Z" fill="#008000"/>
<path d="M377.74,360.04 L380.24,364.24 L375.24,364.24Z" fill="#008000"/>
<path d="M387.79,335.42 L390.29,339.62 L385.29,339.62Z" fill="#008000"/>
<path d="M397.83,333.24 L400.33,337.44 L395.33,337.44Z" fill="#008000"/>
<path d="M407.88,341.52 L410.38,345.72 L405.38,345.72Z" fill="#008000"/>
<path d="M417.93,337.49 L420.43,341.69 L415.43,341.69Z" fill="#008000"/>
<path d="M427.98,373.65 L430.48,377.85 L425.48,377.85Z" fill="#008000"/>
<path d="M438.02,354.37 L440.52,358.57 L435.52,358.57Z" fill="#008000"/>
<path d="M448.07,334.88 L450.57,339.08 L445.57,339.08Z" fill="#008000"/>
<path d="M458.12,332.81 L460.62,337.01 L455.62,337.01Z" fill="#008000"/>
<path d="M468.17,351.54 L470.67,355.74 L465.67,355.74Z" fill="#008000"/>
<path d="M478.21,362.98 L480.71,367.18 L475.71,367.18Z" fill="#008000"/>
<path d="M488.26,358.95 L490.76,363.15 L485.76,363.15Z" fill="#008000"/>
<path d="M498.31,371.04 L500.81,375.24 L495.81,375.24Z" fill="#008000"/>
<path d="M508.36,344.90 L510.86,349.10 L505.86,349.10Z" fill="#008000"/>
<path d="M518.40,362.43 L520.90,366.63 L515.90,366.63Z" fill="#008000"/>
<path d="M528.45,341.30 L530.95,345.50 L525.95,345.50Z" fill="#008000"/>
<line x1="401.30" y1="442.00" x2="423.20" y2="442.00" stroke="#ffa8a8" stroke-width="0.8"/>
<rect x="411.25" y="440.05" width="3.9" height="3.9" fill="#ff0000"/>
<text x="426.20" y="445.30" font-size="9.3" fill="#262626">NSTM</text>
<line x1="451.20" y1="442.00" x2="471.30" y2="442.00" stroke="#a8a8ff" stroke-width="0.8"/>
<circle cx="461.30" cy="442.00" r="2.15" fill="#0000ff"/>
<text x="474.20" y="445.30" font-size="9.3" fill="#262626">IRB</text>
<line x1="489.00" y1="442.00" x2="509.00" y2="442.00" stroke="#9fcf9f" stroke-width="0.8"/>
<path d="M499.00,439.50 L501.50,443.70 L496.50,443.70Z" fill="#008000"/>
<text x="512.20" y="445.30" font-size="9.3" fill="#262626">SSTM</text>
<text transform="translate(296.2,388.35) rotate(-90)" text-anchor="middle" font-size="9.7" fill="#262626">Solar Radiation</text>
<text transform="translate(308.6,388.35) rotate(-90)" text-anchor="middle" font-size="9.7" fill="#262626">(w/m²)</text>
<text x="282.0" y="339.60" font-size="19" fill="#262626">(f)</text>
<rect x="325.50" y="478.50" width="213.00" height="130.60" fill="none" stroke="#4d4d4d" stroke-width="1"/>
<line x1="325.50" y1="601.42" x2="328.70" y2="601.42" stroke="#4d4d4d" stroke-width="1.1"/>
<text x="322.20" y="604.02" text-anchor="end" font-size="7.5" fill="#262626">40</text>
<line x1="325.50" y1="586.05" x2="328.70" y2="586.05" stroke="#4d4d4d" stroke-width="1.1"/>
<text x="322.20" y="588.65" text-anchor="end" font-size="7.5" fill="#262626">60</text>
<line x1="325.50" y1="570.69" x2="328.70" y2="570.69" stroke="#4d4d4d" stroke-width="1.1"/>
<text x="322.20" y="573.29" text-anchor="end" font-size="7.5" fill="#262626">80</text>
<line x1="325.50" y1="555.32" x2="328.70" y2="555.32" stroke="#4d4d4d" stroke-width="1.1"/>
<text x="322.20" y="557.92" text-anchor="end" font-size="7.5" fill="#262626">100</text>
<line x1="325.50" y1="539.96" x2="328.70" y2="539.96" stroke="#4d4d4d" stroke-width="1.1"/>
<text x="322.20" y="542.56" text-anchor="end" font-size="7.5" fill="#262626">120</text>
<line x1="325.50" y1="524.59" x2="328.70" y2="524.59" stroke="#4d4d4d" stroke-width="1.1"/>
<text x="322.20" y="527.19" text-anchor="end" font-size="7.5" fill="#262626">140</text>
<line x1="325.50" y1="509.23" x2="328.70" y2="509.23" stroke="#4d4d4d" stroke-width="1.1"/>
<text x="322.20" y="511.83" text-anchor="end" font-size="7.5" fill="#262626">160</text>
<line x1="325.50" y1="493.86" x2="328.70" y2="493.86" stroke="#4d4d4d" stroke-width="1.1"/>
<text x="322.20" y="496.46" text-anchor="end" font-size="7.5" fill="#262626">180</text>
<line x1="325.50" y1="478.50" x2="328.70" y2="478.50" stroke="#4d4d4d" stroke-width="1.1"/>
<text x="322.20" y="481.10" text-anchor="end" font-size="7.5" fill="#262626">200</text>
<line x1="325.50" y1="609.10" x2="325.50" y2="611.30" stroke="#4d4d4d" stroke-width="0.8"/>
<line x1="335.64" y1="609.10" x2="335.64" y2="611.30" stroke="#4d4d4d" stroke-width="0.8"/>
<line x1="345.79" y1="609.10" x2="345.79" y2="611.30" stroke="#4d4d4d" stroke-width="0.8"/>
<line x1="355.93" y1="609.10" x2="355.93" y2="611.30" stroke="#4d4d4d" stroke-width="0.8"/>
<line x1="366.07" y1="609.10" x2="366.07" y2="611.30" stroke="#4d4d4d" stroke-width="0.8"/>
<line x1="376.21" y1="609.10" x2="376.21" y2="611.30" stroke="#4d4d4d" stroke-width="0.8"/>
<line x1="386.36" y1="609.10" x2="386.36" y2="611.30" stroke="#4d4d4d" stroke-width="0.8"/>
<line x1="396.50" y1="609.10" x2="396.50" y2="611.30" stroke="#4d4d4d" stroke-width="0.8"/>
<line x1="406.64" y1="609.10" x2="406.64" y2="611.30" stroke="#4d4d4d" stroke-width="0.8"/>
<line x1="416.79" y1="609.10" x2="416.79" y2="611.30" stroke="#4d4d4d" stroke-width="0.8"/>
<line x1="426.93" y1="609.10" x2="426.93" y2="611.30" stroke="#4d4d4d" stroke-width="0.8"/>
<line x1="437.07" y1="609.10" x2="437.07" y2="611.30" stroke="#4d4d4d" stroke-width="0.8"/>
<line x1="447.21" y1="609.10" x2="447.21" y2="611.30" stroke="#4d4d4d" stroke-width="0.8"/>
<line x1="457.36" y1="609.10" x2="457.36" y2="611.30" stroke="#4d4d4d" stroke-width="0.8"/>
<line x1="467.50" y1="609.10" x2="467.50" y2="611.30" stroke="#4d4d4d" stroke-width="0.8"/>
<line x1="477.64" y1="609.10" x2="477.64" y2="611.30" stroke="#4d4d4d" stroke-width="0.8"/>
<line x1="487.79" y1="609.10" x2="487.79" y2="611.30" stroke="#4d4d4d" stroke-width="0.8"/>
<line x1="497.93" y1="609.10" x2="497.93" y2="611.30" stroke="#4d4d4d" stroke-width="0.8"/>
<line x1="508.07" y1="609.10" x2="508.07" y2="611.30" stroke="#4d4d4d" stroke-width="0.8"/>
<line x1="518.21" y1="609.10" x2="518.21" y2="611.30" stroke="#4d4d4d" stroke-width="0.8"/>
<line x1="528.36" y1="609.10" x2="528.36" y2="611.30" stroke="#4d4d4d" stroke-width="0.8"/>
<line x1="538.50" y1="609.10" x2="538.50" y2="611.30" stroke="#4d4d4d" stroke-width="0.8"/>
<text x="325.50" y="619.80" text-anchor="middle" font-size="7.5" fill="#262626">2000</text>
<text x="345.79" y="619.80" text-anchor="middle" font-size="7.5" fill="#262626">2002</text>
<text x="366.07" y="619.80" text-anchor="middle" font-size="7.5" fill="#262626">2004</text>
<text x="386.36" y="619.80" text-anchor="middle" font-size="7.5" fill="#262626">2006</text>
<text x="406.64" y="619.80" text-anchor="middle" font-size="7.5" fill="#262626">2008</text>
<text x="426.93" y="619.80" text-anchor="middle" font-size="7.5" fill="#262626">2010</text>
<text x="447.21" y="619.80" text-anchor="middle" font-size="7.5" fill="#262626">2012</text>
<text x="467.50" y="619.80" text-anchor="middle" font-size="7.5" fill="#262626">2014</text>
<text x="487.79" y="619.80" text-anchor="middle" font-size="7.5" fill="#262626">2016</text>
<text x="508.07" y="619.80" text-anchor="middle" font-size="7.5" fill="#262626">2018</text>
<text x="528.36" y="619.80" text-anchor="middle" font-size="7.5" fill="#262626">2020</text>
<polyline points="335.64,577.30 345.79,573.91 355.93,583.90 366.07,567.92 376.21,569.54 386.36,573.30 396.50,574.91 406.64,575.91 416.79,573.30 426.93,571.30 437.07,569.54 447.21,566.39 457.36,564.54 467.50,563.01 477.64,561.55 487.79,561.55 497.93,578.91 508.07,577.91 518.21,577.91 528.36,575.30" fill="none" stroke="#ffa8a8" stroke-width="0.8"/>
<polyline points="335.64,523.75 345.79,523.36 355.93,545.03 366.07,521.52 376.21,518.14 386.36,517.14 396.50,513.61 406.64,519.14 416.79,514.15 426.93,508.23 437.07,504.62 447.21,502.24 457.36,499.63 467.50,497.86 477.64,499.01 487.79,500.63 497.93,519.14 508.07,532.66 518.21,528.74 528.36,512.61" fill="none" stroke="#a8a8ff" stroke-width="0.8"/>
<polyline points="335.64,558.01 345.79,555.02 355.93,565.39 366.07,547.03 376.21,542.03 386.36,548.41 396.50,551.02 406.64,559.01 416.79,561.39 426.93,563.01 437.07,564.39 447.21,563.54 457.36,560.01 467.50,555.02 477.64,550.41 487.79,546.41 497.93,545.03 508.07,545.03 518.21,542.42 528.36,535.66" fill="none" stroke="#9fcf9f" stroke-width="0.8"/>
<rect x="333.69" y="575.35" width="3.9" height="3.9" fill="#ff0000"/>
<rect x="343.84" y="571.96" width="3.9" height="3.9" fill="#ff0000"/>
<rect x="353.98" y="581.95" width="3.9" height="3.9" fill="#ff0000"/>
<rect x="364.12" y="565.97" width="3.9" height="3.9" fill="#ff0000"/>
<rect x="374.26" y="567.59" width="3.9" height="3.9" fill="#ff0000"/>
<rect x="384.41" y="571.35" width="3.9" height="3.9" fill="#ff0000"/>
<rect x="394.55" y="572.96" width="3.9" height="3.9" fill="#ff0000"/>
<rect x="404.69" y="573.96" width="3.9" height="3.9" fill="#ff0000"/>
<rect x="414.84" y="571.35" width="3.9" height="3.9" fill="#ff0000"/>
<rect x="424.98" y="569.35" width="3.9" height="3.9" fill="#ff0000"/>
<rect x="435.12" y="567.59" width="3.9" height="3.9" fill="#ff0000"/>
<rect x="445.26" y="564.44" width="3.9" height="3.9" fill="#ff0000"/>
<rect x="455.41" y="562.59" width="3.9" height="3.9" fill="#ff0000"/>
<rect x="465.55" y="561.06" width="3.9" height="3.9" fill="#ff0000"/>
<rect x="475.69" y="559.60" width="3.9" height="3.9" fill="#ff0000"/>
<rect x="485.84" y="559.60" width="3.9" height="3.9" fill="#ff0000"/>
<rect x="495.98" y="576.96" width="3.9" height="3.9" fill="#ff0000"/>
<rect x="506.12" y="575.96" width="3.9" height="3.9" fill="#ff0000"/>
<rect x="516.26" y="575.96" width="3.9" height="3.9" fill="#ff0000"/>
<rect x="526.41" y="573.35" width="3.9" height="3.9" fill="#ff0000"/>
<circle cx="335.64" cy="523.75" r="2.15" fill="#0000ff"/>
<circle cx="345.79" cy="523.36" r="2.15" fill="#0000ff"/>
<circle cx="355.93" cy="545.03" r="2.15" fill="#0000ff"/>
<circle cx="366.07" cy="521.52" r="2.15" fill="#0000ff"/>
<circle cx="376.21" cy="518.14" r="2.15" fill="#0000ff"/>
<circle cx="386.36" cy="517.14" r="2.15" fill="#0000ff"/>
<circle cx="396.50" cy="513.61" r="2.15" fill="#0000ff"/>
<circle cx="406.64" cy="519.14" r="2.15" fill="#0000ff"/>
<circle cx="416.79" cy="514.15" r="2.15" fill="#0000ff"/>
<circle cx="426.93" cy="508.23" r="2.15" fill="#0000ff"/>
<circle cx="437.07" cy="504.62" r="2.15" fill="#0000ff"/>
<circle cx="447.21" cy="502.24" r="2.15" fill="#0000ff"/>
<circle cx="457.36" cy="499.63" r="2.15" fill="#0000ff"/>
<circle cx="467.50" cy="497.86" r="2.15" fill="#0000ff"/>
<circle cx="477.64" cy="499.01" r="2.15" fill="#0000ff"/>
<circle cx="487.79" cy="500.63" r="2.15" fill="#0000ff"/>
<circle cx="497.93" cy="519.14" r="2.15" fill="#0000ff"/>
<circle cx="508.07" cy="532.66" r="2.15" fill="#0000ff"/>
<circle cx="518.21" cy="528.74" r="2.15" fill="#0000ff"/>
<circle cx="528.36" cy="512.61" r="2.15" fill="#0000ff"/>
<path d="M335.64,555.51 L338.14,559.71 L333.14,559.71Z" fill="#008000"/>
<path d="M345.79,552.52 L348.29,556.72 L343.29,556.72Z" fill="#008000"/>
<path d="M355.93,562.89 L358.43,567.09 L353.43,567.09Z" fill="#008000"/>
<path d="M366.07,544.53 L368.57,548.73 L363.57,548.73Z" fill="#008000"/>
<path d="M376.21,539.53 L378.71,543.73 L373.71,543.73Z" fill="#008000"/>
<path d="M386.36,545.91 L388.86,550.11 L383.86,550.11Z" fill="#008000"/>
<path d="M396.50,548.52 L399.00,552.72 L394.00,552.72Z" fill="#008000"/>
<path d="M406.64,556.51 L409.14,560.71 L404.14,560.71Z" fill="#008000"/>
<path d="M416.79,558.89 L419.29,563.09 L414.29,563.09Z" fill="#008000"/>
<path d="M426.93,560.51 L429.43,564.71 L424.43,564.71Z" fill="#008000"/>
<path d="M437.07,561.89 L439.57,566.09 L434.57,566.09Z" fill="#008000"/>
<path d="M447.21,561.04 L449.71,565.24 L444.71,565.24Z" fill="#008000"/>
<path d="M457.36,557.51 L459.86,561.71 L454.86,561.71Z" fill="#008000"/>
<path d="M467.50,552.52 L470.00,556.72 L465.00,556.72Z" fill="#008000"/>
<path d="M477.64,547.91 L480.14,552.11 L475.14,552.11Z" fill="#008000"/>
<path d="M487.79,543.91 L490.29,548.11 L485.29,548.11Z" fill="#008000"/>
<path d="M497.93,542.53 L500.43,546.73 L495.43,546.73Z" fill="#008000"/>
<path d="M508.07,542.53 L510.57,546.73 L505.57,546.73Z" fill="#008000"/>
<path d="M518.21,539.92 L520.71,544.12 L515.71,544.12Z" fill="#008000"/>
<path d="M528.36,533.16 L530.86,537.36 L525.86,537.36Z" fill="#008000"/>
<line x1="400.80" y1="598.00" x2="422.70" y2="598.00" stroke="#ffa8a8" stroke-width="0.8"/>
<rect x="410.75" y="596.05" width="3.9" height="3.9" fill="#ff0000"/>
<text x="425.70" y="601.30" font-size="9.3" fill="#262626">NSTM</text>
<line x1="450.70" y1="598.00" x2="470.80" y2="598.00" stroke="#a8a8ff" stroke-width="0.8"/>
<circle cx="460.80" cy="598.00" r="2.15" fill="#0000ff"/>
<text x="473.70" y="601.30" font-size="9.3" fill="#262626">IRB</text>
<line x1="488.50" y1="598.00" x2="508.50" y2="598.00" stroke="#9fcf9f" stroke-width="0.8"/>
<path d="M498.50,595.50 L501.00,599.70 L496.00,599.70Z" fill="#008000"/>
<text x="511.70" y="601.30" font-size="9.3" fill="#262626">SSTM</text>
<text transform="translate(296.2,543.80) rotate(-90)" text-anchor="middle" font-size="9.7" fill="#262626">the Number of Livestock</text>
<text transform="translate(308.6,543.80) rotate(-90)" text-anchor="middle" font-size="9.7" fill="#262626">(Ten thousand heads)</text>
<text x="282.0" y="493.60" font-size="19" fill="#262626">(h)</text>
<rect x="329.00" y="631.00" width="209.50" height="128.70" fill="none" stroke="#4d4d4d" stroke-width="1"/>
<line x1="329.00" y1="742.62" x2="332.20" y2="742.62" stroke="#4d4d4d" stroke-width="1.1"/>
<text x="325.70" y="745.22" text-anchor="end" font-size="7.5" fill="#262626">0.00</text>
<line x1="329.00" y1="714.72" x2="332.20" y2="714.72" stroke="#4d4d4d" stroke-width="1.1"/>
<text x="325.70" y="717.32" text-anchor="end" font-size="7.5" fill="#262626">0.05</text>
<line x1="329.00" y1="686.81" x2="332.20" y2="686.81" stroke="#4d4d4d" stroke-width="1.1"/>
<text x="325.70" y="689.41" text-anchor="end" font-size="7.5" fill="#262626">0.10</text>
<line x1="329.00" y1="658.91" x2="332.20" y2="658.91" stroke="#4d4d4d" stroke-width="1.1"/>
<text x="325.70" y="661.51" text-anchor="end" font-size="7.5" fill="#262626">0.15</text>
<line x1="329.00" y1="631.00" x2="332.20" y2="631.00" stroke="#4d4d4d" stroke-width="1.1"/>
<text x="325.70" y="633.60" text-anchor="end" font-size="7.5" fill="#262626">0.20</text>
<line x1="329.00" y1="759.70" x2="329.00" y2="761.90" stroke="#4d4d4d" stroke-width="0.8"/>
<line x1="338.98" y1="759.70" x2="338.98" y2="761.90" stroke="#4d4d4d" stroke-width="0.8"/>
<line x1="348.95" y1="759.70" x2="348.95" y2="761.90" stroke="#4d4d4d" stroke-width="0.8"/>
<line x1="358.93" y1="759.70" x2="358.93" y2="761.90" stroke="#4d4d4d" stroke-width="0.8"/>
<line x1="368.90" y1="759.70" x2="368.90" y2="761.90" stroke="#4d4d4d" stroke-width="0.8"/>
<line x1="378.88" y1="759.70" x2="378.88" y2="761.90" stroke="#4d4d4d" stroke-width="0.8"/>
<line x1="388.86" y1="759.70" x2="388.86" y2="761.90" stroke="#4d4d4d" stroke-width="0.8"/>
<line x1="398.83" y1="759.70" x2="398.83" y2="761.90" stroke="#4d4d4d" stroke-width="0.8"/>
<line x1="408.81" y1="759.70" x2="408.81" y2="761.90" stroke="#4d4d4d" stroke-width="0.8"/>
<line x1="418.79" y1="759.70" x2="418.79" y2="761.90" stroke="#4d4d4d" stroke-width="0.8"/>
<line x1="428.76" y1="759.70" x2="428.76" y2="761.90" stroke="#4d4d4d" stroke-width="0.8"/>
<line x1="438.74" y1="759.70" x2="438.74" y2="761.90" stroke="#4d4d4d" stroke-width="0.8"/>
<line x1="448.71" y1="759.70" x2="448.71" y2="761.90" stroke="#4d4d4d" stroke-width="0.8"/>
<line x1="458.69" y1="759.70" x2="458.69" y2="761.90" stroke="#4d4d4d" stroke-width="0.8"/>
<line x1="468.67" y1="759.70" x2="468.67" y2="761.90" stroke="#4d4d4d" stroke-width="0.8"/>
<line x1="478.64" y1="759.70" x2="478.64" y2="761.90" stroke="#4d4d4d" stroke-width="0.8"/>
<line x1="488.62" y1="759.70" x2="488.62" y2="761.90" stroke="#4d4d4d" stroke-width="0.8"/>
<line x1="498.60" y1="759.70" x2="498.60" y2="761.90" stroke="#4d4d4d" stroke-width="0.8"/>
<line x1="508.57" y1="759.70" x2="508.57" y2="761.90" stroke="#4d4d4d" stroke-width="0.8"/>
<line x1="518.55" y1="759.70" x2="518.55" y2="761.90" stroke="#4d4d4d" stroke-width="0.8"/>
<line x1="528.52" y1="759.70" x2="528.52" y2="761.90" stroke="#4d4d4d" stroke-width="0.8"/>
<line x1="538.50" y1="759.70" x2="538.50" y2="761.90" stroke="#4d4d4d" stroke-width="0.8"/>
<text x="329.00" y="770.40" text-anchor="middle" font-size="7.5" fill="#262626">2000</text>
<text x="348.95" y="770.40" text-anchor="middle" font-size="7.5" fill="#262626">2002</text>
<text x="368.90" y="770.40" text-anchor="middle" font-size="7.5" fill="#262626">2004</text>
<text x="388.86" y="770.40" text-anchor="middle" font-size="7.5" fill="#262626">2006</text>
<text x="408.81" y="770.40" text-anchor="middle" font-size="7.5" fill="#262626">2008</text>
<text x="428.76" y="770.40" text-anchor="middle" font-size="7.5" fill="#262626">2010</text>
<text x="448.71" y="770.40" text-anchor="middle" font-size="7.5" fill="#262626">2012</text>
<text x="468.67" y="770.40" text-anchor="middle" font-size="7.5" fill="#262626">2014</text>
<text x="488.62" y="770.40" text-anchor="middle" font-size="7.5" fill="#262626">2016</text>
<text x="508.57" y="770.40" text-anchor="middle" font-size="7.5" fill="#262626">2018</text>
<text x="528.52" y="770.40" text-anchor="middle" font-size="7.5" fill="#262626">2020</text>
<polyline points="338.98,730.46 348.95,726.10 358.93,728.67 368.90,725.49 378.88,729.45 388.86,728.67 398.83,722.70 408.81,720.07 418.79,698.59 428.76,713.10 438.74,692.62 448.71,674.25 458.69,688.21 468.67,671.69 478.64,680.23 488.62,669.29 498.60,658.35 508.57,647.74 518.55,635.41 528.52,643.33" fill="none" stroke="#ffa8a8" stroke-width="0.8"/>
<polyline points="338.98,742.06 348.95,741.45 358.93,741.00 368.90,740.22 378.88,741.00 388.86,741.45 398.83,740.45 408.81,740.61 418.79,738.05 428.76,736.65 438.74,733.64 448.71,735.03 458.69,729.67 468.67,727.50 478.64,724.09 488.62,720.07 498.60,718.68 508.57,717.73 518.55,718.29 528.52,720.07" fill="none" stroke="#a8a8ff" stroke-width="0.8"/>
<polyline points="338.98,738.44 348.95,735.65 358.93,737.04 368.90,732.46 378.88,733.64 388.86,733.64 398.83,732.46 408.81,734.03 418.79,731.07 428.76,728.11 438.74,726.10 448.71,727.05 458.69,722.70 468.67,720.07 478.64,719.52 488.62,718.68 498.60,709.14 508.57,699.76 518.55,698.20 528.52,700.15" fill="none" stroke="#9fcf9f" stroke-width="0.8"/>
<rect x="337.03" y="728.51" width="3.9" height="3.9" fill="#ff0000"/>
<rect x="347.00" y="724.15" width="3.9" height="3.9" fill="#ff0000"/>
<rect x="356.98" y="726.72" width="3.9" height="3.9" fill="#ff0000"/>
<rect x="366.95" y="723.54" width="3.9" height="3.9" fill="#ff0000"/>
<rect x="376.93" y="727.50" width="3.9" height="3.9" fill="#ff0000"/>
<rect x="386.91" y="726.72" width="3.9" height="3.9" fill="#ff0000"/>
<rect x="396.88" y="720.75" width="3.9" height="3.9" fill="#ff0000"/>
<rect x="406.86" y="718.12" width="3.9" height="3.9" fill="#ff0000"/>
<rect x="416.84" y="696.64" width="3.9" height="3.9" fill="#ff0000"/>
<rect x="426.81" y="711.15" width="3.9" height="3.9" fill="#ff0000"/>
<rect x="436.79" y="690.67" width="3.9" height="3.9" fill="#ff0000"/>
<rect x="446.76" y="672.30" width="3.9" height="3.9" fill="#ff0000"/>
<rect x="456.74" y="686.26" width="3.9" height="3.9" fill="#ff0000"/>
<rect x="466.72" y="669.74" width="3.9" height="3.9" fill="#ff0000"/>
<rect x="476.69" y="678.28" width="3.9" height="3.9" fill="#ff0000"/>
<rect x="486.67" y="667.34" width="3.9" height="3.9" fill="#ff0000"/>
<rect x="496.65" y="656.40" width="3.9" height="3.9" fill="#ff0000"/>
<rect x="506.62" y="645.79" width="3.9" height="3.9" fill="#ff0000"/>
<rect x="516.60" y="633.46" width="3.9" height="3.9" fill="#ff0000"/>
<rect x="526.57" y="641.38" width="3.9" height="3.9" fill="#ff0000"/>
<circle cx="338.98" cy="742.06" r="2.15" fill="#0000ff"/>
<circle cx="348.95" cy="741.45" r="2.15" fill="#0000ff"/>
<circle cx="358.93" cy="741.00" r="2.15" fill="#0000ff"/>
<circle cx="368.90" cy="740.22" r="2.15" fill="#0000ff"/>
<circle cx="378.88" cy="741.00" r="2.15" fill="#0000ff"/>
<circle cx="388.86" cy="741.45" r="2.15" fill="#0000ff"/>
<circle cx="398.83" cy="740.45" r="2.15" fill="#0000ff"/>
<circle cx="408.81" cy="740.61" r="2.15" fill="#0000ff"/>
<circle cx="418.79" cy="738.05" r="2.15" fill="#0000ff"/>
<circle cx="428.76" cy="736.65" r="2.15" fill="#0000ff"/>
<circle cx="438.74" cy="733.64" r="2.15" fill="#0000ff"/>
<circle cx="448.71" cy="735.03" r="2.15" fill="#0000ff"/>
<circle cx="458.69" cy="729.67" r="2.15" fill="#0000ff"/>
<circle cx="468.67" cy="727.50" r="2.15" fill="#0000ff"/>
<circle cx="478.64" cy="724.09" r="2.15" fill="#0000ff"/>
<circle cx="488.62" cy="720.07" r="2.15" fill="#0000ff"/>
<circle cx="498.60" cy="718.68" r="2.15" fill="#0000ff"/>
<circle cx="508.57" cy="717.73" r="2.15" fill="#0000ff"/>
<circle cx="518.55" cy="718.29" r="2.15" fill="#0000ff"/>
<circle cx="528.52" cy="720.07" r="2.15" fill="#0000ff"/>
<path d="M338.98,735.94 L341.48,740.14 L336.48,740.14Z" fill="#008000"/>
<path d="M348.95,733.15 L351.45,737.35 L346.45,737.35Z" fill="#008000"/>
<path d="M358.93,734.54 L361.43,738.74 L356.43,738.74Z" fill="#008000"/>
<path d="M368.90,729.96 L371.40,734.16 L366.40,734.16Z" fill="#008000"/>
<path d="M378.88,731.14 L381.38,735.34 L376.38,735.34Z" fill="#008000"/>
<path d="M388.86,731.14 L391.36,735.34 L386.36,735.34Z" fill="#008000"/>
<path d="M398.83,729.96 L401.33,734.16 L396.33,734.16Z" fill="#008000"/>
<path d="M408.81,731.53 L411.31,735.73 L406.31,735.73Z" fill="#008000"/>
<path d="M418.79,728.57 L421.29,732.77 L416.29,732.77Z" fill="#008000"/>
<path d="M428.76,725.61 L431.26,729.81 L426.26,729.81Z" fill="#008000"/>
<path d="M438.74,723.60 L441.24,727.80 L436.24,727.80Z" fill="#008000"/>
<path d="M448.71,724.55 L451.21,728.75 L446.21,728.75Z" fill="#008000"/>
<path d="M458.69,720.20 L461.19,724.40 L456.19,724.40Z" fill="#008000"/>
<path d="M468.67,717.57 L471.17,721.77 L466.17,721.77Z" fill="#008000"/>
<path d="M478.64,717.02 L481.14,721.22 L476.14,721.22Z" fill="#008000"/>
<path d="M488.62,716.18 L491.12,720.38 L486.12,720.38Z" fill="#008000"/>
<path d="M498.60,706.64 L501.10,710.84 L496.10,710.84Z" fill="#008000"/>
<path d="M508.57,697.26 L511.07,701.46 L506.07,701.46Z" fill="#008000"/>
<path d="M518.55,695.70 L521.05,699.90 L516.05,699.90Z" fill="#008000"/>
<path d="M528.52,697.65 L531.02,701.85 L526.02,701.85Z" fill="#008000"/>
<line x1="403.30" y1="749.40" x2="425.20" y2="749.40" stroke="#ffa8a8" stroke-width="0.8"/>
<rect x="413.25" y="747.45" width="3.9" height="3.9" fill="#ff0000"/>
<text x="428.20" y="752.70" font-size="9.3" fill="#262626">NSTM</text>
<line x1="453.20" y1="749.40" x2="473.30" y2="749.40" stroke="#a8a8ff" stroke-width="0.8"/>
<circle cx="463.30" cy="749.40" r="2.15" fill="#0000ff"/>
<text x="476.20" y="752.70" font-size="9.3" fill="#262626">IRB</text>
<line x1="491.00" y1="749.40" x2="511.00" y2="749.40" stroke="#9fcf9f" stroke-width="0.8"/>
<path d="M501.00,746.90 L503.50,751.10 L498.50,751.10Z" fill="#008000"/>
<text x="514.20" y="752.70" font-size="9.3" fill="#262626">SSTM</text>
<text transform="translate(296.2,695.35) rotate(-90)" text-anchor="middle" font-size="9.7" fill="#262626">Nighttime Light</text>
<text transform="translate(309.4,695.35) rotate(-90)" text-anchor="middle" font-size="9.7" fill="#262626">(nWcm<tspan font-size="6.2" dy="-3.8"> −2</tspan><tspan dy="3.8"> </tspan>sr<tspan font-size="6.2" dy="-3.8">−1</tspan><tspan dy="3.8">)</tspan></text>
<text x="282.0" y="649.10" font-size="19" fill="#262626">(j)</text>
<rect x="328.50" y="782.60" width="210.00" height="129.80" fill="none" stroke="#4d4d4d" stroke-width="1"/>
<line x1="328.50" y1="897.98" x2="331.70" y2="897.98" stroke="#4d4d4d" stroke-width="1.1"/>
<text x="325.20" y="900.58" text-anchor="end" font-size="7.5" fill="#262626">0.06</text>
<line x1="328.50" y1="869.13" x2="331.70" y2="869.13" stroke="#4d4d4d" stroke-width="1.1"/>
<text x="325.20" y="871.73" text-anchor="end" font-size="7.5" fill="#262626">0.08</text>
<line x1="328.50" y1="840.29" x2="331.70" y2="840.29" stroke="#4d4d4d" stroke-width="1.1"/>
<text x="325.20" y="842.89" text-anchor="end" font-size="7.5" fill="#262626">0.10</text>
<line x1="328.50" y1="811.44" x2="331.70" y2="811.44" stroke="#4d4d4d" stroke-width="1.1"/>
<text x="325.20" y="814.04" text-anchor="end" font-size="7.5" fill="#262626">0.12</text>
<line x1="328.50" y1="782.60" x2="331.70" y2="782.60" stroke="#4d4d4d" stroke-width="1.1"/>
<text x="325.20" y="785.20" text-anchor="end" font-size="7.5" fill="#262626">0.14</text>
<line x1="328.50" y1="912.40" x2="328.50" y2="914.60" stroke="#4d4d4d" stroke-width="0.8"/>
<line x1="338.50" y1="912.40" x2="338.50" y2="914.60" stroke="#4d4d4d" stroke-width="0.8"/>
<line x1="348.50" y1="912.40" x2="348.50" y2="914.60" stroke="#4d4d4d" stroke-width="0.8"/>
<line x1="358.50" y1="912.40" x2="358.50" y2="914.60" stroke="#4d4d4d" stroke-width="0.8"/>
<line x1="368.50" y1="912.40" x2="368.50" y2="914.60" stroke="#4d4d4d" stroke-width="0.8"/>
<line x1="378.50" y1="912.40" x2="378.50" y2="914.60" stroke="#4d4d4d" stroke-width="0.8"/>
<line x1="388.50" y1="912.40" x2="388.50" y2="914.60" stroke="#4d4d4d" stroke-width="0.8"/>
<line x1="398.50" y1="912.40" x2="398.50" y2="914.60" stroke="#4d4d4d" stroke-width="0.8"/>
<line x1="408.50" y1="912.40" x2="408.50" y2="914.60" stroke="#4d4d4d" stroke-width="0.8"/>
<line x1="418.50" y1="912.40" x2="418.50" y2="914.60" stroke="#4d4d4d" stroke-width="0.8"/>
<line x1="428.50" y1="912.40" x2="428.50" y2="914.60" stroke="#4d4d4d" stroke-width="0.8"/>
<line x1="438.50" y1="912.40" x2="438.50" y2="914.60" stroke="#4d4d4d" stroke-width="0.8"/>
<line x1="448.50" y1="912.40" x2="448.50" y2="914.60" stroke="#4d4d4d" stroke-width="0.8"/>
<line x1="458.50" y1="912.40" x2="458.50" y2="914.60" stroke="#4d4d4d" stroke-width="0.8"/>
<line x1="468.50" y1="912.40" x2="468.50" y2="914.60" stroke="#4d4d4d" stroke-width="0.8"/>
<line x1="478.50" y1="912.40" x2="478.50" y2="914.60" stroke="#4d4d4d" stroke-width="0.8"/>
<line x1="488.50" y1="912.40" x2="488.50" y2="914.60" stroke="#4d4d4d" stroke-width="0.8"/>
<line x1="498.50" y1="912.40" x2="498.50" y2="914.60" stroke="#4d4d4d" stroke-width="0.8"/>
<line x1="508.50" y1="912.40" x2="508.50" y2="914.60" stroke="#4d4d4d" stroke-width="0.8"/>
<line x1="518.50" y1="912.40" x2="518.50" y2="914.60" stroke="#4d4d4d" stroke-width="0.8"/>
<line x1="528.50" y1="912.40" x2="528.50" y2="914.60" stroke="#4d4d4d" stroke-width="0.8"/>
<line x1="538.50" y1="912.40" x2="538.50" y2="914.60" stroke="#4d4d4d" stroke-width="0.8"/>
<text x="328.50" y="923.10" text-anchor="middle" font-size="7.5" fill="#262626">2000</text>
<text x="348.50" y="923.10" text-anchor="middle" font-size="7.5" fill="#262626">2002</text>
<text x="368.50" y="923.10" text-anchor="middle" font-size="7.5" fill="#262626">2004</text>
<text x="388.50" y="923.10" text-anchor="middle" font-size="7.5" fill="#262626">2006</text>
<text x="408.50" y="923.10" text-anchor="middle" font-size="7.5" fill="#262626">2008</text>
<text x="428.50" y="923.10" text-anchor="middle" font-size="7.5" fill="#262626">2010</text>
<text x="448.50" y="923.10" text-anchor="middle" font-size="7.5" fill="#262626">2012</text>
<text x="468.50" y="923.10" text-anchor="middle" font-size="7.5" fill="#262626">2014</text>
<text x="488.50" y="923.10" text-anchor="middle" font-size="7.5" fill="#262626">2016</text>
<text x="508.50" y="923.10" text-anchor="middle" font-size="7.5" fill="#262626">2018</text>
<text x="528.50" y="923.10" text-anchor="middle" font-size="7.5" fill="#262626">2020</text>
<polyline points="338.50,840.87 348.50,841.88 358.50,839.28 368.50,836.68 378.50,833.80 388.50,832.65 398.50,831.78 408.50,827.16 418.50,823.85 428.50,823.13 438.50,820.53 448.50,817.50 458.50,813.46 468.50,811.44 478.50,808.13 488.50,804.09 498.50,800.48 508.50,795.58 518.50,791.54 528.50,787.50" fill="none" stroke="#ffa8a8" stroke-width="0.8"/>
<polyline points="338.50,834.66 348.50,837.84 358.50,839.86 368.50,838.85 378.50,836.25 388.50,839.28 398.50,841.88 408.50,837.84 418.50,840.72 428.50,846.78 438.50,843.89 448.50,841.30 458.50,843.32 468.50,842.31 478.50,841.88 488.50,841.88 498.50,840.29 508.50,837.84 518.50,836.83 528.50,836.25" fill="none" stroke="#a8a8ff" stroke-width="0.8"/>
<polyline points="338.50,896.68 348.50,894.08 358.50,893.65 368.50,891.63 378.50,889.61 388.50,887.16 398.50,884.13 408.50,882.55 418.50,879.52 428.50,875.05 438.50,873.46 448.50,871.87 458.50,869.13 468.50,868.41 478.50,864.37 488.50,863.36 498.50,862.07 508.50,860.48 518.50,857.74 528.50,855.72" fill="none" stroke="#9fcf9f" stroke-width="0.8"/>
<rect x="336.55" y="838.92" width="3.9" height="3.9" fill="#ff0000"/>
<rect x="346.55" y="839.93" width="3.9" height="3.9" fill="#ff0000"/>
<rect x="356.55" y="837.33" width="3.9" height="3.9" fill="#ff0000"/>
<rect x="366.55" y="834.73" width="3.9" height="3.9" fill="#ff0000"/>
<rect x="376.55" y="831.85" width="3.9" height="3.9" fill="#ff0000"/>
<rect x="386.55" y="830.70" width="3.9" height="3.9" fill="#ff0000"/>
<rect x="396.55" y="829.83" width="3.9" height="3.9" fill="#ff0000"/>
<rect x="406.55" y="825.21" width="3.9" height="3.9" fill="#ff0000"/>
<rect x="416.55" y="821.90" width="3.9" height="3.9" fill="#ff0000"/>
<rect x="426.55" y="821.18" width="3.9" height="3.9" fill="#ff0000"/>
<rect x="436.55" y="818.58" width="3.9" height="3.9" fill="#ff0000"/>
<rect x="446.55" y="815.55" width="3.9" height="3.9" fill="#ff0000"/>
<rect x="456.55" y="811.51" width="3.9" height="3.9" fill="#ff0000"/>
<rect x="466.55" y="809.49" width="3.9" height="3.9" fill="#ff0000"/>
<rect x="476.55" y="806.18" width="3.9" height="3.9" fill="#ff0000"/>
<rect x="486.55" y="802.14" width="3.9" height="3.9" fill="#ff0000"/>
<rect x="496.55" y="798.53" width="3.9" height="3.9" fill="#ff0000"/>
<rect x="506.55" y="793.63" width="3.9" height="3.9" fill="#ff0000"/>
<rect x="516.55" y="789.59" width="3.9" height="3.9" fill="#ff0000"/>
<rect x="526.55" y="785.55" width="3.9" height="3.9" fill="#ff0000"/>
<circle cx="338.50" cy="834.66" r="2.15" fill="#0000ff"/>
<circle cx="348.50" cy="837.84" r="2.15" fill="#0000ff"/>
<circle cx="358.50" cy="839.86" r="2.15" fill="#0000ff"/>
<circle cx="368.50" cy="838.85" r="2.15" fill="#0000ff"/>
<circle cx="378.50" cy="836.25" r="2.15" fill="#0000ff"/>
<circle cx="388.50" cy="839.28" r="2.15" fill="#0000ff"/>
<circle cx="398.50" cy="841.88" r="2.15" fill="#0000ff"/>
<circle cx="408.50" cy="837.84" r="2.15" fill="#0000ff"/>
<circle cx="418.50" cy="840.72" r="2.15" fill="#0000ff"/>
<circle cx="428.50" cy="846.78" r="2.15" fill="#0000ff"/>
<circle cx="438.50" cy="843.89" r="2.15" fill="#0000ff"/>
<circle cx="448.50" cy="841.30" r="2.15" fill="#0000ff"/>
<circle cx="458.50" cy="843.32" r="2.15" fill="#0000ff"/>
<circle cx="468.50" cy="842.31" r="2.15" fill="#0000ff"/>
<circle cx="478.50" cy="841.88" r="2.15" fill="#0000ff"/>
<circle cx="488.50" cy="841.88" r="2.15" fill="#0000ff"/>
<circle cx="498.50" cy="840.29" r="2.15" fill="#0000ff"/>
<circle cx="508.50" cy="837.84" r="2.15" fill="#0000ff"/>
<circle cx="518.50" cy="836.83" r="2.15" fill="#0000ff"/>
<circle cx="528.50" cy="836.25" r="2.15" fill="#0000ff"/>
<path d="M338.50,894.18 L341.00,898.38 L336.00,898.38Z" fill="#008000"/>
<path d="M348.50,891.58 L351.00,895.78 L346.00,895.78Z" fill="#008000"/>
<path d="M358.50,891.15 L361.00,895.35 L356.00,895.35Z" fill="#008000"/>
<path d="M368.50,889.13 L371.00,893.33 L366.00,893.33Z" fill="#008000"/>
<path d="M378.50,887.11 L381.00,891.31 L376.00,891.31Z" fill="#008000"/>
<path d="M388.50,884.66 L391.00,888.86 L386.00,888.86Z" fill="#008000"/>
<path d="M398.50,881.63 L401.00,885.83 L396.00,885.83Z" fill="#008000"/>
<path d="M408.50,880.05 L411.00,884.25 L406.00,884.25Z" fill="#008000"/>
<path d="M418.50,877.02 L421.00,881.22 L416.00,881.22Z" fill="#008000"/>
<path d="M428.50,872.55 L431.00,876.75 L426.00,876.75Z" fill="#008000"/>
<path d="M438.50,870.96 L441.00,875.16 L436.00,875.16Z" fill="#008000"/>
<path d="M448.50,869.37 L451.00,873.57 L446.00,873.57Z" fill="#008000"/>
<path d="M458.50,866.63 L461.00,870.83 L456.00,870.83Z" fill="#008000"/>
<path d="M468.50,865.91 L471.00,870.11 L466.00,870.11Z" fill="#008000"/>
<path d="M478.50,861.87 L481.00,866.07 L476.00,866.07Z" fill="#008000"/>
<path d="M488.50,860.86 L491.00,865.06 L486.00,865.06Z" fill="#008000"/>
<path d="M498.50,859.57 L501.00,863.77 L496.00,863.77Z" fill="#008000"/>
<path d="M508.50,857.98 L511.00,862.18 L506.00,862.18Z" fill="#008000"/>
<path d="M518.50,855.24 L521.00,859.44 L516.00,859.44Z" fill="#008000"/>
<path d="M528.50,853.22 L531.00,857.42 L526.00,857.42Z" fill="#008000"/>
<line x1="402.60" y1="900.40" x2="424.50" y2="900.40" stroke="#ffa8a8" stroke-width="0.8"/>
<rect x="412.55" y="898.45" width="3.9" height="3.9" fill="#ff0000"/>
<text x="427.50" y="903.70" font-size="9.3" fill="#262626">NSTM</text>
<line x1="452.50" y1="900.40" x2="472.60" y2="900.40" stroke="#a8a8ff" stroke-width="0.8"/>
<circle cx="462.60" cy="900.40" r="2.15" fill="#0000ff"/>
<text x="475.50" y="903.70" font-size="9.3" fill="#262626">IRB</text>
<line x1="490.30" y1="900.40" x2="510.30" y2="900.40" stroke="#9fcf9f" stroke-width="0.8"/>
<path d="M500.30,897.90 L502.80,902.10 L497.80,902.10Z" fill="#008000"/>
<text x="513.50" y="903.70" font-size="9.3" fill="#262626">SSTM</text>
<text transform="translate(296.2,847.50) rotate(-90)" text-anchor="middle" font-size="9.7" fill="#262626">Population</text>
<text transform="translate(308.6,847.50) rotate(-90)" text-anchor="middle" font-size="9.7" fill="#262626">(People per grid cell)</text>
<text x="282.0" y="802.10" font-size="19" fill="#262626">(l)</text>
</svg></body></html>
